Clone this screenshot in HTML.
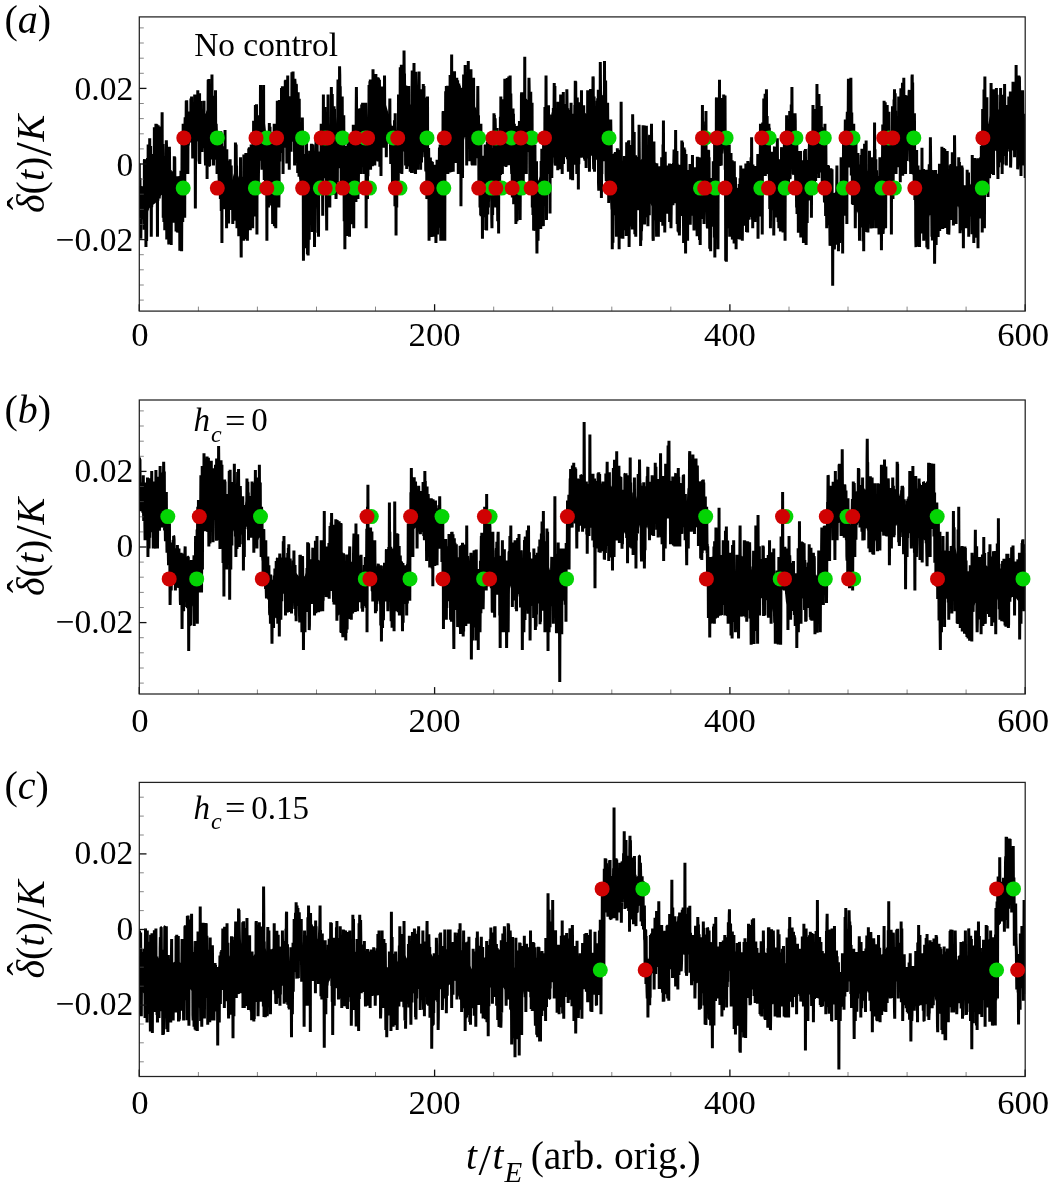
<!DOCTYPE html>
<html lang="en">
<head>
<meta charset="utf-8">
<title>Figure</title>
<style>
html,body{margin:0;padding:0;background:#fff;}
svg{display:block;}
text{font-family:"Liberation Serif","Times New Roman",serif;fill:#000;}
.tkx{font-size:34.7px;}
.tky{font-size:33.5px;}
.yl{font-size:40px;}
.pl{font-size:40px;}
.an{font-size:33px;}
.ti{font-size:39.5px;}
.it{font-style:italic;}
.sub{font-size:24px;}
.sub2{font-size:29px;}
</style>
</head>
<body>
<svg width="1048" height="1195" viewBox="0 0 1048 1195">
<rect x="0" y="0" width="1048" height="1195" fill="#fff"/>
<g id="panel-a">
<clipPath id="clipa"><rect x="139.3" y="16.9" width="885.9" height="294.2"/></clipPath>
<polygon clip-path="url(#clipa)" points="139.3,186.0 141.1,186.1 142.8,186.2 144.6,185.6 146.4,179.3 148.2,173.1 149.9,167.4 151.7,164.5 153.5,161.6 155.3,158.7 157.0,157.3 158.8,156.9 160.6,156.5 162.3,156.6 164.1,162.4 165.9,168.3 167.7,172.5 169.4,176.0 171.2,176.9 173.0,177.7 174.7,178.5 176.5,185.3 178.3,192.1 180.1,197.4 181.8,171.0 183.6,147.4 185.4,130.8 187.2,121.3 188.9,118.6 190.7,115.9 192.5,114.3 194.2,113.6 196.0,112.9 197.8,112.2 199.6,114.4 201.3,116.7 203.1,118.9 204.9,117.2 206.6,111.0 208.4,105.3 210.2,103.6 212.0,101.8 213.7,108.4 215.5,115.2 217.3,135.7 219.1,152.6 220.8,154.6 222.6,156.7 224.4,158.8 226.1,163.9 227.9,170.6 229.7,177.3 231.5,182.3 233.2,176.0 235.0,169.7 236.8,171.9 238.5,176.6 240.3,181.4 242.1,181.5 243.9,180.5 245.6,179.5 247.4,176.5 249.2,173.3 251.0,170.0 252.7,159.7 254.5,148.7 256.3,137.5 258.0,126.2 259.8,114.9 261.6,110.8 263.4,111.5 265.1,124.2 266.9,139.1 268.7,148.0 270.4,157.0 272.2,157.9 274.0,155.3 275.8,143.4 277.5,131.4 279.3,123.5 281.1,115.5 282.9,111.6 284.6,108.8 286.4,105.9 288.2,103.4 289.9,102.0 291.7,100.6 293.5,101.4 295.3,107.2 297.0,113.0 298.8,121.8 300.6,136.2 302.3,150.5 304.1,160.8 305.9,171.1 307.7,175.0 309.4,175.1 311.2,175.2 313.0,175.1 314.8,171.9 316.5,168.7 318.3,162.7 320.1,155.7 321.8,144.2 323.6,130.0 325.4,136.0 327.2,131.0 328.9,126.0 330.7,121.0 332.5,125.7 334.2,135.1 336.0,124.1 337.8,111.0 339.6,97.8 341.3,118.2 343.1,140.3 344.9,154.3 346.7,162.8 348.4,168.9 350.2,167.2 352.0,165.5 353.7,148.8 355.5,129.9 357.3,122.9 359.1,127.3 360.8,126.7 362.6,124.2 364.4,128.2 366.1,129.2 367.9,117.3 369.7,108.2 371.5,103.0 373.2,98.4 375.0,101.3 376.8,104.3 378.6,107.2 380.3,107.1 382.1,104.2 383.9,101.3 385.6,103.5 387.4,109.6 389.2,115.7 391.0,123.0 392.7,130.9 394.5,138.9 396.3,131.8 398.0,117.5 399.8,103.2 401.6,96.4 403.4,92.4 405.1,95.6 406.9,103.7 408.7,111.8 410.5,106.5 412.2,101.3 414.0,96.4 415.8,97.9 417.5,99.5 419.3,101.1 421.1,103.2 422.9,105.3 424.6,116.5 426.4,130.8 428.2,146.8 429.9,165.5 431.7,183.9 433.5,184.9 435.3,185.9 437.0,182.7 438.8,177.3 440.6,169.6 442.4,156.4 444.1,138.9 445.9,117.7 447.7,108.1 449.4,102.5 451.2,96.8 453.0,98.6 454.8,102.3 456.5,106.0 458.3,110.1 460.1,114.4 461.8,112.2 463.6,103.1 465.4,94.9 467.2,92.6 468.9,92.6 470.7,97.0 472.5,101.4 474.3,105.2 476.0,108.3 477.8,112.3 479.6,138.9 481.3,159.6 483.1,164.7 484.9,169.9 486.7,168.8 488.4,167.1 490.2,165.4 492.0,154.5 493.7,143.3 495.5,150.6 497.3,156.1 499.1,137.3 500.8,119.3 502.6,113.0 504.4,106.7 506.2,104.8 507.9,104.9 509.7,105.0 511.5,120.5 513.2,141.1 515.0,153.8 516.8,153.9 518.6,153.5 520.3,134.6 522.1,117.3 523.9,104.4 525.6,100.1 527.4,104.8 529.2,111.3 531.0,129.3 532.7,154.2 534.5,169.0 536.3,182.8 538.1,181.3 539.8,176.8 541.6,172.4 543.4,155.8 545.1,131.6 546.9,109.5 548.7,117.5 550.5,122.5 552.2,115.6 554.0,108.8 555.8,110.2 557.5,113.2 559.3,116.1 561.1,117.9 562.9,116.7 564.6,115.5 566.4,114.2 568.2,117.8 570.0,122.9 571.7,123.1 573.5,115.8 575.3,108.7 577.0,109.2 578.8,109.6 580.6,110.1 582.4,110.9 584.1,112.1 585.9,113.4 587.7,114.6 589.4,111.6 591.2,108.4 593.0,105.2 594.8,114.7 596.5,124.2 598.3,116.0 600.1,97.9 601.9,95.3 603.6,95.0 605.4,104.3 607.2,123.0 608.9,140.6 610.7,157.9 612.5,166.5 614.3,174.8 616.0,176.7 617.8,174.4 619.6,172.1 621.4,170.0 623.1,171.1 624.9,172.2 626.7,173.4 628.4,171.8 630.2,167.9 632.0,164.1 633.8,162.2 635.5,161.8 637.3,161.5 639.1,161.1 640.8,159.8 642.6,158.6 644.4,157.3 646.2,156.0 647.9,156.8 649.7,157.8 651.5,158.8 653.3,167.4 655.0,176.4 656.8,185.4 658.6,181.3 660.3,177.3 662.1,173.2 663.9,172.5 665.7,175.9 667.4,179.2 669.2,182.6 671.0,176.5 672.7,169.5 674.5,162.6 676.3,159.6 678.1,163.2 679.8,166.9 681.6,170.6 683.4,174.3 685.2,178.1 686.9,179.7 688.7,179.1 690.5,178.4 692.2,177.7 694.0,179.2 695.8,180.8 697.6,182.5 699.3,175.7 701.1,155.5 702.9,141.4 704.6,144.2 706.4,152.0 708.2,174.0 710.0,186.4 711.7,188.4 713.5,186.9 715.3,160.7 717.1,136.1 718.8,114.5 720.6,108.3 722.4,113.2 724.1,123.0 725.9,149.9 727.7,163.4 729.5,173.1 731.2,178.5 733.0,183.6 734.8,187.7 736.5,187.8 738.3,188.0 740.1,188.1 741.9,187.2 743.6,185.9 745.4,184.5 747.2,182.8 749.0,180.9 750.7,179.0 752.5,181.6 754.3,185.6 756.0,189.6 757.8,179.0 759.6,164.8 761.4,148.1 763.1,128.2 764.9,118.6 766.7,118.6 768.4,147.2 770.2,165.0 772.0,178.6 773.8,174.7 775.5,170.0 777.3,165.3 779.1,169.0 780.9,172.6 782.6,165.8 784.4,153.2 786.2,140.5 787.9,131.1 789.7,123.2 791.5,115.2 793.3,125.0 795.0,141.0 796.8,160.0 798.6,175.6 800.3,176.6 802.1,177.7 803.9,178.8 805.7,175.7 807.4,170.4 809.2,165.2 811.0,150.0 812.8,130.6 814.5,122.5 816.3,115.3 818.1,115.6 819.8,121.6 821.6,129.2 823.4,142.7 825.2,156.6 826.9,173.5 828.7,189.2 830.5,191.1 832.2,193.0 834.0,192.9 835.8,191.9 837.6,190.5 839.3,188.2 841.1,186.0 842.9,171.1 844.7,156.3 846.4,134.5 848.2,108.8 850.0,106.5 851.7,121.3 853.5,152.5 855.3,164.5 857.1,174.8 858.8,179.4 860.6,179.5 862.4,178.6 864.1,173.7 865.9,168.8 867.7,171.0 869.5,174.5 871.2,178.1 873.0,174.1 874.8,170.3 876.6,175.5 878.3,180.7 880.1,181.9 881.9,162.4 883.6,142.9 885.4,134.0 887.2,128.2 889.0,131.5 890.7,134.9 892.5,127.9 894.3,115.8 896.0,117.5 897.8,120.7 899.6,119.4 901.4,114.0 903.1,108.7 904.9,108.4 906.7,111.6 908.5,114.9 910.2,111.8 912.0,105.2 913.8,140.2 915.5,165.9 917.3,184.1 919.1,185.9 920.9,179.8 922.6,178.1 924.4,185.6 926.2,193.2 927.9,188.5 929.7,183.2 931.5,184.6 933.3,190.6 935.0,193.9 936.8,188.0 938.6,182.2 940.4,176.4 942.1,171.3 943.9,173.0 945.7,174.6 947.4,175.9 949.2,175.5 951.0,175.1 952.8,174.7 954.5,174.3 956.3,175.8 958.1,177.4 959.8,182.5 961.6,189.5 963.4,190.2 965.2,190.0 966.9,189.8 968.7,187.1 970.5,184.3 972.3,181.5 974.0,183.3 975.8,185.2 977.6,184.3 979.3,181.7 981.1,172.0 982.9,142.3 984.7,112.5 986.4,117.6 988.2,124.2 990.0,115.7 991.7,110.8 993.5,112.6 995.3,114.4 997.1,115.1 998.8,114.5 1000.6,113.7 1002.4,111.4 1004.2,109.1 1005.9,111.2 1007.7,115.1 1009.5,116.0 1011.2,110.3 1013.0,104.6 1014.8,99.4 1016.6,96.5 1018.3,103.3 1020.1,108.5 1021.9,111.7 1023.6,118.2 1023.6,148.3 1021.9,143.6 1020.1,145.6 1018.3,142.9 1016.6,136.6 1014.8,135.0 1013.0,134.7 1011.2,139.7 1009.5,144.7 1007.7,144.8 1005.9,142.6 1004.2,142.0 1002.4,145.0 1000.6,148.0 998.8,149.6 997.1,151.2 995.3,150.8 993.5,149.0 991.7,147.2 990.0,149.8 988.2,154.8 986.4,154.5 984.7,156.7 982.9,189.8 981.1,206.0 979.3,213.5 977.6,218.4 975.8,220.7 974.0,218.6 972.3,216.6 970.5,216.6 968.7,216.6 966.9,216.7 965.2,219.0 963.4,221.3 961.6,222.2 959.8,212.1 958.1,205.1 956.3,203.9 954.5,202.8 952.8,204.4 951.0,206.0 949.2,207.6 947.4,209.2 945.7,207.8 943.9,205.9 942.1,204.0 940.4,208.1 938.6,212.9 936.8,217.7 935.0,222.6 933.3,220.1 931.5,215.5 929.7,215.0 927.9,220.3 926.2,225.1 924.4,219.8 922.6,214.6 920.9,215.7 919.1,219.8 917.3,220.1 915.5,212.3 913.8,190.1 912.0,144.5 910.2,147.3 908.5,148.6 906.7,147.2 904.9,145.8 903.1,146.6 901.4,150.5 899.6,154.4 897.8,154.9 896.0,151.5 894.3,149.8 892.5,163.1 890.7,170.2 889.0,164.7 887.2,159.2 885.4,176.0 883.6,192.7 881.9,206.4 880.1,220.1 878.3,216.9 876.6,210.4 874.8,203.9 873.0,205.1 871.2,206.9 869.5,206.2 867.7,205.4 865.9,206.0 864.1,212.6 862.4,219.2 860.6,218.5 858.8,215.9 857.1,211.2 855.3,203.7 853.5,194.2 851.7,161.3 850.0,144.3 848.2,144.8 846.4,174.0 844.7,197.6 842.9,211.1 841.1,224.5 839.3,225.0 837.6,225.4 835.8,225.5 834.0,225.4 832.2,224.8 830.5,222.7 828.7,220.6 826.9,209.7 825.2,197.9 823.4,178.3 821.6,157.9 819.8,152.3 818.1,150.7 816.3,152.0 814.5,157.2 812.8,163.1 811.0,181.6 809.2,196.8 807.4,204.3 805.7,211.8 803.9,215.9 802.1,213.4 800.3,211.0 798.6,208.5 796.8,194.9 795.0,178.6 793.3,160.9 791.5,149.4 789.7,155.2 787.9,161.1 786.2,169.5 784.4,183.8 782.6,198.2 780.9,206.4 779.1,203.9 777.3,201.3 775.5,204.7 773.8,208.2 772.0,211.1 770.2,202.9 768.4,187.5 766.7,153.3 764.9,150.9 763.1,161.6 761.4,189.0 759.6,205.2 757.8,212.3 756.0,217.3 754.3,213.6 752.5,209.8 750.7,207.3 749.0,209.0 747.2,210.6 745.4,212.4 743.6,214.6 741.9,216.8 740.1,218.7 738.3,220.0 736.5,221.3 734.8,222.6 733.0,218.1 731.2,212.1 729.5,209.4 727.7,202.8 725.9,190.1 724.1,155.0 722.4,144.7 720.6,141.6 718.8,154.9 717.1,191.2 715.3,213.0 713.5,227.0 711.7,226.6 710.0,224.2 708.2,214.4 706.4,197.5 704.6,191.4 702.9,189.0 701.1,198.8 699.3,213.1 697.6,216.8 695.8,213.7 694.0,210.6 692.2,207.9 690.5,209.9 688.7,211.9 686.9,213.9 685.2,214.2 683.4,213.1 681.6,211.4 679.8,206.8 678.1,202.2 676.3,197.6 674.5,198.2 672.7,201.8 671.0,205.5 669.2,208.8 667.4,208.0 665.7,207.2 663.9,206.5 662.1,207.4 660.3,209.8 658.6,212.3 656.8,214.7 655.0,211.6 653.3,208.6 651.5,205.5 649.7,202.3 647.9,199.0 646.2,196.4 644.4,199.7 642.6,203.0 640.8,206.3 639.1,209.6 637.3,207.0 635.5,204.3 633.8,201.6 632.0,202.3 630.2,207.6 628.4,212.9 626.7,214.9 624.9,213.0 623.1,211.2 621.4,209.4 619.6,209.9 617.8,210.5 616.0,211.2 614.3,211.3 612.5,210.8 610.7,209.4 608.9,181.8 607.2,158.2 605.4,146.1 603.6,140.1 601.9,140.2 600.1,142.0 598.3,155.2 596.5,160.5 594.8,151.9 593.0,143.3 591.2,144.6 589.4,146.0 587.7,147.2 585.9,144.3 584.1,141.4 582.4,138.5 580.6,138.3 578.8,140.9 577.0,143.4 575.3,145.9 573.5,150.5 571.7,155.1 570.0,154.4 568.2,150.2 566.4,147.2 564.6,148.1 562.9,148.9 561.1,149.8 559.3,148.2 557.5,145.6 555.8,142.9 554.0,141.7 552.2,147.7 550.5,153.7 548.7,151.3 546.9,146.9 545.1,175.3 543.4,194.1 541.6,203.3 539.8,208.1 538.1,212.8 536.3,214.9 534.5,203.2 532.7,197.7 531.0,177.0 529.2,153.7 527.4,147.3 525.6,143.2 523.9,146.2 522.1,155.8 520.3,172.3 518.6,191.2 516.8,192.6 515.0,193.6 513.2,181.1 511.5,160.1 509.7,144.0 507.9,142.3 506.2,140.6 504.4,140.9 502.6,145.6 500.8,150.4 499.1,173.3 497.3,197.4 495.5,190.6 493.7,180.8 492.0,191.3 490.2,201.3 488.4,202.5 486.7,203.6 484.9,204.6 483.1,204.5 481.3,204.3 479.6,179.8 477.8,146.1 476.0,142.4 474.3,140.1 472.5,137.6 470.7,134.9 468.9,132.2 467.2,132.7 465.4,135.1 463.6,141.4 461.8,148.3 460.1,150.3 458.3,147.4 456.5,144.7 454.8,142.7 453.0,140.8 451.2,139.7 449.4,142.6 447.7,145.4 445.9,155.2 444.1,185.9 442.4,204.6 440.6,210.3 438.8,212.5 437.0,213.3 435.3,213.9 433.5,214.0 431.7,214.1 429.9,207.2 428.2,200.2 426.4,181.0 424.6,154.6 422.9,135.7 421.1,137.9 419.3,140.0 417.5,140.3 415.8,140.5 414.0,140.6 412.2,142.4 410.5,144.2 408.7,146.1 406.9,141.2 405.1,136.4 403.4,135.1 401.6,139.0 399.8,145.4 398.0,158.0 396.3,170.6 394.5,175.2 392.7,163.3 391.0,151.4 389.2,142.5 387.4,138.7 385.6,134.9 383.9,134.8 382.1,139.6 380.3,144.5 378.6,145.7 376.8,142.8 375.0,139.8 373.2,136.9 371.5,139.7 369.7,142.9 367.9,152.6 366.1,167.2 364.4,162.2 362.6,152.6 360.8,153.6 359.1,156.0 357.3,162.3 355.5,172.9 353.7,188.1 352.0,201.6 350.2,204.4 348.4,207.1 346.7,203.4 344.9,197.8 343.1,184.8 341.3,161.2 339.6,139.2 337.8,150.5 336.0,161.8 334.2,171.5 332.5,166.1 330.7,164.5 328.9,170.7 327.2,174.6 325.4,176.8 323.6,174.2 321.8,183.6 320.1,193.2 318.3,201.3 316.5,208.2 314.8,212.1 313.0,216.0 311.2,217.5 309.4,218.8 307.7,220.1 305.9,216.9 304.1,205.9 302.3,194.8 300.6,175.5 298.8,156.2 297.0,146.7 295.3,142.6 293.5,138.5 291.7,138.3 289.9,139.7 288.2,141.1 286.4,142.9 284.6,144.8 282.9,146.7 281.1,150.5 279.3,162.0 277.5,173.6 275.8,185.6 274.0,196.9 272.2,196.7 270.4,194.1 268.7,186.2 266.9,178.3 265.1,161.6 263.4,146.9 261.6,145.3 259.8,151.3 258.0,168.7 256.3,186.1 254.5,197.1 252.7,200.3 251.0,203.5 249.2,207.3 247.4,211.2 245.6,214.5 243.9,215.0 242.1,215.4 240.3,214.9 238.5,210.4 236.8,206.0 235.0,202.9 233.2,204.6 231.5,206.3 229.7,204.6 227.9,202.4 226.1,200.2 224.4,196.9 222.6,191.3 220.8,185.7 219.1,180.1 217.3,165.4 215.5,148.7 213.7,143.4 212.0,138.2 210.2,139.0 208.4,139.7 206.6,142.2 204.9,144.8 203.1,145.4 201.3,144.1 199.6,142.8 197.8,141.5 196.0,140.8 194.2,140.1 192.5,139.3 190.7,140.9 188.9,145.3 187.2,149.7 185.4,162.4 183.6,183.7 181.8,205.6 180.1,227.7 178.3,221.7 176.5,214.3 174.7,207.0 173.0,209.9 171.2,212.8 169.4,215.3 167.7,211.8 165.9,207.4 164.1,200.9 162.3,194.3 160.6,196.1 158.8,198.6 157.0,201.2 155.3,203.2 153.5,204.5 151.7,205.7 149.9,207.0 148.2,211.1 146.4,215.8 144.6,220.5 142.8,219.6 141.1,217.9 139.3,216.3" fill="#000"/>
<polyline clip-path="url(#clipa)" points="139.30,163.4 139.52,215.9 139.74,207.3 139.96,177.9 140.19,218.1 140.41,209.9 140.63,191.9 140.85,238.7 141.07,208.8 141.29,207.7 141.52,202.8 141.74,212.8 141.96,211.0 142.18,199.5 142.40,193.4 142.62,214.5 142.84,203.7 143.07,197.3 143.29,187.6 143.51,198.1 143.73,203.5 143.95,197.9 144.17,229.8 144.40,160.3 144.62,159.4 144.84,165.6 145.06,198.1 145.28,192.2 145.50,204.8 145.72,204.2 145.95,247.1 146.17,174.6 146.39,217.7 146.61,240.9 146.83,210.2 147.05,210.0 147.28,183.6 147.50,157.9 147.72,197.2 147.94,195.2 148.16,144.6 148.38,164.0 148.60,189.1 148.83,168.6 149.05,187.1 149.27,190.8 149.49,188.8 149.71,138.3 149.93,201.0 150.15,207.7 150.38,194.2 150.60,145.9 150.82,203.5 151.04,173.9 151.26,236.7 151.48,180.1 151.71,207.2 151.93,184.3 152.15,154.0 152.37,176.6 152.59,185.4 152.81,190.6 153.03,159.0 153.26,155.5 153.48,188.0 153.70,170.9 153.92,188.5 154.14,201.7 154.36,127.3 154.59,188.3 154.81,173.8 155.03,173.5 155.25,159.7 155.47,200.5 155.69,199.6 155.91,123.7 156.14,170.9 156.36,140.9 156.58,176.7 156.80,124.3 157.02,199.2 157.24,184.0 157.47,236.7 157.69,148.5 157.91,200.7 158.13,125.2 158.35,162.2 158.57,177.9 158.79,127.4 159.02,189.0 159.24,198.6 159.46,183.4 159.68,174.8 159.90,170.7 160.12,146.6 160.35,126.6 160.57,173.1 160.79,176.9 161.01,143.2 161.23,183.3 161.45,160.8 161.67,194.8 161.90,151.7 162.12,112.2 162.34,182.8 162.56,184.7 162.78,157.5 163.00,144.0 163.23,217.8 163.45,196.3 163.67,164.6 163.89,222.0 164.11,177.3 164.33,201.7 164.55,184.0 164.78,230.3 165.00,168.5 165.22,196.2 165.44,156.1 165.66,202.3 165.88,222.9 166.11,153.5 166.33,140.4 166.55,148.0 166.77,239.5 166.99,167.7 167.21,162.3 167.43,205.3 167.66,172.7 167.88,238.7 168.10,190.7 168.32,223.5 168.54,184.5 168.76,243.5 168.99,243.9 169.21,177.7 169.43,146.7 169.65,174.0 169.87,195.8 170.09,170.3 170.31,171.2 170.54,241.8 170.76,194.0 170.98,227.6 171.20,245.0 171.42,186.0 171.64,189.9 171.86,203.1 172.09,200.0 172.31,171.3 172.53,210.2 172.75,182.6 172.97,173.8 173.19,216.2 173.42,186.4 173.64,222.8 173.86,172.3 174.08,195.9 174.30,156.3 174.52,192.8 174.74,157.2 174.97,189.6 175.19,183.9 175.41,199.3 175.63,208.1 175.85,208.4 176.07,231.5 176.30,228.3 176.52,189.7 176.74,198.5 176.96,200.3 177.18,204.3 177.40,232.4 177.62,207.2 177.85,176.2 178.07,220.4 178.29,196.9 178.51,200.3 178.73,219.8 178.95,232.6 179.18,219.1 179.40,214.1 179.62,195.8 179.84,250.7 180.06,176.0 180.28,191.1 180.50,192.1 180.73,205.1 180.95,170.8 181.17,200.6 181.39,185.3 181.61,251.3 181.83,207.8 182.06,141.4 182.28,183.1 182.50,144.8 182.72,222.1 182.94,176.8 183.16,123.7 183.38,144.8 183.61,204.6 183.83,205.6 184.05,138.8 184.27,166.0 184.49,142.6 184.71,217.8 184.94,127.0 185.16,117.2 185.38,128.6 185.60,138.9 185.82,150.9 186.04,128.2 186.26,100.7 186.49,127.2 186.71,100.3 186.93,116.2 187.15,128.2 187.37,131.6 187.59,129.1 187.82,173.9 188.04,129.0 188.26,145.4 188.48,127.7 188.70,130.2 188.92,121.5 189.14,123.3 189.37,111.5 189.59,138.6 189.81,112.8 190.03,118.5 190.25,134.7 190.47,134.8 190.70,142.4 190.92,98.5 191.14,133.6 191.36,130.8 191.58,96.5 191.80,137.9 192.02,114.8 192.25,110.4 192.47,128.2 192.69,158.4 192.91,129.8 193.13,157.2 193.35,154.2 193.57,117.6 193.80,103.2 194.02,136.4 194.24,120.3 194.46,131.9 194.68,94.6 194.90,98.5 195.13,130.7 195.35,208.4 195.57,137.8 195.79,161.5 196.01,112.6 196.23,128.1 196.45,134.2 196.68,123.0 196.90,112.3 197.12,137.3 197.34,96.9 197.56,109.2 197.78,90.2 198.01,103.7 198.23,127.8 198.45,126.6 198.67,112.9 198.89,112.5 199.11,117.7 199.33,163.4 199.56,93.2 199.78,164.1 200.00,118.3 200.22,117.3 200.44,143.6 200.66,129.1 200.89,101.1 201.11,140.3 201.33,144.1 201.55,123.4 201.77,126.3 201.99,152.0 202.21,116.9 202.44,138.4 202.66,134.8 202.88,121.4 203.10,110.5 203.32,128.9 203.54,119.1 203.77,148.2 203.99,100.7 204.21,144.7 204.43,134.2 204.65,135.8 204.87,118.3 205.09,141.5 205.32,159.8 205.54,165.5 205.76,118.6 205.98,125.5 206.20,119.1 206.42,113.4 206.65,129.1 206.87,120.6 207.09,179.1 207.31,124.9 207.53,111.4 207.75,142.5 207.97,117.3 208.20,79.7 208.42,109.7 208.64,105.9 208.86,78.9 209.08,119.7 209.30,93.1 209.53,165.5 209.75,165.5 209.97,116.8 210.19,119.6 210.41,107.7 210.63,108.7 210.85,124.8 211.08,159.6 211.30,98.4 211.52,129.9 211.74,116.2 211.96,74.5 212.18,140.7 212.41,145.5 212.63,122.5 212.85,132.9 213.07,95.8 213.29,137.7 213.51,165.5 213.73,135.9 213.96,159.4 214.18,132.6 214.40,133.5 214.62,118.1 214.84,141.5 215.06,104.3 215.28,121.4 215.51,90.2 215.73,145.9 215.95,137.8 216.17,123.8 216.39,130.8 216.61,159.7 216.84,145.7 217.06,173.9 217.28,165.3 217.50,160.1 217.72,137.3 217.94,152.0 218.16,173.6 218.39,145.3 218.61,132.1 218.83,158.0 219.05,177.2 219.27,183.3 219.49,155.0 219.72,166.9 219.94,147.8 220.16,189.5 220.38,199.0 220.60,147.8 220.82,131.3 221.04,184.4 221.27,211.0 221.49,139.6 221.71,161.7 221.93,242.9 222.15,146.2 222.37,149.4 222.60,184.5 222.82,195.5 223.04,170.1 223.26,186.8 223.48,178.4 223.70,209.3 223.92,181.6 224.15,199.3 224.37,173.9 224.59,174.1 224.81,176.6 225.03,130.0 225.25,193.0 225.48,163.6 225.70,196.0 225.92,198.2 226.14,156.9 226.36,177.2 226.58,228.3 226.80,149.2 227.03,188.1 227.25,208.4 227.47,168.6 227.69,200.1 227.91,160.8 228.13,176.9 228.36,179.0 228.58,223.4 228.80,160.9 229.02,198.9 229.24,205.6 229.46,196.6 229.68,209.9 229.91,175.7 230.13,159.3 230.35,204.2 230.57,175.5 230.79,189.0 231.01,177.6 231.24,165.5 231.46,206.5 231.68,183.4 231.90,196.0 232.12,188.5 232.34,190.2 232.56,192.7 232.79,224.1 233.01,201.0 233.23,195.5 233.45,183.8 233.67,206.9 233.89,220.8 234.12,193.5 234.34,195.6 234.56,215.2 234.78,177.1 235.00,220.4 235.22,207.5 235.44,142.5 235.67,172.5 235.89,198.4 236.11,144.4 236.33,165.6 236.55,165.7 236.77,177.8 236.99,228.3 237.22,211.9 237.44,218.1 237.66,208.5 237.88,198.9 238.10,183.9 238.32,194.0 238.55,211.1 238.77,236.3 238.99,212.8 239.21,189.7 239.43,196.6 239.65,186.9 239.87,181.5 240.10,193.9 240.32,202.0 240.54,157.2 240.76,200.0 240.98,225.6 241.20,257.6 241.43,176.7 241.65,230.5 241.87,212.7 242.09,190.1 242.31,240.8 242.53,198.7 242.75,234.9 242.98,213.8 243.20,200.9 243.42,206.7 243.64,240.8 243.86,154.6 244.08,166.7 244.31,202.8 244.53,154.6 244.75,200.7 244.97,203.1 245.19,209.3 245.41,183.4 245.63,192.1 245.86,153.0 246.08,217.2 246.30,204.2 246.52,239.3 246.74,193.3 246.96,215.2 247.19,220.1 247.41,240.8 247.63,209.2 247.85,169.0 248.07,195.8 248.29,214.5 248.51,197.1 248.74,148.4 248.96,183.1 249.18,201.5 249.40,147.3 249.62,194.1 249.84,189.5 250.07,161.3 250.29,230.3 250.51,160.2 250.73,165.9 250.95,163.1 251.17,144.6 251.39,167.2 251.62,198.4 251.84,196.2 252.06,221.0 252.28,152.1 252.50,166.6 252.72,228.3 252.95,147.6 253.17,142.6 253.39,173.2 253.61,120.8 253.83,182.3 254.05,194.9 254.27,144.1 254.50,199.7 254.72,188.5 254.94,160.9 255.16,216.6 255.38,104.9 255.60,144.2 255.82,167.0 256.05,204.1 256.27,119.6 256.49,104.2 256.71,165.7 256.93,234.6 257.15,139.2 257.38,168.8 257.60,158.0 257.82,121.0 258.04,161.6 258.26,191.5 258.48,172.6 258.70,165.4 258.93,140.7 259.15,160.8 259.37,115.2 259.59,151.3 259.81,131.2 260.03,154.9 260.26,139.0 260.48,85.0 260.70,136.9 260.92,152.0 261.14,105.1 261.36,116.6 261.58,112.5 261.81,97.8 262.03,169.7 262.25,90.7 262.47,145.1 262.69,133.8 262.91,127.9 263.14,134.0 263.36,114.0 263.58,85.0 263.80,152.7 264.02,152.5 264.24,180.1 264.46,138.5 264.69,135.2 264.91,148.6 265.13,146.8 265.35,173.9 265.57,194.3 265.79,191.1 266.02,166.5 266.24,173.0 266.46,155.9 266.68,166.4 266.90,240.8 267.12,131.1 267.34,157.9 267.57,168.9 267.79,178.6 268.01,156.2 268.23,186.6 268.45,207.4 268.67,165.9 268.90,187.2 269.12,148.8 269.34,123.0 269.56,147.9 269.78,174.4 270.00,126.7 270.22,166.6 270.45,168.3 270.67,145.6 270.89,132.1 271.11,167.9 271.33,176.3 271.55,205.6 271.78,185.9 272.00,141.7 272.22,157.8 272.44,193.3 272.66,224.1 272.88,185.9 273.10,184.0 273.33,220.9 273.55,175.8 273.77,168.7 273.99,141.5 274.21,123.7 274.43,226.2 274.66,180.9 274.88,171.0 275.10,134.3 275.32,170.8 275.54,188.1 275.76,228.3 275.98,181.1 276.21,179.3 276.43,171.0 276.65,201.2 276.87,176.2 277.09,153.8 277.31,100.7 277.53,131.6 277.76,193.0 277.98,142.2 278.20,199.8 278.42,191.3 278.64,141.4 278.86,207.4 279.09,182.7 279.31,100.1 279.53,131.4 279.75,161.4 279.97,119.1 280.19,127.6 280.41,129.2 280.64,149.4 280.86,137.1 281.08,141.3 281.30,143.9 281.52,88.1 281.74,153.1 281.97,115.5 282.19,100.7 282.41,86.2 282.63,96.1 282.85,117.8 283.07,173.9 283.29,132.1 283.52,115.8 283.74,105.6 283.96,116.6 284.18,118.9 284.40,115.1 284.62,96.5 284.85,116.4 285.07,147.8 285.29,80.4 285.51,120.4 285.73,79.7 285.95,128.9 286.17,108.5 286.40,144.7 286.62,126.3 286.84,163.5 287.06,125.9 287.28,148.8 287.50,121.3 287.73,75.6 287.95,133.3 288.17,113.0 288.39,157.7 288.61,139.3 288.83,128.1 289.05,109.9 289.28,169.7 289.50,101.9 289.72,135.3 289.94,100.1 290.16,134.2 290.38,96.2 290.61,126.2 290.83,125.8 291.05,151.7 291.27,101.6 291.49,109.1 291.71,138.0 291.93,72.2 292.16,95.5 292.38,141.8 292.60,129.0 292.82,140.2 293.04,71.4 293.26,131.7 293.49,101.7 293.71,90.8 293.93,84.6 294.15,110.0 294.37,110.7 294.59,165.5 294.81,78.8 295.04,82.4 295.26,113.8 295.48,131.5 295.70,114.2 295.92,108.8 296.14,84.2 296.37,85.0 296.59,125.1 296.81,162.8 297.03,146.4 297.25,135.9 297.47,119.9 297.69,173.1 297.92,110.1 298.14,92.3 298.36,134.9 298.58,147.5 298.80,158.2 299.02,176.7 299.24,98.7 299.47,167.5 299.69,173.9 299.91,129.8 300.13,137.8 300.35,131.4 300.57,178.5 300.80,179.6 301.02,190.4 301.24,161.5 301.46,171.0 301.68,151.9 301.90,139.4 302.12,182.0 302.35,117.4 302.57,145.2 302.79,190.7 303.01,131.1 303.23,173.4 303.45,260.7 303.68,166.8 303.90,228.3 304.12,208.6 304.34,199.7 304.56,194.1 304.78,190.8 305.00,154.1 305.23,179.9 305.45,248.3 305.67,195.6 305.89,226.2 306.11,203.8 306.33,180.1 306.56,140.4 306.78,203.0 307.00,158.6 307.22,201.3 307.44,254.3 307.66,167.1 307.88,186.0 308.11,255.5 308.33,235.3 308.55,222.2 308.77,217.0 308.99,202.4 309.21,239.8 309.44,171.1 309.66,150.8 309.88,175.7 310.10,220.5 310.32,177.4 310.54,159.1 310.76,194.7 310.99,152.1 311.21,187.2 311.43,143.7 311.65,189.6 311.87,144.0 312.09,189.5 312.32,232.1 312.54,188.7 312.76,144.6 312.98,179.3 313.20,172.8 313.42,157.9 313.64,218.2 313.87,191.5 314.09,231.0 314.31,163.9 314.53,247.1 314.75,192.9 314.97,223.8 315.20,232.9 315.42,174.4 315.64,162.6 315.86,148.1 316.08,139.7 316.30,185.7 316.52,172.3 316.75,185.7 316.97,138.3 317.19,145.8 317.41,206.1 317.63,192.7 317.85,186.1 318.08,159.0 318.30,194.1 318.52,236.7 318.74,151.4 318.96,184.2 319.18,167.3 319.40,184.2 319.63,175.5 319.85,171.0 320.07,153.9 320.29,172.0 320.51,158.0 320.73,167.3 320.95,166.5 321.18,123.7 321.40,153.8 321.62,157.3 321.84,187.4 322.06,155.4 322.28,161.6 322.51,177.9 322.73,215.7 322.95,154.9 323.17,156.3 323.39,94.4 323.61,178.2 323.83,123.9 324.06,141.3 324.28,114.6 324.50,161.1 324.72,109.7 324.94,106.9 325.16,158.8 325.39,126.7 325.61,120.0 325.83,152.8 326.05,173.5 326.27,169.3 326.49,207.4 326.71,230.4 326.94,114.8 327.16,153.0 327.38,207.4 327.60,139.4 327.82,169.3 328.04,94.4 328.27,183.7 328.49,138.9 328.71,133.8 328.93,150.0 329.15,179.9 329.37,187.5 329.59,136.1 329.82,207.4 330.04,143.9 330.26,133.9 330.48,158.0 330.70,161.3 330.92,155.2 331.15,124.1 331.37,87.1 331.59,142.9 331.81,180.3 332.03,177.3 332.25,93.9 332.47,122.1 332.70,122.9 332.92,194.8 333.14,149.4 333.36,155.2 333.58,132.0 333.80,160.4 334.03,106.3 334.25,124.4 334.47,109.0 334.69,157.0 334.91,165.3 335.13,144.4 335.35,185.6 335.58,173.7 335.80,162.8 336.02,199.0 336.24,188.8 336.46,147.6 336.68,125.0 336.91,128.8 337.13,155.5 337.35,182.1 337.57,136.7 337.79,102.3 338.01,79.5 338.23,144.6 338.46,168.3 338.68,97.5 338.90,137.4 339.12,100.5 339.34,165.7 339.56,66.2 339.78,75.7 340.01,125.3 340.23,86.3 340.45,126.4 340.67,153.5 340.89,99.6 341.11,181.8 341.34,169.7 341.56,125.6 341.78,141.9 342.00,146.0 342.22,96.4 342.44,153.6 342.66,120.8 342.89,190.6 343.11,166.1 343.33,153.7 343.55,195.1 343.77,115.3 343.99,161.6 344.22,221.2 344.44,170.5 344.66,156.9 344.88,249.2 345.10,158.6 345.32,228.3 345.54,180.1 345.77,168.9 345.99,159.7 346.21,161.8 346.43,145.9 346.65,185.2 346.87,192.8 347.10,201.9 347.32,235.3 347.54,204.7 347.76,236.1 347.98,140.4 348.20,190.0 348.42,205.8 348.65,198.9 348.87,203.2 349.09,207.7 349.31,206.3 349.53,236.7 349.75,140.1 349.98,169.0 350.20,193.1 350.42,174.8 350.64,199.7 350.86,201.8 351.08,185.3 351.30,224.3 351.53,138.7 351.75,203.3 351.97,200.8 352.19,138.3 352.41,193.4 352.63,165.3 352.86,195.4 353.08,167.4 353.30,124.8 353.52,150.9 353.74,228.3 353.96,157.2 354.18,137.1 354.41,177.2 354.63,129.4 354.85,133.4 355.07,177.2 355.29,177.3 355.51,167.8 355.74,157.5 355.96,202.0 356.18,113.0 356.40,87.1 356.62,117.2 356.84,114.6 357.06,135.1 357.29,167.9 357.51,163.8 357.73,137.2 357.95,199.0 358.17,122.0 358.39,182.9 358.62,159.5 358.84,152.0 359.06,135.7 359.28,140.2 359.50,109.0 359.72,136.1 359.94,108.2 360.17,139.6 360.39,139.4 360.61,144.7 360.83,143.2 361.05,173.9 361.27,139.3 361.49,152.1 361.72,104.6 361.94,120.8 362.16,167.0 362.38,118.1 362.60,102.8 362.82,150.8 363.05,124.2 363.27,153.4 363.49,115.3 363.71,106.5 363.93,117.7 364.15,173.9 364.37,144.6 364.60,139.3 364.82,153.5 365.04,125.6 365.26,102.8 365.48,147.2 365.70,102.8 365.93,116.9 366.15,228.3 366.37,132.3 366.59,146.5 366.81,162.9 367.03,155.6 367.25,159.8 367.48,199.0 367.70,120.1 367.92,176.3 368.14,128.1 368.36,141.1 368.58,144.6 368.81,156.5 369.03,85.0 369.25,116.7 369.47,117.0 369.69,119.2 369.91,81.3 370.13,122.3 370.36,79.6 370.58,169.7 370.80,134.0 371.02,134.9 371.24,95.9 371.46,141.7 371.69,101.9 371.91,93.3 372.13,98.0 372.35,166.3 372.57,122.3 372.79,120.0 373.01,69.3 373.24,105.2 373.46,138.2 373.68,122.8 373.90,130.1 374.12,85.1 374.34,140.9 374.57,84.3 374.79,165.5 375.01,151.3 375.23,156.8 375.45,132.9 375.67,113.4 375.89,73.9 376.12,111.5 376.34,149.2 376.56,123.2 376.78,120.6 377.00,92.0 377.22,160.7 377.45,139.2 377.67,81.5 377.89,77.2 378.11,161.5 378.33,146.1 378.55,78.3 378.77,101.1 379.00,105.1 379.22,121.9 379.44,79.7 379.66,113.6 379.88,166.8 380.10,105.7 380.33,117.9 380.55,143.8 380.77,119.6 380.99,176.0 381.21,121.0 381.43,132.9 381.65,86.6 381.88,117.2 382.10,119.6 382.32,113.1 382.54,136.0 382.76,108.9 382.98,112.6 383.20,120.2 383.43,133.5 383.65,114.1 383.87,147.8 384.09,99.8 384.31,142.0 384.53,75.6 384.76,113.6 384.98,124.2 385.20,108.0 385.42,135.2 385.64,111.7 385.86,143.5 386.08,116.6 386.31,157.2 386.53,129.7 386.75,124.0 386.97,139.5 387.19,114.1 387.41,130.7 387.64,135.5 387.86,130.1 388.08,125.6 388.30,115.2 388.52,123.2 388.74,130.1 388.96,136.4 389.19,123.6 389.41,130.0 389.63,114.4 389.85,98.6 390.07,144.1 390.29,134.9 390.52,148.6 390.74,164.1 390.96,138.5 391.18,135.2 391.40,163.4 391.62,148.5 391.84,139.2 392.07,125.7 392.29,156.6 392.51,185.7 392.73,155.6 392.95,141.9 393.17,153.5 393.40,155.9 393.62,187.9 393.84,139.3 394.06,154.3 394.28,163.5 394.50,120.2 394.72,123.6 394.95,206.2 395.17,113.2 395.39,170.8 395.61,137.3 395.83,137.4 396.05,235.6 396.28,130.7 396.50,167.5 396.72,207.4 396.94,160.0 397.16,151.8 397.38,190.1 397.60,130.0 397.83,132.1 398.05,158.9 398.27,187.0 398.49,94.4 398.71,169.2 398.93,97.9 399.16,117.8 399.38,149.3 399.60,153.5 399.82,103.3 400.04,121.8 400.26,67.2 400.48,149.8 400.71,173.0 400.93,73.3 401.15,141.7 401.37,64.8 401.59,118.1 401.81,173.9 402.04,166.7 402.26,120.4 402.48,97.3 402.70,102.7 402.92,100.3 403.14,119.0 403.36,109.8 403.59,129.7 403.81,151.4 404.03,50.5 404.25,82.3 404.47,73.6 404.69,96.0 404.91,109.5 405.14,108.0 405.36,101.0 405.58,165.5 405.80,85.5 406.02,125.7 406.24,131.7 406.47,114.0 406.69,169.1 406.91,129.5 407.13,110.5 407.35,109.3 407.57,115.1 407.79,138.4 408.02,127.7 408.24,102.7 408.46,121.9 408.68,86.0 408.90,166.6 409.12,104.4 409.35,134.7 409.57,121.7 409.79,144.4 410.01,136.0 410.23,171.8 410.45,136.9 410.67,112.7 410.90,112.3 411.12,133.3 411.34,132.7 411.56,173.0 411.78,162.4 412.00,94.2 412.23,70.4 412.45,88.9 412.67,80.1 412.89,139.0 413.11,133.9 413.33,93.2 413.55,161.3 413.78,93.4 414.00,63.0 414.22,135.5 414.44,124.4 414.66,173.3 414.88,117.1 415.11,172.9 415.33,115.5 415.55,173.9 415.77,71.8 415.99,85.9 416.21,134.5 416.43,102.1 416.66,132.9 416.88,149.8 417.10,111.1 417.32,126.6 417.54,169.8 417.76,136.6 417.99,163.8 418.21,156.4 418.43,138.0 418.65,95.8 418.87,100.9 419.09,71.4 419.31,131.7 419.54,131.1 419.76,116.7 419.98,139.1 420.20,107.5 420.42,144.2 420.64,169.7 420.87,122.7 421.09,148.2 421.31,102.6 421.53,162.5 421.75,89.2 421.97,123.9 422.19,143.9 422.42,133.8 422.64,115.1 422.86,151.6 423.08,101.8 423.30,83.9 423.52,133.0 423.75,97.9 423.97,85.9 424.19,148.7 424.41,149.4 424.63,152.0 424.85,157.2 425.07,145.1 425.30,119.0 425.52,148.4 425.74,169.5 425.96,171.4 426.18,97.6 426.40,162.7 426.62,117.2 426.85,199.1 427.07,188.9 427.29,154.9 427.51,96.5 427.73,190.2 427.95,184.2 428.18,180.9 428.40,165.7 428.62,147.9 428.84,163.1 429.06,240.8 429.28,165.8 429.50,210.1 429.73,221.0 429.95,216.8 430.17,205.8 430.39,157.6 430.61,236.7 430.83,203.6 431.06,192.2 431.28,237.1 431.50,191.3 431.72,161.3 431.94,204.5 432.16,192.8 432.38,162.0 432.61,198.6 432.83,207.5 433.05,192.2 433.27,236.7 433.49,207.2 433.71,217.0 433.94,191.6 434.16,208.4 434.38,166.9 434.60,178.7 434.82,205.1 435.04,164.7 435.26,183.5 435.49,165.1 435.71,220.2 435.93,242.9 436.15,228.2 436.37,203.2 436.59,196.1 436.82,202.7 437.04,159.7 437.26,211.1 437.48,234.6 437.70,215.8 437.92,187.6 438.14,166.8 438.37,227.7 438.59,166.0 438.81,196.5 439.03,213.5 439.25,168.1 439.47,147.5 439.70,204.0 439.92,169.6 440.14,144.6 440.36,193.5 440.58,217.7 440.80,240.8 441.02,206.8 441.25,172.9 441.47,174.1 441.69,240.8 441.91,188.6 442.13,158.5 442.35,141.9 442.58,198.6 442.80,240.8 443.02,113.1 443.24,111.1 443.46,165.9 443.68,191.5 443.90,190.2 444.13,163.9 444.35,131.8 444.57,119.3 444.79,240.8 445.01,121.7 445.23,141.1 445.45,137.7 445.68,91.3 445.90,106.9 446.12,165.5 446.34,86.0 446.56,153.2 446.78,95.9 447.01,157.4 447.23,111.4 447.45,85.8 447.67,99.8 447.89,173.9 448.11,125.5 448.33,120.8 448.56,171.8 448.78,118.0 449.00,168.1 449.22,106.6 449.44,133.5 449.66,123.9 449.89,172.5 450.11,75.0 450.33,147.1 450.55,102.2 450.77,104.6 450.99,116.4 451.21,171.9 451.44,98.3 451.66,54.6 451.88,150.8 452.10,97.1 452.32,130.7 452.54,118.4 452.77,121.7 452.99,115.5 453.21,171.8 453.43,129.9 453.65,141.6 453.87,110.7 454.09,103.4 454.32,96.3 454.54,71.3 454.76,151.4 454.98,135.9 455.20,135.9 455.42,163.0 455.65,128.8 455.87,141.7 456.09,97.0 456.31,100.3 456.53,118.2 456.75,77.7 456.97,141.7 457.20,96.7 457.42,128.5 457.64,80.2 457.86,103.5 458.08,120.9 458.30,173.9 458.53,90.2 458.75,83.5 458.97,151.2 459.19,144.5 459.41,85.5 459.63,118.9 459.85,106.8 460.08,97.4 460.30,163.0 460.52,122.2 460.74,98.4 460.96,206.3 461.18,148.0 461.41,87.7 461.63,134.2 461.85,175.5 462.07,146.8 462.29,140.1 462.51,178.1 462.73,123.8 462.96,104.5 463.18,105.5 463.40,132.4 463.62,74.4 463.84,127.1 464.06,76.6 464.29,136.7 464.51,128.8 464.73,118.3 464.95,120.1 465.17,65.1 465.39,105.9 465.61,102.0 465.84,88.6 466.06,121.2 466.28,98.2 466.50,114.4 466.72,165.5 466.94,78.7 467.16,76.1 467.39,141.1 467.61,110.4 467.83,106.4 468.05,112.1 468.27,60.9 468.49,129.3 468.72,125.1 468.94,98.7 469.16,93.8 469.38,88.3 469.60,85.1 469.82,161.3 470.04,93.9 470.27,69.6 470.49,96.6 470.71,98.4 470.93,69.3 471.15,97.3 471.37,83.3 471.60,126.2 471.82,145.5 472.04,164.3 472.26,164.5 472.48,148.2 472.70,95.4 472.92,111.9 473.15,165.2 473.37,164.2 473.59,77.7 473.81,146.8 474.03,118.8 474.25,134.8 474.48,156.2 474.70,114.0 474.92,136.3 475.14,165.5 475.36,121.1 475.58,145.2 475.80,158.1 476.03,126.7 476.25,125.7 476.47,119.8 476.69,114.0 476.91,129.8 477.13,118.8 477.36,121.2 477.58,112.4 477.80,86.0 478.02,113.9 478.24,143.6 478.46,115.2 478.68,130.1 478.91,184.9 479.13,177.7 479.35,169.7 479.57,173.8 479.79,147.1 480.01,207.6 480.24,155.7 480.46,176.5 480.68,215.0 480.90,123.7 481.12,216.3 481.34,160.5 481.56,188.4 481.79,175.1 482.01,180.7 482.23,187.2 482.45,238.7 482.67,159.5 482.89,202.4 483.12,201.4 483.34,214.5 483.56,205.2 483.78,155.7 484.00,214.0 484.22,214.2 484.44,175.3 484.67,208.5 484.89,217.2 485.11,144.6 485.33,159.4 485.55,179.8 485.77,230.1 486.00,191.5 486.22,161.8 486.44,181.2 486.66,230.4 486.88,177.8 487.10,187.8 487.32,141.9 487.55,192.9 487.77,214.5 487.99,141.1 488.21,177.0 488.43,207.5 488.65,158.2 488.87,158.4 489.10,155.2 489.32,180.8 489.54,192.2 489.76,181.8 489.98,195.1 490.20,138.3 490.43,192.9 490.65,141.8 490.87,173.9 491.09,196.2 491.31,154.5 491.53,170.2 491.75,218.7 491.98,228.3 492.20,148.3 492.42,182.2 492.64,215.1 492.86,188.1 493.08,150.5 493.31,163.5 493.53,178.3 493.75,154.5 493.97,113.2 494.19,203.7 494.41,115.1 494.63,144.2 494.86,155.5 495.08,118.4 495.30,125.5 495.52,176.8 495.74,207.4 495.96,149.9 496.19,183.5 496.41,182.0 496.63,135.0 496.85,177.9 497.07,127.9 497.29,153.6 497.51,198.0 497.74,221.3 497.96,155.3 498.18,150.4 498.40,163.1 498.62,233.5 498.84,133.6 499.07,181.6 499.29,173.2 499.51,187.6 499.73,172.7 499.95,162.6 500.17,158.4 500.39,116.7 500.62,175.0 500.84,96.5 501.06,140.9 501.28,123.8 501.50,139.9 501.72,153.8 501.95,140.8 502.17,99.3 502.39,173.9 502.61,104.3 502.83,114.0 503.05,125.5 503.27,126.0 503.50,151.9 503.72,105.8 503.94,137.7 504.16,114.3 504.38,151.2 504.60,166.1 504.83,78.7 505.05,150.0 505.27,111.4 505.49,107.4 505.71,83.7 505.93,167.1 506.15,102.6 506.38,117.8 506.60,165.5 506.82,138.0 507.04,133.1 507.26,77.9 507.48,107.7 507.71,124.2 507.93,126.6 508.15,129.4 508.37,132.1 508.59,121.3 508.81,76.4 509.03,99.0 509.26,105.6 509.48,165.3 509.70,114.7 509.92,140.1 510.14,75.6 510.36,135.0 510.58,120.8 510.81,93.6 511.03,111.4 511.25,144.8 511.47,166.5 511.69,173.9 511.91,163.5 512.14,164.9 512.36,197.5 512.58,138.5 512.80,159.6 513.02,108.6 513.24,190.4 513.46,113.7 513.69,204.2 513.91,164.0 514.13,147.3 514.35,123.7 514.57,179.0 514.79,164.5 515.02,135.6 515.24,142.8 515.46,150.7 515.68,184.1 515.90,224.1 516.12,125.9 516.34,140.1 516.57,159.8 516.79,211.3 517.01,221.4 517.23,162.3 517.45,194.3 517.67,204.5 517.90,201.7 518.12,170.3 518.34,183.2 518.56,125.8 518.78,128.8 519.00,172.9 519.22,182.5 519.45,121.0 519.67,159.4 519.89,164.7 520.11,219.9 520.33,184.0 520.55,168.8 520.78,133.5 521.00,138.2 521.22,154.1 521.44,95.6 521.66,92.3 521.88,172.8 522.10,139.4 522.33,103.7 522.55,126.9 522.77,182.0 522.99,126.4 523.21,186.4 523.43,159.0 523.66,110.9 523.88,124.7 524.10,121.3 524.32,92.4 524.54,130.6 524.76,56.7 524.98,140.0 525.21,105.3 525.43,98.7 525.65,168.3 525.87,99.9 526.09,108.0 526.31,173.9 526.54,116.2 526.76,101.4 526.98,123.8 527.20,107.9 527.42,115.7 527.64,135.7 527.86,144.6 528.09,139.3 528.31,110.1 528.53,138.6 528.75,126.4 528.97,77.7 529.19,89.5 529.42,152.1 529.64,134.1 529.86,184.8 530.08,159.8 530.30,115.4 530.52,182.3 530.74,91.8 530.97,128.7 531.19,175.2 531.41,149.7 531.63,129.5 531.85,165.9 532.07,102.8 532.29,207.6 532.52,160.1 532.74,167.6 532.96,215.0 533.18,182.7 533.40,140.4 533.62,230.4 533.85,229.8 534.07,185.4 534.29,214.8 534.51,183.3 534.73,213.8 534.95,144.6 535.17,214.5 535.40,201.2 535.62,213.5 535.84,199.7 536.06,187.1 536.28,178.5 536.50,161.3 536.73,228.3 536.95,253.4 537.17,208.6 537.39,209.7 537.61,208.0 537.83,189.5 538.05,240.8 538.28,197.2 538.50,221.6 538.72,181.6 538.94,188.9 539.16,191.1 539.38,192.2 539.61,180.5 539.83,182.2 540.05,211.8 540.27,180.9 540.49,208.8 540.71,229.1 540.93,214.2 541.16,161.1 541.38,203.8 541.60,197.9 541.82,148.8 542.04,155.6 542.26,199.7 542.49,161.2 542.71,208.4 542.93,202.7 543.15,223.4 543.37,226.2 543.59,139.5 543.81,198.0 544.04,192.7 544.26,160.2 544.48,202.8 544.70,184.4 544.92,106.9 545.14,146.1 545.37,135.7 545.59,114.8 545.81,134.8 546.03,75.6 546.25,122.8 546.47,219.9 546.69,127.2 546.92,123.6 547.14,123.7 547.36,128.9 547.58,173.9 547.80,135.9 548.02,112.1 548.25,136.3 548.47,105.2 548.69,153.9 548.91,141.0 549.13,173.0 549.35,142.4 549.57,124.4 549.80,172.8 550.02,213.6 550.24,125.5 550.46,143.3 550.68,137.8 550.90,168.1 551.12,143.4 551.35,145.6 551.57,114.4 551.79,178.1 552.01,148.8 552.23,144.9 552.45,131.4 552.68,134.4 552.90,112.4 553.12,157.5 553.34,107.9 553.56,129.0 553.78,119.9 554.00,110.5 554.23,82.9 554.45,138.0 554.67,125.4 554.89,86.1 555.11,162.2 555.33,165.3 555.56,143.9 555.78,164.4 556.00,165.5 556.22,139.0 556.44,120.8 556.66,112.1 556.88,149.9 557.11,119.7 557.33,122.0 557.55,144.5 557.77,170.2 557.99,101.7 558.21,127.6 558.44,117.6 558.66,126.8 558.88,112.0 559.10,155.7 559.32,169.2 559.54,112.8 559.76,146.3 559.99,114.4 560.21,114.7 560.43,137.0 560.65,94.4 560.87,151.0 561.09,165.4 561.32,112.9 561.54,120.7 561.76,140.1 561.98,141.1 562.20,173.9 562.42,126.8 562.64,126.2 562.87,122.3 563.09,142.3 563.31,92.1 563.53,163.9 563.75,123.2 563.97,105.8 564.20,143.4 564.42,106.0 564.64,140.1 564.86,131.1 565.08,143.8 565.30,147.5 565.52,157.1 565.75,154.4 565.97,104.1 566.19,131.4 566.41,104.1 566.63,142.9 566.85,89.2 567.08,105.9 567.30,143.8 567.52,159.2 567.74,108.3 567.96,145.1 568.18,158.5 568.40,171.8 568.63,117.3 568.85,110.1 569.07,134.8 569.29,128.3 569.51,138.0 569.73,136.8 569.96,149.0 570.18,129.5 570.40,137.4 570.62,179.4 570.84,139.2 571.06,102.8 571.28,161.1 571.51,144.4 571.73,122.5 571.95,148.9 572.17,137.1 572.39,153.2 572.61,180.2 572.83,139.5 573.06,150.3 573.28,113.7 573.50,136.0 573.72,164.8 573.94,130.9 574.16,118.0 574.39,135.0 574.61,125.9 574.83,104.9 575.05,120.3 575.27,80.8 575.49,108.8 575.71,81.6 575.94,115.3 576.16,97.6 576.38,121.3 576.60,153.7 576.82,173.9 577.04,126.2 577.27,97.6 577.49,150.2 577.71,136.8 577.93,133.9 578.15,123.8 578.37,189.6 578.59,102.2 578.82,164.3 579.04,130.4 579.26,118.9 579.48,114.1 579.70,144.8 579.92,123.4 580.15,152.8 580.37,137.7 580.59,114.7 580.81,135.2 581.03,120.5 581.25,157.8 581.47,90.2 581.70,130.7 581.92,134.7 582.14,131.5 582.36,122.0 582.58,118.3 582.80,111.0 583.03,157.2 583.25,139.7 583.47,131.3 583.69,105.2 583.91,135.5 584.13,132.9 584.35,155.9 584.58,159.1 584.80,115.0 585.02,160.8 585.24,147.8 585.46,125.2 585.68,120.2 585.91,142.8 586.13,168.0 586.35,129.3 586.57,137.9 586.79,124.6 587.01,130.5 587.23,138.1 587.46,157.7 587.68,90.2 587.90,104.0 588.12,131.7 588.34,135.0 588.56,158.4 588.79,144.6 589.01,117.7 589.23,141.2 589.45,171.8 589.67,135.1 589.89,122.0 590.11,142.6 590.34,121.0 590.56,89.1 590.78,155.8 591.00,100.3 591.22,120.1 591.44,120.2 591.67,119.4 591.89,120.2 592.11,94.6 592.33,137.3 592.55,126.1 592.77,126.0 592.99,76.6 593.22,77.9 593.44,156.9 593.66,169.3 593.88,139.4 594.10,96.6 594.32,138.7 594.54,171.8 594.77,135.4 594.99,122.0 595.21,116.9 595.43,154.6 595.65,159.4 595.87,115.5 596.10,140.2 596.32,138.2 596.54,134.7 596.76,131.3 596.98,144.2 597.20,100.7 597.42,145.2 597.65,98.3 597.87,126.9 598.09,128.2 598.31,89.7 598.53,183.4 598.75,190.6 598.98,115.7 599.20,124.1 599.42,178.7 599.64,177.5 599.86,102.9 600.08,129.1 600.30,62.0 600.53,91.2 600.75,97.9 600.97,97.9 601.19,109.6 601.41,197.9 601.63,171.1 601.86,173.9 602.08,127.8 602.30,122.6 602.52,148.5 602.74,107.5 602.96,159.3 603.18,161.0 603.41,115.5 603.63,120.6 603.85,122.8 604.07,150.9 604.29,137.8 604.51,60.9 604.74,140.9 604.96,125.3 605.18,129.7 605.40,107.0 605.62,80.5 605.84,123.5 606.06,173.9 606.29,181.0 606.51,169.4 606.73,162.1 606.95,127.0 607.17,183.2 607.39,108.1 607.62,102.8 607.84,131.3 608.06,129.8 608.28,155.7 608.50,155.2 608.72,203.1 608.94,185.3 609.17,186.4 609.39,177.6 609.61,165.7 609.83,153.8 610.05,133.0 610.27,153.0 610.50,169.6 610.72,119.5 610.94,134.1 611.16,145.1 611.38,192.3 611.60,156.7 611.82,196.3 612.05,176.4 612.27,249.2 612.49,154.0 612.71,186.8 612.93,242.7 613.15,175.4 613.38,175.7 613.60,195.8 613.82,195.3 614.04,154.8 614.26,189.6 614.48,202.0 614.70,215.3 614.93,153.0 615.15,198.8 615.37,152.1 615.59,178.9 615.81,200.4 616.03,210.2 616.25,214.6 616.48,236.7 616.70,171.5 616.92,202.3 617.14,190.7 617.36,148.2 617.58,210.3 617.81,181.6 618.03,200.9 618.25,172.4 618.47,188.6 618.69,196.2 618.91,194.8 619.13,249.2 619.36,171.1 619.58,149.8 619.80,182.7 620.02,170.6 620.24,174.6 620.46,238.5 620.69,216.6 620.91,185.9 621.13,101.7 621.35,159.6 621.57,172.0 621.79,214.9 622.01,183.5 622.24,193.6 622.46,196.6 622.68,215.8 622.90,238.7 623.12,171.5 623.34,200.9 623.57,214.0 623.79,201.1 624.01,165.7 624.23,178.3 624.45,155.9 624.67,197.1 624.89,197.2 625.12,205.1 625.34,169.7 625.56,165.7 625.78,230.3 626.00,198.0 626.22,236.1 626.45,204.6 626.67,142.2 626.89,157.8 627.11,142.4 627.33,183.6 627.55,142.5 627.77,210.4 628.00,190.1 628.22,169.9 628.44,141.0 628.66,209.0 628.88,140.3 629.10,247.1 629.33,211.1 629.55,159.8 629.77,145.1 629.99,177.8 630.21,226.2 630.43,224.7 630.65,172.6 630.88,209.1 631.10,198.7 631.32,190.9 631.54,192.4 631.76,167.4 631.98,201.2 632.21,206.3 632.43,229.4 632.65,114.3 632.87,133.9 633.09,154.3 633.31,189.1 633.53,183.2 633.76,138.7 633.98,178.7 634.20,132.0 634.42,228.3 634.64,198.7 634.86,234.3 635.08,218.5 635.31,174.2 635.53,155.2 635.75,236.8 635.97,166.4 636.19,182.0 636.41,172.5 636.64,174.6 636.86,174.4 637.08,209.2 637.30,206.9 637.52,210.1 637.74,182.3 637.96,197.1 638.19,159.5 638.41,156.7 638.63,169.7 638.85,201.8 639.07,124.7 639.29,152.6 639.52,187.3 639.74,196.2 639.96,179.1 640.18,165.3 640.40,185.3 640.62,246.1 640.84,174.1 641.07,240.5 641.29,202.8 641.51,231.1 641.73,223.5 641.95,198.3 642.17,170.7 642.40,172.9 642.62,173.8 642.84,210.4 643.06,125.3 643.28,186.5 643.50,169.0 643.72,179.2 643.95,176.8 644.17,188.4 644.39,125.5 644.61,224.6 644.83,136.8 645.05,189.8 645.28,207.9 645.50,203.3 645.72,204.9 645.94,217.1 646.16,191.4 646.38,125.8 646.60,206.8 646.83,203.7 647.05,206.0 647.27,210.1 647.49,195.6 647.71,181.5 647.93,226.2 648.16,201.3 648.38,197.2 648.60,165.8 648.82,200.2 649.04,150.8 649.26,215.2 649.48,135.8 649.71,135.5 649.93,191.9 650.15,203.5 650.37,183.1 650.59,196.9 650.81,190.8 651.04,192.4 651.26,183.9 651.48,123.7 651.70,160.5 651.92,180.1 652.14,174.6 652.36,168.1 652.59,177.2 652.81,192.4 653.03,238.1 653.25,240.8 653.47,201.1 653.69,155.4 653.92,141.5 654.14,183.5 654.36,162.5 654.58,220.1 654.80,214.1 655.02,163.1 655.24,206.0 655.47,191.0 655.69,206.2 655.91,199.9 656.13,211.4 656.35,203.8 656.57,236.8 656.79,163.4 657.02,172.9 657.24,191.7 657.46,182.0 657.68,195.9 657.90,190.4 658.12,195.0 658.35,236.7 658.57,188.3 658.79,166.3 659.01,195.3 659.23,201.3 659.45,184.0 659.67,182.4 659.90,175.6 660.12,211.7 660.34,197.2 660.56,200.6 660.78,186.9 661.00,182.6 661.23,174.7 661.45,222.0 661.67,157.3 661.89,196.7 662.11,189.8 662.33,184.7 662.55,157.6 662.78,225.7 663.00,144.6 663.22,174.5 663.44,120.5 663.66,202.7 663.88,201.0 664.11,204.8 664.33,166.3 664.55,181.1 664.77,232.5 664.99,166.8 665.21,151.7 665.43,180.9 665.66,190.4 665.88,173.1 666.10,198.7 666.32,179.2 666.54,188.3 666.76,172.9 666.99,213.7 667.21,165.5 667.43,201.2 667.65,197.8 667.87,201.4 668.09,177.7 668.31,211.3 668.54,210.3 668.76,197.7 668.98,200.3 669.20,193.3 669.42,163.4 669.64,222.1 669.87,203.1 670.09,200.2 670.31,170.0 670.53,166.6 670.75,189.7 670.97,228.3 671.19,211.4 671.42,190.7 671.64,180.2 671.86,163.9 672.08,186.1 672.30,176.2 672.52,165.7 672.75,183.4 672.97,205.3 673.19,186.2 673.41,163.0 673.63,189.5 673.85,160.2 674.07,149.5 674.30,191.2 674.52,168.9 674.74,203.2 674.96,185.7 675.18,160.9 675.40,182.5 675.63,130.0 675.85,173.4 676.07,154.4 676.29,163.8 676.51,160.9 676.73,153.1 676.95,151.0 677.18,224.1 677.40,206.3 677.62,173.4 677.84,200.1 678.06,231.4 678.28,221.9 678.50,179.5 678.73,232.5 678.95,194.5 679.17,187.6 679.39,235.4 679.61,216.6 679.83,176.8 680.06,192.5 680.28,164.7 680.50,184.6 680.72,172.9 680.94,171.4 681.16,184.7 681.38,179.8 681.61,199.9 681.83,140.4 682.05,209.1 682.27,216.0 682.49,142.3 682.71,198.6 682.94,209.6 683.16,178.4 683.38,188.5 683.60,242.9 683.82,214.4 684.04,147.4 684.26,173.5 684.49,153.0 684.71,149.5 684.93,223.7 685.15,221.4 685.37,210.5 685.59,253.4 685.82,181.2 686.04,154.0 686.26,210.0 686.48,180.0 686.70,171.2 686.92,184.2 687.14,218.2 687.37,221.3 687.59,240.8 687.81,180.9 688.03,188.9 688.25,192.2 688.47,199.9 688.70,210.2 688.92,170.0 689.14,188.1 689.36,194.7 689.58,188.1 689.80,186.9 690.02,163.9 690.25,224.7 690.47,196.9 690.69,167.2 690.91,213.6 691.13,195.0 691.35,206.6 691.58,186.3 691.80,179.3 692.02,179.6 692.24,199.1 692.46,155.1 692.68,202.1 692.90,205.3 693.13,215.8 693.35,199.6 693.57,198.9 693.79,215.4 694.01,230.4 694.23,194.3 694.46,187.9 694.68,173.8 694.90,167.3 695.12,222.0 695.34,176.4 695.56,187.1 695.78,228.4 696.01,223.3 696.23,199.8 696.45,218.7 696.67,180.5 696.89,206.8 697.11,236.3 697.34,156.7 697.56,195.1 697.78,215.0 698.00,225.3 698.22,199.2 698.44,193.4 698.66,157.2 698.89,193.7 699.11,169.5 699.33,199.1 699.55,240.0 699.77,206.3 699.99,212.3 700.21,245.0 700.44,172.7 700.66,213.7 700.88,172.0 701.10,213.6 701.32,190.4 701.54,157.4 701.77,219.0 701.99,186.0 702.21,157.0 702.43,104.9 702.65,174.7 702.87,121.4 703.09,203.6 703.32,175.9 703.54,165.3 703.76,149.2 703.98,224.1 704.20,204.4 704.42,173.0 704.65,191.5 704.87,147.3 705.09,164.5 705.31,182.8 705.53,146.7 705.75,154.9 705.97,111.1 706.20,206.0 706.42,198.6 706.64,170.8 706.86,190.8 707.08,208.4 707.30,226.5 707.53,228.3 707.75,203.1 707.97,208.9 708.19,149.8 708.41,197.2 708.63,150.3 708.85,221.3 709.08,157.2 709.30,228.8 709.52,193.2 709.74,248.7 709.96,245.3 710.18,178.1 710.41,206.6 710.63,251.3 710.85,206.9 711.07,197.2 711.29,223.9 711.51,185.6 711.73,180.2 711.96,220.8 712.18,183.5 712.40,218.9 712.62,195.1 712.84,195.5 713.06,203.4 713.29,161.3 713.51,219.5 713.73,191.0 713.95,198.6 714.17,163.9 714.39,237.6 714.61,142.7 714.84,257.6 715.06,177.8 715.28,159.8 715.50,227.0 715.72,178.9 715.94,213.0 716.17,188.5 716.39,98.6 716.61,97.5 716.83,205.9 717.05,177.7 717.27,100.3 717.49,176.9 717.72,180.6 717.94,249.2 718.16,167.9 718.38,133.2 718.60,133.8 718.82,136.4 719.05,149.6 719.27,136.8 719.49,79.7 719.71,134.8 719.93,165.9 720.15,153.9 720.37,118.4 720.60,141.1 720.82,130.8 721.04,121.8 721.26,165.5 721.48,97.9 721.70,153.4 721.92,148.6 722.15,118.4 722.37,138.7 722.59,131.8 722.81,115.9 723.03,111.0 723.25,136.0 723.48,122.4 723.70,94.4 723.92,133.8 724.14,143.6 724.36,145.3 724.58,123.1 724.80,139.2 725.03,95.4 725.25,169.7 725.47,155.4 725.69,260.7 725.91,178.7 726.13,162.2 726.36,261.8 726.58,185.5 726.80,185.8 727.02,179.6 727.24,160.9 727.46,143.3 727.68,221.7 727.91,228.3 728.13,178.6 728.35,203.3 728.57,171.5 728.79,190.8 729.01,182.2 729.24,144.6 729.46,200.6 729.68,236.7 729.90,205.1 730.12,170.9 730.34,202.7 730.56,166.6 730.79,236.7 731.01,153.0 731.23,204.5 731.45,177.6 731.67,200.4 731.89,191.9 732.12,160.3 732.34,239.6 732.56,236.7 732.78,199.1 733.00,170.8 733.22,163.0 733.44,227.9 733.67,201.1 733.89,173.3 734.11,243.6 734.33,161.3 734.55,215.7 734.77,213.9 735.00,207.3 735.22,217.3 735.44,177.2 735.66,204.1 735.88,199.7 736.10,249.2 736.32,199.2 736.55,191.9 736.77,190.2 736.99,221.6 737.21,187.9 737.43,211.2 737.65,210.9 737.88,202.3 738.10,212.1 738.32,214.2 738.54,193.9 738.76,210.1 738.98,239.0 739.20,184.0 739.43,198.1 739.65,189.6 739.87,239.4 740.09,178.2 740.31,203.4 740.53,219.7 740.75,165.5 740.98,200.5 741.20,190.2 741.42,179.0 741.64,201.0 741.86,210.6 742.08,176.9 742.31,240.8 742.53,213.1 742.75,186.5 742.97,179.8 743.19,211.1 743.41,189.9 743.63,168.5 743.86,182.9 744.08,210.5 744.30,204.7 744.52,181.1 744.74,225.7 744.96,205.5 745.19,197.5 745.41,189.6 745.63,205.0 745.85,163.4 746.07,216.2 746.29,202.7 746.51,232.0 746.74,192.1 746.96,194.7 747.18,205.3 747.40,171.3 747.62,232.5 747.84,161.1 748.07,183.0 748.29,166.0 748.51,171.9 748.73,219.7 748.95,185.2 749.17,210.6 749.39,214.9 749.62,180.0 749.84,181.9 750.06,209.4 750.28,196.7 750.50,194.7 750.72,162.8 750.95,165.6 751.17,157.2 751.39,217.1 751.61,137.3 751.83,179.9 752.05,219.4 752.27,202.9 752.50,175.8 752.72,228.3 752.94,164.6 753.16,221.1 753.38,189.5 753.60,218.7 753.83,166.0 754.05,205.2 754.27,191.4 754.49,182.4 754.71,216.4 754.93,222.0 755.15,192.0 755.38,195.8 755.60,180.4 755.82,193.0 756.04,199.5 756.26,198.4 756.48,169.7 756.71,166.1 756.93,217.8 757.15,216.9 757.37,194.3 757.59,174.5 757.81,154.0 758.03,238.7 758.26,178.3 758.48,193.8 758.70,167.6 758.92,189.0 759.14,202.4 759.36,216.5 759.59,191.7 759.81,190.7 760.03,206.2 760.25,161.4 760.47,123.7 760.69,173.4 760.91,164.1 761.14,147.2 761.36,203.3 761.58,171.2 761.80,188.4 762.02,185.0 762.24,234.6 762.46,142.8 762.69,122.6 762.91,151.0 763.13,141.8 763.35,136.7 763.57,157.1 763.79,98.6 764.02,119.3 764.24,138.2 764.46,151.1 764.68,121.1 764.90,148.4 765.12,93.7 765.34,176.0 765.57,141.4 765.79,146.1 766.01,119.1 766.23,142.0 766.45,89.2 766.67,168.4 766.90,145.2 767.12,116.1 767.34,149.1 767.56,165.9 767.78,167.1 768.00,173.9 768.22,159.0 768.45,143.7 768.67,156.3 768.89,123.7 769.11,158.1 769.33,127.7 769.55,160.6 769.78,208.9 770.00,188.1 770.22,176.7 770.44,228.3 770.66,184.2 770.88,167.9 771.10,206.6 771.33,195.8 771.55,151.8 771.77,170.9 771.99,155.1 772.21,190.0 772.43,189.3 772.66,175.3 772.88,198.4 773.10,158.2 773.32,203.4 773.54,189.3 773.76,235.6 773.98,178.5 774.21,207.0 774.43,147.5 774.65,146.8 774.87,208.8 775.09,174.7 775.31,217.6 775.54,196.3 775.76,171.7 775.98,209.3 776.20,184.5 776.42,197.8 776.64,165.1 776.86,172.5 777.09,189.6 777.31,138.3 777.53,168.7 777.75,166.6 777.97,198.6 778.19,221.9 778.42,168.9 778.64,200.4 778.86,228.3 779.08,159.2 779.30,201.3 779.52,220.0 779.74,189.7 779.97,199.8 780.19,194.4 780.41,231.4 780.63,168.7 780.85,203.0 781.07,182.4 781.30,184.6 781.52,148.8 781.74,147.2 781.96,173.3 782.18,181.4 782.40,166.7 782.62,202.0 782.85,194.3 783.07,232.5 783.29,207.2 783.51,199.7 783.73,160.6 783.95,163.2 784.17,175.7 784.40,137.0 784.62,192.3 784.84,162.9 785.06,240.8 785.28,165.9 785.50,184.8 785.73,164.6 785.95,142.0 786.17,164.1 786.39,172.9 786.61,115.3 786.83,173.3 787.05,151.2 787.28,168.8 787.50,138.4 787.72,140.3 787.94,138.3 788.16,134.8 788.38,186.4 788.61,174.1 788.83,147.8 789.05,124.8 789.27,119.0 789.49,142.8 789.71,110.9 789.93,178.7 790.16,178.2 790.38,117.9 790.60,145.4 790.82,119.2 791.04,144.3 791.26,104.6 791.49,160.0 791.71,129.6 791.93,87.1 792.15,133.9 792.37,127.7 792.59,125.7 792.81,114.4 793.04,157.4 793.26,173.8 793.48,173.9 793.70,162.7 793.92,142.1 794.14,160.4 794.37,163.8 794.59,124.9 794.81,141.2 795.03,113.2 795.25,120.7 795.47,164.7 795.69,181.6 795.92,149.2 796.14,172.2 796.36,179.7 796.58,207.4 796.80,133.8 797.02,213.9 797.25,172.6 797.47,205.0 797.69,184.2 797.91,177.5 798.13,150.9 798.35,232.7 798.57,222.4 798.80,185.7 799.02,203.6 799.24,214.9 799.46,186.2 799.68,194.9 799.90,232.5 800.13,172.1 800.35,209.0 800.57,150.9 800.79,237.6 801.01,200.0 801.23,208.2 801.45,194.3 801.68,221.3 801.90,193.4 802.12,182.1 802.34,160.2 802.56,211.3 802.78,199.7 803.01,220.6 803.23,184.9 803.45,242.9 803.67,181.8 803.89,161.6 804.11,206.8 804.33,222.2 804.56,150.9 804.78,176.9 805.00,149.9 805.22,213.0 805.44,149.0 805.66,201.1 805.88,170.3 806.11,245.0 806.33,210.7 806.55,203.3 806.77,159.9 806.99,173.4 807.21,222.9 807.44,179.5 807.66,184.9 807.88,178.0 808.10,161.0 808.32,163.5 808.54,190.5 808.76,169.9 808.99,148.4 809.21,153.2 809.43,144.4 809.65,140.4 809.87,155.5 810.09,200.5 810.32,154.8 810.54,180.0 810.76,141.9 810.98,178.0 811.20,159.2 811.42,217.8 811.64,162.7 811.87,165.9 812.09,157.0 812.31,169.0 812.53,141.2 812.75,157.1 812.97,104.9 813.20,158.0 813.42,138.1 813.64,129.9 813.86,128.5 814.08,170.7 814.30,109.0 814.52,186.4 814.75,151.9 814.97,117.5 815.19,127.6 815.41,126.2 815.63,180.9 815.85,116.0 816.08,118.7 816.30,125.0 816.52,137.7 816.74,142.9 816.96,83.9 817.18,140.9 817.40,173.8 817.63,94.1 817.85,131.8 818.07,148.9 818.29,136.7 818.51,130.1 818.73,178.1 818.96,93.9 819.18,129.3 819.40,132.0 819.62,158.9 819.84,139.8 820.06,136.1 820.28,148.1 820.51,146.7 820.73,148.9 820.95,172.6 821.17,105.9 821.39,158.0 821.61,156.5 821.84,127.4 822.06,134.0 822.28,188.1 822.50,146.9 822.72,152.8 822.94,173.9 823.16,151.4 823.39,133.1 823.61,149.6 823.83,176.9 824.05,148.2 824.27,194.2 824.49,202.5 824.72,184.5 824.94,123.7 825.16,201.4 825.38,165.8 825.60,216.0 825.82,134.9 826.04,173.9 826.27,190.5 826.49,187.9 826.71,228.3 826.93,204.7 827.15,203.5 827.37,198.9 827.59,165.0 827.82,182.1 828.04,199.9 828.26,186.5 828.48,165.5 828.70,223.5 828.92,191.2 829.15,202.1 829.37,193.0 829.59,225.0 829.81,222.8 830.03,245.8 830.25,244.0 830.47,189.6 830.70,214.8 830.92,168.3 831.14,211.2 831.36,231.0 831.58,202.9 831.80,221.9 832.03,169.2 832.25,228.7 832.47,211.7 832.69,285.8 832.91,200.1 833.13,236.1 833.35,199.8 833.58,233.4 833.80,199.6 834.02,210.1 834.24,249.2 834.46,248.2 834.68,213.9 834.91,213.7 835.13,207.7 835.35,203.1 835.57,197.0 835.79,244.6 836.01,238.0 836.23,195.1 836.46,212.0 836.68,192.8 836.90,165.5 837.12,222.5 837.34,210.7 837.56,191.7 837.79,223.9 838.01,220.7 838.23,204.0 838.45,251.3 838.67,205.5 838.89,194.5 839.11,186.7 839.34,209.4 839.56,243.0 839.78,207.6 840.00,231.4 840.22,205.5 840.44,197.0 840.67,228.5 840.89,217.9 841.11,157.2 841.33,225.9 841.55,183.4 841.77,230.0 841.99,201.6 842.22,169.4 842.44,194.6 842.66,253.4 842.88,176.3 843.10,184.8 843.32,187.9 843.55,135.2 843.77,182.1 843.99,182.2 844.21,200.3 844.43,154.8 844.65,178.7 844.87,185.5 845.10,142.0 845.32,119.5 845.54,145.5 845.76,215.7 845.98,160.0 846.20,179.1 846.42,167.5 846.65,144.3 846.87,224.1 847.09,120.6 847.31,111.7 847.53,129.4 847.75,163.5 847.98,114.3 848.20,114.2 848.42,78.7 848.64,124.4 848.86,123.9 849.08,101.6 849.30,125.8 849.53,137.8 849.75,123.9 849.97,167.6 850.19,133.2 850.41,149.9 850.63,145.3 850.86,77.7 851.08,123.7 851.30,175.4 851.52,144.5 851.74,112.6 851.96,149.9 852.18,144.6 852.41,204.2 852.63,176.0 852.85,134.6 853.07,160.7 853.29,204.9 853.51,144.8 853.74,123.7 853.96,177.4 854.18,174.9 854.40,165.4 854.62,183.7 854.84,148.6 855.06,169.3 855.29,228.3 855.51,198.4 855.73,179.3 855.95,139.7 856.17,180.5 856.39,180.1 856.62,198.3 856.84,210.9 857.06,200.1 857.28,169.3 857.50,181.0 857.72,211.4 857.94,153.0 858.17,206.5 858.39,192.2 858.61,205.1 858.83,164.5 859.05,207.3 859.27,187.0 859.50,240.8 859.72,191.2 859.94,220.0 860.16,219.4 860.38,203.9 860.60,218.2 860.82,189.2 861.05,169.8 861.27,155.1 861.49,198.3 861.71,188.7 861.93,148.8 862.15,200.6 862.38,227.4 862.60,175.7 862.82,178.6 863.04,241.2 863.26,213.4 863.48,187.7 863.70,251.3 863.93,173.7 864.15,184.3 864.37,189.9 864.59,143.7 864.81,185.2 865.03,215.2 865.26,162.5 865.48,181.9 865.70,172.5 865.92,203.5 866.14,140.4 866.36,202.8 866.58,190.3 866.81,232.0 867.03,201.7 867.25,171.4 867.47,187.1 867.69,179.4 867.91,232.5 868.13,207.3 868.36,195.9 868.58,185.2 868.80,176.2 869.02,219.7 869.24,210.6 869.46,150.8 869.69,191.4 869.91,175.2 870.13,184.0 870.35,221.1 870.57,215.3 870.79,173.6 871.01,228.6 871.24,184.2 871.46,157.2 871.68,227.8 871.90,204.5 872.12,191.8 872.34,195.1 872.57,215.4 872.79,160.9 873.01,228.3 873.23,186.7 873.45,205.6 873.67,176.1 873.89,196.6 874.12,177.5 874.34,179.3 874.56,122.6 874.78,191.9 875.00,149.2 875.22,195.7 875.45,211.8 875.67,205.0 875.89,159.3 876.11,228.3 876.33,202.2 876.55,170.3 876.77,182.4 877.00,187.5 877.22,176.1 877.44,220.6 877.66,212.9 877.88,201.0 878.10,209.9 878.33,179.5 878.55,218.2 878.77,182.0 878.99,234.6 879.21,202.2 879.43,190.4 879.65,228.6 879.88,157.2 880.10,179.6 880.32,212.7 880.54,196.9 880.76,195.2 880.98,207.7 881.21,205.8 881.43,250.3 881.65,198.8 881.87,181.5 882.09,179.7 882.31,220.3 882.53,157.1 882.76,124.4 882.98,233.6 883.20,232.5 883.42,166.0 883.64,229.6 883.86,200.0 884.09,100.7 884.31,223.7 884.53,166.7 884.75,129.1 884.97,125.1 885.19,102.3 885.41,162.4 885.64,228.3 885.86,168.5 886.08,157.6 886.30,106.9 886.52,191.2 886.74,168.4 886.97,174.5 887.19,104.9 887.41,128.0 887.63,132.1 887.85,133.5 888.07,115.5 888.29,133.6 888.52,177.5 888.74,182.3 888.96,111.7 889.18,143.3 889.40,139.2 889.62,163.4 889.84,135.4 890.07,147.2 890.29,134.3 890.51,131.9 890.73,160.2 890.95,155.6 891.17,152.5 891.40,234.6 891.62,134.4 891.84,150.6 892.06,152.9 892.28,164.4 892.50,106.3 892.72,136.6 892.95,199.0 893.17,184.2 893.39,140.9 893.61,151.4 893.83,145.6 894.05,99.6 894.28,108.6 894.50,89.2 894.72,144.9 894.94,136.5 895.16,93.3 895.38,134.2 895.60,110.7 895.83,155.5 896.05,173.9 896.27,134.7 896.49,131.1 896.71,151.2 896.93,154.4 897.16,127.9 897.38,122.1 897.60,136.3 897.82,126.0 898.04,157.3 898.26,157.9 898.48,167.2 898.71,96.5 898.93,120.9 899.15,125.6 899.37,147.2 899.59,145.1 899.81,132.9 900.04,99.8 900.26,182.3 900.48,148.8 900.70,109.1 900.92,88.3 901.14,162.8 901.36,139.3 901.59,131.7 901.81,108.4 902.03,128.2 902.25,141.6 902.47,82.7 902.69,175.8 902.92,137.9 903.14,119.9 903.36,105.2 903.58,112.7 903.80,77.7 904.02,134.8 904.24,96.0 904.47,146.3 904.69,99.5 904.91,138.6 905.13,95.1 905.35,123.8 905.57,173.9 905.80,123.5 906.02,98.1 906.24,107.3 906.46,129.1 906.68,95.5 906.90,160.9 907.12,123.2 907.35,145.2 907.57,133.7 907.79,124.6 908.01,124.9 908.23,139.9 908.45,150.3 908.68,110.5 908.90,101.9 909.12,91.3 909.34,90.0 909.56,115.3 909.78,132.6 910.00,150.3 910.23,161.6 910.45,130.2 910.67,173.9 910.89,114.6 911.11,115.4 911.33,128.0 911.55,146.5 911.78,135.0 912.00,77.4 912.22,74.5 912.44,129.4 912.66,82.4 912.88,144.8 913.11,171.2 913.33,174.4 913.55,138.0 913.77,173.9 913.99,151.4 914.21,191.0 914.43,113.2 914.66,155.7 914.88,200.1 915.10,160.6 915.32,179.4 915.54,167.7 915.76,237.3 915.99,247.1 916.21,206.5 916.43,196.0 916.65,149.9 916.87,238.1 917.09,174.8 917.31,196.1 917.54,222.8 917.76,187.0 917.98,165.5 918.20,246.6 918.42,187.1 918.64,205.7 918.87,228.4 919.09,245.3 919.31,169.7 919.53,247.1 919.75,208.8 919.97,213.8 920.19,176.4 920.42,226.6 920.64,216.5 920.86,233.5 921.08,229.0 921.30,175.2 921.52,207.6 921.75,216.7 921.97,147.7 922.19,217.4 922.41,226.2 922.63,208.4 922.85,208.2 923.07,213.2 923.30,192.8 923.52,169.0 923.74,240.8 923.96,197.0 924.18,184.2 924.40,223.0 924.63,194.9 924.85,201.7 925.07,169.8 925.29,213.2 925.51,187.6 925.73,236.1 925.95,175.2 926.18,169.7 926.40,239.3 926.62,201.1 926.84,247.4 927.06,224.6 927.28,190.0 927.51,231.4 927.73,192.4 927.95,249.2 928.17,170.7 928.39,196.6 928.61,196.5 928.83,195.1 929.06,170.8 929.28,164.4 929.50,199.0 929.72,204.4 929.94,198.6 930.16,190.9 930.38,137.3 930.61,157.8 930.83,187.3 931.05,185.1 931.27,202.3 931.49,202.8 931.71,207.6 931.94,236.7 932.16,186.8 932.38,240.5 932.60,197.5 932.82,174.8 933.04,198.2 933.26,176.1 933.49,171.6 933.71,170.2 933.93,196.0 934.15,219.4 934.37,203.1 934.59,263.8 934.82,232.7 935.04,209.8 935.26,213.6 935.48,188.5 935.70,169.9 935.92,206.1 936.14,245.0 936.37,207.0 936.59,186.9 936.81,190.7 937.03,203.6 937.25,220.3 937.47,173.7 937.70,193.3 937.92,193.6 938.14,237.0 938.36,194.2 938.58,187.4 938.80,209.9 939.02,197.5 939.25,205.0 939.47,163.7 939.69,231.0 939.91,192.2 940.13,184.4 940.35,167.2 940.58,188.2 940.80,191.9 941.02,175.9 941.24,211.6 941.46,182.1 941.68,189.5 941.90,146.7 942.13,213.2 942.35,180.0 942.57,229.0 942.79,193.5 943.01,192.9 943.23,152.9 943.46,228.3 943.68,148.1 943.90,175.0 944.12,188.6 944.34,152.2 944.56,174.8 944.78,149.0 945.01,198.3 945.23,188.8 945.45,198.4 945.67,185.1 945.89,207.9 946.11,227.9 946.34,200.6 946.56,185.2 946.78,173.0 947.00,172.7 947.22,150.9 947.44,215.0 947.66,233.9 947.89,188.1 948.11,177.7 948.33,202.0 948.55,201.0 948.77,234.6 948.99,227.9 949.22,207.9 949.44,209.0 949.66,195.9 949.88,193.5 950.10,209.0 950.32,165.2 950.54,206.0 950.77,192.2 950.99,163.9 951.21,220.1 951.43,199.0 951.65,182.5 951.87,195.8 952.09,216.6 952.32,152.3 952.54,176.2 952.76,173.3 952.98,178.8 953.20,179.3 953.42,225.6 953.65,210.5 953.87,152.8 954.09,173.1 954.31,194.6 954.53,135.2 954.75,155.0 954.97,181.5 955.20,209.1 955.42,177.7 955.64,190.6 955.86,181.3 956.08,224.1 956.30,171.7 956.53,190.4 956.75,166.3 956.97,206.4 957.19,200.5 957.41,190.1 957.63,191.5 957.85,191.5 958.08,185.2 958.30,202.5 958.52,197.5 958.74,157.2 958.96,183.2 959.18,187.3 959.41,161.9 959.63,204.0 959.85,200.0 960.07,233.2 960.29,226.2 960.51,201.9 960.73,190.1 960.96,204.5 961.18,167.6 961.40,188.5 961.62,209.0 961.84,165.5 962.06,190.0 962.29,167.4 962.51,205.6 962.73,211.0 962.95,230.3 963.17,193.9 963.39,248.2 963.61,191.1 963.84,189.6 964.06,196.7 964.28,185.2 964.50,212.6 964.72,222.9 964.94,195.5 965.17,192.2 965.39,226.4 965.61,200.3 965.83,228.3 966.05,194.0 966.27,200.7 966.49,186.8 966.72,194.5 966.94,215.6 967.16,169.7 967.38,199.7 967.60,217.5 967.82,183.7 968.05,206.5 968.27,199.2 968.49,172.5 968.71,236.7 968.93,189.4 969.15,197.9 969.37,214.8 969.60,187.5 969.82,211.8 970.04,200.3 970.26,191.2 970.48,211.5 970.70,203.9 970.93,191.5 971.15,200.3 971.37,197.7 971.59,192.3 971.81,206.4 972.03,234.3 972.25,155.1 972.48,196.4 972.70,179.7 972.92,171.8 973.14,223.1 973.36,186.0 973.58,207.2 973.80,242.9 974.03,187.4 974.25,210.7 974.47,187.2 974.69,206.2 974.91,210.1 975.13,157.9 975.36,223.0 975.58,237.8 975.80,214.4 976.02,200.5 976.24,181.7 976.46,159.2 976.68,196.2 976.91,232.0 977.13,170.4 977.35,185.4 977.57,180.3 977.79,217.7 978.01,248.2 978.24,163.7 978.46,158.3 978.68,204.5 978.90,163.1 979.12,218.3 979.34,217.0 979.56,175.6 979.79,189.9 980.01,196.0 980.23,168.2 980.45,172.6 980.67,157.2 980.89,206.8 981.12,193.7 981.34,145.7 981.56,187.8 981.78,177.0 982.00,170.4 982.22,232.5 982.44,198.5 982.67,109.0 982.89,152.0 983.11,156.1 983.33,183.3 983.55,142.0 983.77,167.6 984.00,89.6 984.22,150.7 984.44,228.3 984.66,136.1 984.88,76.6 985.10,150.6 985.32,145.3 985.55,127.6 985.77,173.9 985.99,134.6 986.21,122.8 986.43,186.4 986.65,169.2 986.88,97.3 987.10,160.2 987.32,150.5 987.54,170.7 987.76,135.2 987.98,196.9 988.20,137.8 988.43,177.5 988.65,129.7 988.87,137.4 989.09,162.2 989.31,164.1 989.53,178.1 989.76,168.1 989.98,142.3 990.20,157.3 990.42,143.5 990.64,146.4 990.86,113.7 991.08,82.9 991.31,113.6 991.53,130.5 991.75,152.3 991.97,122.0 992.19,132.0 992.41,129.9 992.64,173.9 992.86,142.8 993.08,98.3 993.30,119.4 993.52,175.0 993.74,89.2 993.96,117.6 994.19,148.5 994.41,92.3 994.63,113.5 994.85,114.9 995.07,93.5 995.29,114.0 995.51,127.0 995.74,119.5 995.96,133.5 996.18,109.2 996.40,88.1 996.62,123.5 996.84,104.1 997.07,94.8 997.29,135.5 997.51,141.5 997.73,164.8 997.95,179.1 998.17,109.5 998.39,116.7 998.62,167.2 998.84,130.9 999.06,124.0 999.28,153.7 999.50,118.8 999.72,150.5 999.95,125.2 1000.17,157.4 1000.39,128.1 1000.61,88.1 1000.83,135.9 1001.05,162.6 1001.27,113.9 1001.50,121.9 1001.72,101.0 1001.94,94.7 1002.16,173.9 1002.38,131.3 1002.60,152.5 1002.83,119.4 1003.05,164.6 1003.27,130.4 1003.49,143.7 1003.71,121.2 1003.93,101.5 1004.15,156.1 1004.38,119.6 1004.60,83.9 1004.82,117.8 1005.04,136.4 1005.26,122.6 1005.48,119.5 1005.71,127.9 1005.93,139.4 1006.15,105.0 1006.37,165.5 1006.59,145.7 1006.81,115.1 1007.03,132.0 1007.26,132.8 1007.48,125.6 1007.70,149.0 1007.92,131.6 1008.14,134.1 1008.36,124.2 1008.59,133.0 1008.81,96.5 1009.03,104.0 1009.25,137.6 1009.47,100.3 1009.69,151.5 1009.91,137.0 1010.14,130.8 1010.36,91.4 1010.58,167.6 1010.80,160.4 1011.02,123.7 1011.24,147.9 1011.47,132.1 1011.69,150.4 1011.91,137.9 1012.13,105.4 1012.35,118.0 1012.57,105.7 1012.79,114.3 1013.02,81.8 1013.24,114.6 1013.46,143.5 1013.68,107.8 1013.90,94.8 1014.12,123.4 1014.35,107.6 1014.57,157.2 1014.79,113.1 1015.01,107.2 1015.23,140.3 1015.45,136.0 1015.67,98.3 1015.90,119.9 1016.12,65.1 1016.34,115.4 1016.56,96.3 1016.78,127.2 1017.00,116.0 1017.22,126.6 1017.45,94.6 1017.67,169.3 1017.89,165.5 1018.11,134.4 1018.33,109.0 1018.55,127.3 1018.78,75.4 1019.00,109.3 1019.22,77.1 1019.44,77.7 1019.66,95.5 1019.88,92.4 1020.10,118.4 1020.33,116.7 1020.55,123.8 1020.77,149.6 1020.99,176.0 1021.21,128.5 1021.43,126.5 1021.66,90.5 1021.88,152.1 1022.10,152.4 1022.32,161.3 1022.54,90.2 1022.76,114.3 1022.98,120.5 1023.21,149.4 1023.43,142.5 1023.65,165.0 1023.87,142.6 1024.09,165.5 1024.31,113.7 1024.54,127.6 1024.76,163.5 1024.98,124.7 1025.20,178.1" fill="none" stroke="#000" stroke-width="3.0" stroke-linejoin="bevel"/>
<line x1="139.3" y1="311.1" x2="139.3" y2="304.20000000000005" stroke="#111" stroke-width="1.3"/>
<line x1="198.4" y1="311.1" x2="198.4" y2="306.6" stroke="#555" stroke-width="0.7"/>
<line x1="257.4" y1="311.1" x2="257.4" y2="306.6" stroke="#555" stroke-width="0.7"/>
<line x1="316.5" y1="311.1" x2="316.5" y2="306.6" stroke="#555" stroke-width="0.7"/>
<line x1="375.5" y1="311.1" x2="375.5" y2="306.6" stroke="#555" stroke-width="0.7"/>
<line x1="434.6" y1="311.1" x2="434.6" y2="304.20000000000005" stroke="#111" stroke-width="1.3"/>
<line x1="493.7" y1="311.1" x2="493.7" y2="306.6" stroke="#555" stroke-width="0.7"/>
<line x1="552.7" y1="311.1" x2="552.7" y2="306.6" stroke="#555" stroke-width="0.7"/>
<line x1="611.8" y1="311.1" x2="611.8" y2="306.6" stroke="#555" stroke-width="0.7"/>
<line x1="670.8" y1="311.1" x2="670.8" y2="306.6" stroke="#555" stroke-width="0.7"/>
<line x1="729.9" y1="311.1" x2="729.9" y2="304.20000000000005" stroke="#111" stroke-width="1.3"/>
<line x1="789.0" y1="311.1" x2="789.0" y2="306.6" stroke="#555" stroke-width="0.7"/>
<line x1="848.0" y1="311.1" x2="848.0" y2="306.6" stroke="#555" stroke-width="0.7"/>
<line x1="907.1" y1="311.1" x2="907.1" y2="306.6" stroke="#555" stroke-width="0.7"/>
<line x1="966.1" y1="311.1" x2="966.1" y2="306.6" stroke="#555" stroke-width="0.7"/>
<line x1="1025.2" y1="311.1" x2="1025.2" y2="304.20000000000005" stroke="#111" stroke-width="1.3"/>
<line x1="139.3" y1="300.1" x2="143.8" y2="300.1" stroke="#555" stroke-width="0.7"/>
<line x1="139.3" y1="285.0" x2="143.8" y2="285.0" stroke="#555" stroke-width="0.7"/>
<line x1="139.3" y1="269.8" x2="143.8" y2="269.8" stroke="#555" stroke-width="0.7"/>
<line x1="139.3" y1="254.7" x2="143.8" y2="254.7" stroke="#555" stroke-width="0.7"/>
<line x1="139.3" y1="239.6" x2="146.5" y2="239.6" stroke="#111" stroke-width="1.3"/>
<line x1="139.3" y1="224.5" x2="143.8" y2="224.5" stroke="#555" stroke-width="0.7"/>
<line x1="139.3" y1="209.4" x2="143.8" y2="209.4" stroke="#555" stroke-width="0.7"/>
<line x1="139.3" y1="194.2" x2="143.8" y2="194.2" stroke="#555" stroke-width="0.7"/>
<line x1="139.3" y1="179.1" x2="143.8" y2="179.1" stroke="#555" stroke-width="0.7"/>
<line x1="139.3" y1="164.0" x2="146.5" y2="164.0" stroke="#111" stroke-width="1.3"/>
<line x1="139.3" y1="148.9" x2="143.8" y2="148.9" stroke="#555" stroke-width="0.7"/>
<line x1="139.3" y1="133.8" x2="143.8" y2="133.8" stroke="#555" stroke-width="0.7"/>
<line x1="139.3" y1="118.6" x2="143.8" y2="118.6" stroke="#555" stroke-width="0.7"/>
<line x1="139.3" y1="103.5" x2="143.8" y2="103.5" stroke="#555" stroke-width="0.7"/>
<line x1="139.3" y1="88.4" x2="146.5" y2="88.4" stroke="#111" stroke-width="1.3"/>
<line x1="139.3" y1="73.3" x2="143.8" y2="73.3" stroke="#555" stroke-width="0.7"/>
<line x1="139.3" y1="58.2" x2="143.8" y2="58.2" stroke="#555" stroke-width="0.7"/>
<line x1="139.3" y1="43.0" x2="143.8" y2="43.0" stroke="#555" stroke-width="0.7"/>
<line x1="139.3" y1="27.9" x2="143.8" y2="27.9" stroke="#555" stroke-width="0.7"/>
<rect x="139.3" y="16.9" width="885.9" height="294.2" fill="none" stroke="#222" stroke-width="1.25"/>
<circle cx="217.3" cy="137.9" r="7.5" fill="#04d404"/>
<circle cx="266.8" cy="137.9" r="7.5" fill="#04d404"/>
<circle cx="302.6" cy="137.9" r="7.5" fill="#04d404"/>
<circle cx="325.0" cy="137.9" r="7.5" fill="#04d404"/>
<circle cx="342.7" cy="137.9" r="7.5" fill="#04d404"/>
<circle cx="365.3" cy="137.9" r="7.5" fill="#04d404"/>
<circle cx="393.4" cy="137.9" r="7.5" fill="#04d404"/>
<circle cx="427.0" cy="137.9" r="7.5" fill="#04d404"/>
<circle cx="478.7" cy="137.9" r="7.5" fill="#04d404"/>
<circle cx="496.0" cy="137.9" r="7.5" fill="#04d404"/>
<circle cx="511.6" cy="137.9" r="7.5" fill="#04d404"/>
<circle cx="531.7" cy="137.9" r="7.5" fill="#04d404"/>
<circle cx="609.0" cy="137.9" r="7.5" fill="#04d404"/>
<circle cx="705.0" cy="137.9" r="7.5" fill="#04d404"/>
<circle cx="726.1" cy="137.9" r="7.5" fill="#04d404"/>
<circle cx="769.2" cy="137.9" r="7.5" fill="#04d404"/>
<circle cx="795.9" cy="137.9" r="7.5" fill="#04d404"/>
<circle cx="824.3" cy="137.9" r="7.5" fill="#04d404"/>
<circle cx="853.0" cy="137.9" r="7.5" fill="#04d404"/>
<circle cx="889.0" cy="137.9" r="7.5" fill="#04d404"/>
<circle cx="913.8" cy="137.9" r="7.5" fill="#04d404"/>
<circle cx="183.2" cy="188.1" r="7.5" fill="#04d404"/>
<circle cx="255.4" cy="188.1" r="7.5" fill="#04d404"/>
<circle cx="276.9" cy="188.1" r="7.5" fill="#04d404"/>
<circle cx="320.4" cy="188.1" r="7.5" fill="#04d404"/>
<circle cx="330.0" cy="188.1" r="7.5" fill="#04d404"/>
<circle cx="354.7" cy="188.1" r="7.5" fill="#04d404"/>
<circle cx="369.5" cy="188.1" r="7.5" fill="#04d404"/>
<circle cx="400.0" cy="188.1" r="7.5" fill="#04d404"/>
<circle cx="443.8" cy="188.1" r="7.5" fill="#04d404"/>
<circle cx="491.6" cy="188.1" r="7.5" fill="#04d404"/>
<circle cx="501.6" cy="188.1" r="7.5" fill="#04d404"/>
<circle cx="521.6" cy="188.1" r="7.5" fill="#04d404"/>
<circle cx="544.5" cy="188.1" r="7.5" fill="#04d404"/>
<circle cx="700.5" cy="188.1" r="7.5" fill="#04d404"/>
<circle cx="715.5" cy="188.1" r="7.5" fill="#04d404"/>
<circle cx="760.8" cy="188.1" r="7.5" fill="#04d404"/>
<circle cx="785.2" cy="188.1" r="7.5" fill="#04d404"/>
<circle cx="811.9" cy="188.1" r="7.5" fill="#04d404"/>
<circle cx="843.6" cy="188.1" r="7.5" fill="#04d404"/>
<circle cx="882.0" cy="188.1" r="7.5" fill="#04d404"/>
<circle cx="894.4" cy="188.1" r="7.5" fill="#04d404"/>
<circle cx="982.3" cy="188.1" r="7.5" fill="#04d404"/>
<circle cx="183.8" cy="137.9" r="7.5" fill="#d00202"/>
<circle cx="256.0" cy="137.9" r="7.5" fill="#d00202"/>
<circle cx="276.6" cy="137.9" r="7.5" fill="#d00202"/>
<circle cx="321.2" cy="137.9" r="7.5" fill="#d00202"/>
<circle cx="327.5" cy="137.9" r="7.5" fill="#d00202"/>
<circle cx="355.6" cy="137.9" r="7.5" fill="#d00202"/>
<circle cx="367.6" cy="137.9" r="7.5" fill="#d00202"/>
<circle cx="397.7" cy="137.9" r="7.5" fill="#d00202"/>
<circle cx="444.3" cy="137.9" r="7.5" fill="#d00202"/>
<circle cx="493.0" cy="137.9" r="7.5" fill="#d00202"/>
<circle cx="500.2" cy="137.9" r="7.5" fill="#d00202"/>
<circle cx="520.8" cy="137.9" r="7.5" fill="#d00202"/>
<circle cx="544.5" cy="137.9" r="7.5" fill="#d00202"/>
<circle cx="702.5" cy="137.9" r="7.5" fill="#d00202"/>
<circle cx="717.0" cy="137.9" r="7.5" fill="#d00202"/>
<circle cx="761.8" cy="137.9" r="7.5" fill="#d00202"/>
<circle cx="786.9" cy="137.9" r="7.5" fill="#d00202"/>
<circle cx="812.9" cy="137.9" r="7.5" fill="#d00202"/>
<circle cx="846.0" cy="137.9" r="7.5" fill="#d00202"/>
<circle cx="883.7" cy="137.9" r="7.5" fill="#d00202"/>
<circle cx="892.7" cy="137.9" r="7.5" fill="#d00202"/>
<circle cx="982.9" cy="137.9" r="7.5" fill="#d00202"/>
<circle cx="217.3" cy="188.1" r="7.5" fill="#d00202"/>
<circle cx="266.8" cy="188.1" r="7.5" fill="#d00202"/>
<circle cx="302.6" cy="188.1" r="7.5" fill="#d00202"/>
<circle cx="325.2" cy="188.1" r="7.5" fill="#d00202"/>
<circle cx="342.7" cy="188.1" r="7.5" fill="#d00202"/>
<circle cx="365.3" cy="188.1" r="7.5" fill="#d00202"/>
<circle cx="395.4" cy="188.1" r="7.5" fill="#d00202"/>
<circle cx="427.0" cy="188.1" r="7.5" fill="#d00202"/>
<circle cx="478.7" cy="188.1" r="7.5" fill="#d00202"/>
<circle cx="495.9" cy="188.1" r="7.5" fill="#d00202"/>
<circle cx="512.2" cy="188.1" r="7.5" fill="#d00202"/>
<circle cx="531.1" cy="188.1" r="7.5" fill="#d00202"/>
<circle cx="609.8" cy="188.1" r="7.5" fill="#d00202"/>
<circle cx="704.7" cy="188.1" r="7.5" fill="#d00202"/>
<circle cx="725.1" cy="188.1" r="7.5" fill="#d00202"/>
<circle cx="768.5" cy="188.1" r="7.5" fill="#d00202"/>
<circle cx="795.2" cy="188.1" r="7.5" fill="#d00202"/>
<circle cx="824.6" cy="188.1" r="7.5" fill="#d00202"/>
<circle cx="853.0" cy="188.1" r="7.5" fill="#d00202"/>
<circle cx="889.4" cy="188.1" r="7.5" fill="#d00202"/>
<circle cx="914.8" cy="188.1" r="7.5" fill="#d00202"/>
<text x="140.0" y="345.9" text-anchor="middle" class="tkx">0</text>
<text x="434.6" y="345.9" text-anchor="middle" class="tkx">200</text>
<text x="729.9" y="345.9" text-anchor="middle" class="tkx">400</text>
<text x="1023.2" y="345.9" text-anchor="middle" class="tkx">600</text>
<text x="133.2" y="100.1" text-anchor="end" class="tky">0.02</text>
<text x="133.2" y="175.7" text-anchor="end" class="tky">0</text>
<text x="133.2" y="251.3" text-anchor="end" class="tky">−0.02</text>
<g transform="translate(43.5,213.0) rotate(-90)"><text x="0" y="0" class="yl"><tspan class="it">δ</tspan>(<tspan class="it">t</tspan>)<tspan font-size="50" dy="6" dx="0.5">/</tspan><tspan class="it" dy="-6" dx="0.8">K</tspan></text><text x="3" y="-9" class="yl">ˆ</text></g>
<text x="4.5" y="32.8" class="pl">(<tspan class="it">a</tspan>)</text>
</g>
<g id="panel-b">
<clipPath id="clipb"><rect x="139.3" y="400.0" width="885.9" height="294.0"/></clipPath>
<polygon clip-path="url(#clipb)" points="139.3,473.5 141.1,481.8 142.8,491.8 144.6,495.9 146.4,497.6 148.2,498.1 149.9,496.2 151.7,494.4 153.5,494.0 155.3,493.7 157.0,491.2 158.8,487.3 160.6,484.0 162.3,482.6 164.1,486.0 165.9,504.0 167.7,523.0 169.4,542.5 171.2,547.0 173.0,550.8 174.7,554.9 176.5,559.4 178.3,563.8 180.1,567.2 181.8,569.9 183.6,567.5 185.4,565.3 187.2,572.3 188.9,577.5 190.7,579.0 192.5,580.5 194.2,570.6 196.0,557.4 197.8,532.2 199.6,515.9 201.3,499.7 203.1,484.0 204.9,477.7 206.6,482.1 208.4,484.0 210.2,484.7 212.0,485.5 213.7,486.4 215.5,487.4 217.3,480.5 219.1,477.0 220.8,487.3 222.6,496.8 224.4,505.1 226.1,505.9 227.9,502.8 229.7,499.7 231.5,496.7 233.2,493.7 235.0,491.7 236.8,491.7 238.5,491.6 240.3,501.2 242.1,510.9 243.9,509.7 245.6,502.3 247.4,497.5 249.2,499.5 251.0,501.5 252.7,501.2 254.5,496.0 256.3,493.3 258.0,492.9 259.8,498.4 261.6,529.4 263.4,541.2 265.1,553.0 266.9,566.5 268.7,581.0 270.4,584.2 272.2,585.3 274.0,582.9 275.8,580.5 277.5,573.2 279.3,564.2 281.1,562.4 282.9,560.8 284.6,560.5 286.4,562.2 288.2,563.9 289.9,565.7 291.7,567.6 293.5,569.5 295.3,571.7 297.0,573.9 298.8,576.2 300.6,578.2 302.3,579.0 304.1,577.6 305.9,573.0 307.7,568.6 309.4,568.6 311.2,568.6 313.0,568.2 314.8,564.1 316.5,560.0 318.3,559.7 320.1,560.8 321.8,559.9 323.6,555.4 325.4,556.4 327.2,561.3 328.9,553.1 330.7,542.1 332.5,538.5 334.2,543.6 336.0,548.5 337.8,551.9 339.6,554.9 341.3,558.5 343.1,574.8 344.9,582.9 346.7,577.5 348.4,572.1 350.2,566.8 352.0,561.5 353.7,556.2 355.5,551.0 357.3,554.9 359.1,561.5 360.8,568.0 362.6,572.8 364.4,577.1 366.1,558.5 367.9,528.8 369.7,540.6 371.5,549.7 373.2,556.0 375.0,562.4 376.8,568.8 378.6,575.2 380.3,581.6 382.1,581.0 383.9,575.8 385.6,570.6 387.4,564.5 389.2,558.0 391.0,563.1 392.7,571.6 394.5,556.7 396.3,557.1 398.0,560.5 399.8,573.9 401.6,581.8 403.4,581.1 405.1,579.8 406.9,560.7 408.7,539.0 410.5,509.7 412.2,496.1 414.0,499.1 415.8,501.5 417.5,500.3 419.3,499.4 421.1,499.0 422.9,498.6 424.6,498.2 426.4,506.4 428.2,516.2 429.9,518.2 431.7,519.7 433.5,519.8 435.3,519.9 437.0,516.8 438.8,513.4 440.6,520.5 442.4,536.1 444.1,555.7 445.9,562.9 447.7,561.0 449.4,559.8 451.2,560.3 453.0,562.2 454.8,565.3 456.5,568.4 458.3,570.2 460.1,571.9 461.8,572.4 463.6,566.2 465.4,560.0 467.2,557.1 468.9,567.3 470.7,577.5 472.5,578.4 474.3,577.5 476.0,575.8 477.8,574.1 479.6,567.3 481.3,558.4 483.1,544.0 484.9,532.0 486.7,533.4 488.4,538.7 490.2,544.7 492.0,553.0 493.7,557.4 495.5,557.2 497.3,557.0 499.1,559.2 500.8,563.8 502.6,568.5 504.4,574.1 506.2,579.7 507.9,570.7 509.7,557.6 511.5,552.0 513.2,556.9 515.0,561.3 516.8,558.4 518.6,555.5 520.3,562.1 522.1,572.8 523.9,570.1 525.6,566.2 527.4,562.4 529.2,561.7 531.0,566.1 532.7,570.5 534.5,572.4 536.3,571.1 538.1,569.7 539.8,564.8 541.6,556.0 543.4,547.3 545.1,553.5 546.9,559.7 548.7,566.0 550.5,572.4 552.2,574.6 554.0,566.1 555.8,564.0 557.5,568.2 559.3,572.4 561.1,573.4 562.9,571.8 564.6,565.0 566.4,537.1 568.2,512.8 570.0,493.3 571.7,484.5 573.5,481.3 575.3,485.5 577.0,490.2 578.8,491.1 580.6,492.0 582.4,488.6 584.1,483.8 585.9,488.3 587.7,490.8 589.4,484.9 591.2,488.3 593.0,494.1 594.8,499.4 596.5,498.0 598.3,496.7 600.1,498.9 601.9,502.5 603.6,502.8 605.4,497.2 607.2,491.5 608.9,492.6 610.7,493.6 612.5,494.3 614.3,487.2 616.0,480.1 617.8,483.6 619.6,491.9 621.4,497.8 623.1,498.7 624.9,499.6 626.7,497.8 628.4,491.2 630.2,484.9 632.0,493.3 633.8,501.8 635.5,500.8 637.3,494.7 639.1,488.7 640.8,496.3 642.6,509.6 644.4,503.7 646.2,496.4 647.9,489.1 649.7,490.8 651.5,492.8 653.3,489.8 655.0,483.8 656.8,482.2 658.6,481.5 660.3,480.7 662.1,487.6 663.9,493.4 665.7,485.8 667.4,478.1 669.2,473.9 671.0,485.6 672.7,497.4 674.5,497.3 676.3,494.6 678.1,491.9 679.8,492.5 681.6,493.6 683.4,494.7 685.2,499.1 686.9,500.9 688.7,485.3 690.5,476.0 692.2,477.6 694.0,478.6 695.8,479.2 697.6,488.3 699.3,499.3 701.1,503.8 702.9,501.0 704.6,510.2 706.4,524.5 708.2,565.9 710.0,577.0 711.7,577.0 713.5,572.1 715.3,559.5 717.1,555.4 718.8,556.7 720.6,559.0 722.4,561.5 724.1,560.8 725.9,556.9 727.7,562.6 729.5,572.2 731.2,576.3 733.0,570.3 734.8,571.7 736.5,578.6 738.3,567.4 740.1,552.7 741.9,557.3 743.6,561.9 745.4,565.5 747.2,568.6 749.0,571.8 750.7,570.9 752.5,567.5 754.3,564.1 756.0,560.7 757.8,557.3 759.6,560.0 761.4,563.4 763.1,566.9 764.9,566.6 766.7,566.1 768.4,565.6 770.2,567.2 772.0,572.2 773.8,577.2 775.5,579.2 777.3,581.3 779.1,581.5 780.9,560.8 782.6,540.0 784.4,555.3 786.2,572.2 787.9,565.6 789.7,564.2 791.5,571.7 793.3,579.2 795.0,580.0 796.8,579.0 798.6,569.8 800.3,565.6 802.1,566.2 803.9,566.8 805.7,566.9 807.4,566.9 809.2,566.9 811.0,571.1 812.8,575.5 814.5,576.8 816.3,576.0 818.1,575.3 819.8,566.1 821.6,552.4 823.4,549.8 825.2,545.7 826.9,518.8 828.7,501.2 830.5,501.8 832.2,499.6 834.0,495.3 835.8,491.3 837.6,488.6 839.3,485.9 841.1,485.9 842.9,490.7 844.7,501.0 846.4,513.9 848.2,526.8 850.0,538.8 851.7,533.6 853.5,503.1 855.3,496.9 857.1,490.7 858.8,486.9 860.6,491.2 862.4,495.6 864.1,493.2 865.9,489.6 867.7,488.4 869.5,493.4 871.2,498.4 873.0,501.1 874.8,502.0 876.6,502.9 878.3,503.6 880.1,493.0 881.9,484.6 883.6,483.2 885.4,486.3 887.2,494.2 889.0,502.2 890.7,503.5 892.5,498.6 894.3,493.7 896.0,488.9 897.8,488.5 899.6,495.3 901.4,502.0 903.1,507.6 904.9,511.6 906.7,507.7 908.5,499.8 910.2,493.9 912.0,492.6 913.8,495.5 915.5,500.2 917.3,501.4 919.1,502.6 920.9,504.2 922.6,505.9 924.4,507.6 926.2,504.0 927.9,494.1 929.7,490.6 931.5,490.0 933.3,489.4 935.0,505.5 936.8,527.9 938.6,547.8 940.4,562.1 942.1,562.9 943.9,562.2 945.7,560.0 947.4,557.4 949.2,552.6 951.0,547.7 952.8,542.9 954.5,545.1 956.3,551.7 958.1,558.4 959.8,562.9 961.6,566.3 963.4,569.8 965.2,573.4 966.9,578.6 968.7,583.8 970.5,586.6 972.3,577.2 974.0,567.8 975.8,562.2 977.6,570.6 979.3,578.9 981.1,573.9 982.9,566.7 984.7,563.9 986.4,565.5 988.2,567.1 990.0,568.7 991.7,572.2 993.5,575.7 995.3,573.9 997.1,568.3 998.8,565.5 1000.6,572.0 1002.4,578.4 1004.2,578.1 1005.9,576.7 1007.7,574.7 1009.5,571.9 1011.2,569.2 1013.0,566.5 1014.8,568.5 1016.6,570.7 1018.3,572.8 1020.1,571.0 1021.9,563.9 1023.6,553.2 1023.6,581.3 1021.9,592.4 1020.1,599.5 1018.3,601.2 1016.6,598.9 1014.8,596.6 1013.0,594.6 1011.2,597.7 1009.5,600.9 1007.7,604.1 1005.9,605.3 1004.2,604.4 1002.4,603.1 1000.6,599.8 998.8,596.6 997.1,600.4 995.3,606.3 993.5,608.4 991.7,604.8 990.0,601.4 988.2,600.4 986.4,599.3 984.7,598.3 982.9,600.6 981.1,606.3 979.3,610.5 977.6,606.4 975.8,602.3 974.0,606.0 972.3,611.9 970.5,617.7 968.7,615.7 966.9,612.0 965.2,608.4 963.4,605.7 961.6,603.3 959.8,600.8 958.1,597.1 956.3,591.0 954.5,584.9 952.8,582.5 951.0,585.9 949.2,589.4 947.4,592.8 945.7,595.6 943.9,598.3 942.1,600.3 940.4,601.7 938.6,585.8 936.8,563.0 935.0,539.9 933.3,523.6 931.5,525.5 929.7,527.4 927.9,531.0 926.2,538.2 924.4,540.5 922.6,538.6 920.9,536.7 919.1,534.8 917.3,533.8 915.5,532.8 913.8,529.3 912.0,526.3 910.2,525.5 908.5,529.1 906.7,534.5 904.9,537.0 903.1,534.0 901.4,529.8 899.6,524.9 897.8,520.0 896.0,519.9 894.3,522.9 892.5,525.8 890.7,528.8 889.0,527.5 887.2,521.7 885.4,515.8 883.6,512.7 881.9,511.9 880.1,519.8 878.3,530.4 876.6,530.8 874.8,531.1 873.0,531.4 871.2,530.0 869.5,526.6 867.7,523.1 865.9,521.9 864.1,521.6 862.4,520.7 860.6,515.7 858.8,510.8 857.1,516.2 855.3,524.5 853.5,532.8 851.7,560.3 850.0,567.8 848.2,562.0 846.4,542.8 844.7,523.2 842.9,517.2 841.1,514.5 839.3,514.6 837.6,516.8 835.8,519.0 834.0,520.9 832.2,522.8 830.5,526.6 828.7,533.1 826.9,551.8 825.2,576.9 823.4,580.7 821.6,583.5 819.8,598.1 818.1,608.0 816.3,608.7 814.5,609.4 812.8,607.7 811.0,602.3 809.2,597.1 807.4,597.5 805.7,597.9 803.9,598.2 802.1,598.4 800.3,598.6 798.6,602.2 796.8,609.3 795.0,607.9 793.3,605.6 791.5,601.1 789.7,596.5 787.9,598.8 786.2,604.7 784.4,586.2 782.6,569.4 780.9,592.9 779.1,616.4 777.3,617.4 775.5,616.3 773.8,615.2 772.0,608.4 770.2,601.5 768.4,598.1 766.7,596.9 764.9,595.8 763.1,594.7 761.4,593.2 759.6,591.7 757.8,592.1 756.0,607.2 754.3,609.8 752.5,611.4 750.7,613.0 749.0,611.5 747.2,605.1 745.4,598.7 743.6,593.5 741.9,591.1 740.1,588.6 738.3,602.0 736.5,612.4 734.8,607.5 733.0,606.5 731.2,611.1 729.5,607.8 727.7,600.1 725.9,594.4 724.1,593.4 722.4,592.3 720.6,591.3 718.8,590.4 717.1,590.5 715.3,593.4 713.5,600.9 711.7,603.8 710.0,603.8 708.2,592.3 706.4,549.7 704.6,536.8 702.9,529.3 701.1,534.2 699.3,529.8 697.6,517.3 695.8,507.2 694.0,509.0 692.2,509.5 690.5,508.1 688.7,515.3 686.9,527.4 685.2,525.0 683.4,520.8 681.6,521.5 679.8,522.3 678.1,523.1 676.3,524.2 674.5,525.4 672.7,525.3 671.0,519.8 669.2,514.2 667.4,516.6 665.7,520.7 663.9,524.8 662.1,521.2 660.3,516.8 658.6,514.3 656.8,511.7 655.0,510.3 653.3,514.9 651.5,517.8 649.7,518.0 647.9,518.4 646.2,527.0 644.4,535.6 642.6,542.8 640.8,531.3 639.1,525.1 637.3,531.1 635.5,537.2 633.8,538.2 632.0,529.7 630.2,521.3 628.4,527.5 626.7,533.8 624.9,533.7 623.1,529.6 621.4,525.6 619.6,521.2 617.8,516.6 616.0,515.7 614.3,522.8 612.5,529.9 610.7,530.6 608.9,530.9 607.2,531.3 605.4,533.2 603.6,535.1 601.9,533.8 600.1,530.7 598.3,528.4 596.5,528.0 594.8,527.5 593.0,521.2 591.2,514.3 589.4,510.0 587.7,515.9 585.9,513.4 584.1,508.8 582.4,512.3 580.6,514.7 578.8,514.3 577.0,513.9 575.3,509.6 573.5,505.5 571.7,508.2 570.0,517.6 568.2,539.4 566.4,565.3 564.6,594.1 562.9,602.8 561.1,606.5 559.3,607.6 557.5,605.4 555.8,603.2 554.0,602.5 552.2,603.5 550.5,603.2 548.7,602.5 546.9,601.1 545.1,598.5 543.4,595.8 541.6,597.2 539.8,598.5 538.1,600.3 536.3,602.5 534.5,604.7 532.7,605.7 531.0,605.9 529.2,606.0 527.4,606.2 525.6,606.5 523.9,606.8 522.1,606.0 520.3,592.0 518.6,583.2 516.8,586.5 515.0,589.8 513.2,587.0 511.5,583.9 509.7,589.4 507.9,601.1 506.2,609.7 504.4,607.3 502.6,604.9 500.8,599.4 499.1,593.4 497.3,590.6 495.5,591.1 493.7,591.6 492.0,584.7 490.2,571.7 488.4,566.5 486.7,563.6 484.9,565.0 483.1,575.5 481.3,587.9 479.6,599.1 477.8,607.9 476.0,610.6 474.3,613.4 472.5,613.9 470.7,612.9 468.9,604.5 467.2,596.1 465.4,598.4 463.6,603.5 461.8,608.6 460.1,606.7 458.3,603.5 456.5,600.3 454.8,599.7 453.0,599.3 451.2,597.6 449.4,594.6 447.7,594.5 445.9,595.3 444.1,585.0 442.4,560.0 440.6,542.5 438.8,535.3 437.0,540.8 435.3,545.9 433.5,546.9 431.7,547.8 429.9,547.0 428.2,545.5 426.4,539.3 424.6,533.2 422.9,528.7 421.1,524.2 419.3,519.6 417.5,521.8 415.8,527.7 414.0,529.1 412.2,529.8 410.5,543.9 408.7,570.7 406.9,587.1 405.1,600.0 403.4,604.4 401.6,608.5 399.8,603.5 398.0,592.7 396.3,589.3 394.5,588.5 392.7,604.6 391.0,595.4 389.2,588.4 387.4,591.2 385.6,595.0 383.9,600.4 382.1,605.9 380.3,607.0 378.6,601.6 376.8,596.2 375.0,590.7 373.2,583.3 371.5,575.5 369.7,565.7 367.9,553.9 366.1,586.7 364.4,604.8 362.6,595.8 360.8,588.3 359.1,587.1 357.3,585.9 355.5,585.8 353.7,589.4 352.0,593.0 350.2,596.6 348.4,602.0 346.7,608.2 344.9,614.4 343.1,610.7 341.3,601.0 339.6,599.1 337.8,593.8 336.0,587.3 334.2,579.2 332.5,571.0 330.7,570.8 328.9,577.5 327.2,582.4 325.4,579.0 323.6,579.9 321.8,587.3 320.1,589.8 318.3,589.6 316.5,590.1 314.8,592.6 313.0,595.2 311.2,598.0 309.4,600.8 307.7,603.6 305.9,606.1 304.1,608.6 302.3,609.4 300.6,609.0 298.8,605.9 297.0,602.3 295.3,598.6 293.5,595.5 291.7,593.9 289.9,592.3 288.2,591.3 286.4,591.4 284.6,591.6 282.9,592.6 281.1,594.2 279.3,595.9 277.5,601.1 275.8,605.5 274.0,607.6 272.2,609.6 270.4,608.0 268.7,604.4 266.9,589.4 265.1,576.7 263.4,568.1 261.6,559.5 259.8,534.1 258.0,527.8 256.3,526.0 254.5,526.6 252.7,530.2 251.0,529.1 249.2,525.8 247.4,522.5 245.6,526.9 243.9,534.1 242.1,536.1 240.3,528.9 238.5,521.8 236.8,524.8 235.0,527.9 233.2,531.4 231.5,535.1 229.7,538.8 227.9,540.9 226.1,542.2 224.4,540.8 222.6,533.8 220.8,525.2 219.1,515.4 217.3,515.2 215.5,517.6 213.7,517.7 212.0,517.7 210.2,518.2 208.4,518.9 206.6,517.1 204.9,509.1 203.1,516.0 201.3,536.3 199.6,552.1 197.8,566.5 196.0,592.4 194.2,601.6 192.5,606.4 190.7,605.3 188.9,604.1 187.2,598.1 185.4,589.7 183.6,591.4 181.8,593.3 180.1,590.1 178.3,586.3 176.5,581.6 174.7,576.8 173.0,573.4 171.2,571.8 169.4,569.2 167.7,547.3 165.9,527.2 164.1,511.8 162.3,508.3 160.6,508.9 158.8,514.1 157.0,520.8 155.3,525.0 153.5,525.2 151.7,525.3 149.9,526.1 148.2,526.9 146.4,525.4 144.6,522.6 142.8,517.1 141.1,504.9 139.3,494.9" fill="#000"/>
<polyline clip-path="url(#clipb)" points="139.30,486.6 139.52,457.5 139.74,479.9 139.96,459.2 140.19,511.2 140.41,504.2 140.63,482.6 140.85,502.4 141.07,497.2 141.29,510.9 141.52,509.7 141.74,493.2 141.96,503.7 142.18,488.9 142.40,508.3 142.62,501.6 142.84,512.6 143.07,496.7 143.29,475.3 143.51,494.3 143.73,521.1 143.95,511.4 144.17,513.9 144.40,515.4 144.62,493.4 144.84,521.9 145.06,540.2 145.28,484.0 145.50,482.7 145.72,486.5 145.95,524.5 146.17,513.3 146.39,511.5 146.61,523.6 146.83,518.2 147.05,517.0 147.28,501.5 147.50,477.4 147.72,493.9 147.94,556.9 148.16,516.6 148.38,524.8 148.60,499.1 148.83,493.5 149.05,548.5 149.27,528.5 149.49,507.4 149.71,537.8 149.93,478.3 150.15,530.9 150.38,529.2 150.60,485.4 150.82,513.3 151.04,532.2 151.26,511.8 151.48,503.1 151.71,471.1 151.93,514.8 152.15,504.7 152.37,491.4 152.59,521.5 152.81,506.1 153.03,506.4 153.26,548.5 153.48,536.6 153.70,490.1 153.92,481.5 154.14,532.0 154.36,531.5 154.59,510.8 154.81,537.2 155.03,509.2 155.25,495.7 155.47,547.2 155.69,548.5 155.91,470.1 156.14,492.5 156.36,539.8 156.58,513.6 156.80,496.2 157.02,501.2 157.24,493.5 157.47,548.5 157.69,525.8 157.91,490.8 158.13,510.8 158.35,487.4 158.57,504.4 158.79,476.8 159.02,487.0 159.24,521.2 159.46,530.8 159.68,500.3 159.90,485.1 160.12,465.9 160.35,497.3 160.57,490.1 160.79,486.0 161.01,486.2 161.23,483.9 161.45,472.6 161.67,527.6 161.90,501.7 162.12,509.2 162.34,505.2 162.56,527.6 162.78,500.0 163.00,527.6 163.23,523.7 163.45,478.6 163.67,461.7 163.89,482.2 164.11,504.3 164.33,471.6 164.55,530.5 164.78,502.9 165.00,493.3 165.22,527.6 165.44,541.3 165.66,514.1 165.88,505.4 166.11,517.1 166.33,492.0 166.55,532.0 166.77,535.7 166.99,552.7 167.21,522.3 167.43,512.4 167.66,515.9 167.88,548.5 168.10,539.0 168.32,553.1 168.54,565.3 168.76,562.0 168.99,559.1 169.21,544.2 169.43,523.4 169.65,556.3 169.87,565.2 170.09,605.0 170.31,590.4 170.54,561.4 170.76,553.0 170.98,564.3 171.20,590.4 171.42,569.3 171.64,551.6 171.86,584.7 172.09,556.7 172.31,576.2 172.53,542.4 172.75,567.5 172.97,550.3 173.19,540.0 173.42,563.1 173.64,536.0 173.86,536.3 174.08,539.6 174.30,573.1 174.52,564.2 174.74,548.3 174.97,556.1 175.19,564.5 175.41,590.4 175.63,577.9 175.85,565.6 176.07,566.1 176.30,582.3 176.52,579.2 176.74,573.9 176.96,558.5 177.18,572.6 177.40,544.9 177.62,561.7 177.85,587.7 178.07,581.2 178.29,549.1 178.51,577.3 178.73,559.5 178.95,548.5 179.18,587.9 179.40,562.8 179.62,566.1 179.84,579.6 180.06,575.4 180.28,599.6 180.50,605.0 180.73,575.9 180.95,588.0 181.17,552.8 181.39,585.1 181.61,593.1 181.83,579.1 182.06,629.1 182.28,589.5 182.50,608.4 182.72,583.8 182.94,565.0 183.16,595.5 183.38,553.6 183.61,611.3 183.83,570.9 184.05,591.8 184.27,566.3 184.49,596.7 184.71,581.8 184.94,552.7 185.16,546.4 185.38,577.2 185.60,597.1 185.82,567.7 186.04,581.4 186.26,565.4 186.49,558.2 186.71,607.1 186.93,588.4 187.15,570.2 187.37,604.3 187.59,608.1 187.82,567.9 188.04,556.9 188.26,556.9 188.48,582.8 188.70,651.0 188.92,600.4 189.14,599.7 189.37,581.8 189.59,560.3 189.81,609.0 190.03,623.8 190.25,584.5 190.47,624.9 190.70,625.0 190.92,607.0 191.14,585.4 191.36,590.8 191.58,560.1 191.80,586.7 192.02,581.5 192.25,573.7 192.47,561.1 192.69,601.0 192.91,593.3 193.13,593.5 193.35,604.0 193.57,574.6 193.80,566.5 194.02,555.4 194.24,625.9 194.46,605.2 194.68,581.3 194.90,595.6 195.13,559.0 195.35,571.9 195.57,536.0 195.79,552.4 196.01,613.2 196.23,589.2 196.45,547.9 196.68,549.7 196.90,560.9 197.12,529.6 197.34,623.8 197.56,526.3 197.78,506.7 198.01,568.3 198.23,535.7 198.45,500.0 198.67,509.1 198.89,519.6 199.11,523.6 199.33,592.5 199.56,535.5 199.78,564.8 200.00,519.6 200.22,522.8 200.44,542.2 200.66,509.3 200.89,475.3 201.11,532.3 201.33,488.9 201.55,592.5 201.77,530.5 201.99,554.9 202.21,466.1 202.44,569.4 202.66,466.9 202.88,481.8 203.10,482.1 203.32,507.1 203.54,501.0 203.77,531.2 203.99,453.3 204.21,511.4 204.43,493.3 204.65,497.5 204.87,476.6 205.09,458.4 205.32,480.4 205.54,527.6 205.76,527.3 205.98,515.3 206.20,508.0 206.42,483.0 206.65,531.1 206.87,528.3 207.09,456.5 207.31,500.5 207.53,478.1 207.75,532.1 207.97,509.9 208.20,499.5 208.42,457.7 208.64,510.5 208.86,546.4 209.08,476.3 209.30,475.6 209.53,466.6 209.75,510.6 209.97,543.6 210.19,467.9 210.41,504.2 210.63,509.5 210.85,482.3 211.08,505.4 211.30,460.7 211.52,524.4 211.74,490.2 211.96,503.5 212.18,514.6 212.41,493.6 212.63,468.2 212.85,491.9 213.07,542.2 213.29,500.4 213.51,506.2 213.73,482.2 213.96,504.7 214.18,515.4 214.40,502.9 214.62,495.7 214.84,498.6 215.06,483.8 215.28,473.7 215.51,464.8 215.73,500.9 215.95,520.0 216.17,509.4 216.39,540.7 216.61,458.4 216.84,491.6 217.06,540.2 217.28,520.0 217.50,471.6 217.72,527.3 217.94,522.1 218.16,516.9 218.39,490.5 218.61,446.0 218.83,469.7 219.05,500.3 219.27,484.2 219.49,500.7 219.72,488.9 219.94,548.9 220.16,528.9 220.38,542.2 220.60,525.7 220.82,522.3 221.04,460.2 221.27,480.8 221.49,510.2 221.71,521.1 221.93,464.8 222.15,512.0 222.37,517.1 222.60,542.6 222.82,514.0 223.04,563.0 223.26,497.2 223.48,559.0 223.70,510.6 223.92,596.6 224.15,501.2 224.37,505.5 224.59,479.6 224.81,561.9 225.03,481.6 225.25,531.5 225.48,517.6 225.70,547.5 225.92,535.8 226.14,561.0 226.36,530.9 226.58,569.4 226.80,510.8 227.03,501.3 227.25,495.1 227.47,550.3 227.69,540.1 227.91,494.1 228.13,561.6 228.36,526.8 228.58,499.2 228.80,529.6 229.02,518.8 229.24,471.1 229.46,474.9 229.68,599.8 229.91,525.5 230.13,469.7 230.35,530.7 230.57,531.6 230.79,569.4 231.01,519.3 231.24,498.1 231.46,497.0 231.68,507.4 231.90,545.4 232.12,482.1 232.34,519.5 232.56,517.9 232.79,497.6 233.01,503.2 233.23,513.3 233.45,493.3 233.67,512.0 233.89,518.4 234.12,491.1 234.34,463.8 234.56,497.8 234.78,512.7 235.00,504.9 235.22,501.2 235.44,536.5 235.67,499.4 235.89,556.9 236.11,531.8 236.33,487.8 236.55,528.8 236.77,495.6 236.99,549.0 237.22,500.5 237.44,490.0 237.66,471.9 237.88,483.5 238.10,496.5 238.32,489.0 238.55,469.0 238.77,495.5 238.99,505.2 239.21,534.7 239.43,547.0 239.65,502.6 239.87,497.1 240.10,544.3 240.32,486.0 240.54,501.5 240.76,528.5 240.98,515.2 241.20,510.9 241.43,529.7 241.65,525.6 241.87,519.1 242.09,529.2 242.31,512.4 242.53,534.6 242.75,496.2 242.98,519.7 243.20,507.3 243.42,570.5 243.64,524.2 243.86,552.4 244.08,511.6 244.31,556.9 244.53,513.0 244.75,521.9 244.97,529.4 245.19,504.9 245.41,514.1 245.63,516.9 245.86,515.3 246.08,521.4 246.30,526.7 246.52,523.0 246.74,513.9 246.96,478.4 247.19,493.2 247.41,499.2 247.63,502.5 247.85,481.8 248.07,505.6 248.29,492.6 248.51,540.2 248.74,499.7 248.96,500.6 249.18,509.2 249.40,520.4 249.62,502.4 249.84,496.0 250.07,505.4 250.29,508.5 250.51,500.8 250.73,506.3 250.95,537.8 251.17,508.2 251.39,527.7 251.62,529.4 251.84,509.2 252.06,481.6 252.28,509.3 252.50,506.0 252.72,496.5 252.95,530.2 253.17,507.7 253.39,504.5 253.61,506.1 253.83,552.7 254.05,525.6 254.27,509.5 254.50,498.8 254.72,483.0 254.94,515.5 255.16,514.9 255.38,470.1 255.60,531.1 255.82,524.1 256.05,491.3 256.27,499.0 256.49,501.5 256.71,513.0 256.93,548.5 257.15,477.4 257.38,539.6 257.60,516.5 257.82,535.9 258.04,537.6 258.26,506.1 258.48,517.6 258.70,483.1 258.93,527.0 259.15,537.5 259.37,464.8 259.59,513.4 259.81,499.4 260.03,508.3 260.26,482.4 260.48,528.5 260.70,510.6 260.92,523.4 261.14,556.9 261.36,546.7 261.58,506.7 261.81,549.3 262.03,522.6 262.25,550.5 262.47,539.5 262.69,557.4 262.91,540.9 263.14,582.0 263.36,546.5 263.58,529.7 263.80,529.2 264.02,548.3 264.24,559.5 264.46,578.6 264.69,558.0 264.91,558.3 265.13,572.9 265.35,565.4 265.57,588.9 265.79,540.2 266.02,571.2 266.24,590.3 266.46,598.4 266.68,569.7 266.90,580.1 267.12,557.1 267.34,596.6 267.57,571.5 267.79,556.4 268.01,580.6 268.23,586.8 268.45,589.5 268.67,599.5 268.90,565.3 269.12,587.0 269.34,577.2 269.56,612.3 269.78,615.1 270.00,589.3 270.22,603.7 270.45,623.8 270.67,574.4 270.89,590.6 271.11,619.6 271.33,589.4 271.55,585.4 271.78,620.3 272.00,643.7 272.22,606.7 272.44,604.2 272.66,593.9 272.88,599.3 273.10,626.9 273.33,579.8 273.55,628.0 273.77,592.1 273.99,585.2 274.21,575.5 274.43,617.8 274.66,597.6 274.88,568.5 275.10,583.6 275.32,599.5 275.54,599.2 275.76,571.9 275.98,591.4 276.21,561.1 276.43,597.5 276.65,596.7 276.87,561.4 277.09,618.2 277.31,558.7 277.53,558.0 277.76,623.8 277.98,582.7 278.20,563.2 278.42,598.8 278.64,579.5 278.86,573.7 279.09,562.0 279.31,636.4 279.53,590.7 279.75,553.4 279.97,571.0 280.19,557.5 280.41,581.9 280.64,560.1 280.86,619.7 281.08,589.6 281.30,566.1 281.52,591.5 281.74,601.3 281.97,570.8 282.19,565.2 282.41,580.8 282.63,593.6 282.85,576.7 283.07,579.1 283.29,541.3 283.52,581.9 283.74,587.7 283.96,536.0 284.18,566.9 284.40,576.7 284.62,563.8 284.85,578.6 285.07,585.9 285.29,575.9 285.51,615.5 285.73,562.8 285.95,607.2 286.17,591.9 286.40,557.5 286.62,562.5 286.84,608.7 287.06,602.4 287.28,612.6 287.50,596.4 287.73,553.0 287.95,577.5 288.17,610.4 288.39,548.0 288.61,565.4 288.83,544.3 289.05,595.9 289.28,569.0 289.50,583.1 289.72,612.0 289.94,573.0 290.16,558.4 290.38,611.3 290.61,573.5 290.83,600.1 291.05,582.6 291.27,567.9 291.49,613.5 291.71,573.0 291.93,588.3 292.16,591.6 292.38,593.5 292.60,584.3 292.82,590.9 293.04,581.0 293.26,560.6 293.49,602.4 293.71,579.7 293.93,550.6 294.15,585.4 294.37,574.0 294.59,604.6 294.81,608.9 295.04,565.0 295.26,585.3 295.48,574.2 295.70,615.5 295.92,592.9 296.14,621.2 296.37,580.8 296.59,576.6 296.81,605.7 297.03,577.4 297.25,593.1 297.47,600.5 297.69,587.3 297.92,592.0 298.14,577.2 298.36,590.9 298.58,578.3 298.80,597.6 299.02,606.0 299.24,597.3 299.47,613.3 299.69,622.5 299.91,554.9 300.13,593.5 300.35,554.8 300.57,585.3 300.80,588.6 301.02,598.5 301.24,589.2 301.46,582.5 301.68,589.4 301.90,632.2 302.12,556.0 302.35,613.4 302.57,556.3 302.79,577.4 303.01,604.4 303.23,582.7 303.45,650.0 303.68,609.9 303.90,587.8 304.12,589.2 304.34,594.9 304.56,617.2 304.78,614.0 305.00,632.2 305.23,576.4 305.45,582.5 305.67,611.0 305.89,602.4 306.11,599.8 306.33,576.0 306.56,608.8 306.78,580.3 307.00,568.0 307.22,581.2 307.44,598.6 307.66,542.2 307.88,606.2 308.11,611.9 308.33,595.8 308.55,543.4 308.77,552.1 308.99,588.1 309.21,630.1 309.44,625.0 309.66,584.0 309.88,581.5 310.10,592.4 310.32,603.2 310.54,579.6 310.76,592.0 310.99,563.7 311.21,567.0 311.43,604.1 311.65,559.2 311.87,598.1 312.09,593.7 312.32,585.1 312.54,596.8 312.76,548.5 312.98,548.1 313.20,565.3 313.42,571.2 313.64,595.2 313.87,561.7 314.09,568.1 314.31,573.2 314.53,615.5 314.75,554.2 314.97,555.1 315.20,588.2 315.42,540.8 315.64,582.4 315.86,613.2 316.08,548.4 316.30,568.1 316.52,557.3 316.75,577.6 316.97,536.0 317.19,600.9 317.41,574.1 317.63,576.2 317.85,564.3 318.08,574.1 318.30,593.1 318.52,612.3 318.74,586.3 318.96,565.6 319.18,576.2 319.40,580.7 319.63,589.7 319.85,579.3 320.07,611.6 320.29,580.7 320.51,575.7 320.73,572.1 320.95,579.1 321.18,540.2 321.40,577.3 321.62,576.8 321.84,552.8 322.06,570.8 322.28,542.9 322.51,582.5 322.73,611.3 322.95,589.4 323.17,600.7 323.39,562.6 323.61,586.9 323.83,572.7 324.06,558.4 324.28,510.9 324.50,573.3 324.72,585.1 324.94,571.5 325.16,560.4 325.39,553.9 325.61,565.2 325.83,594.5 326.05,572.9 326.27,597.1 326.49,585.7 326.71,584.5 326.94,570.2 327.16,569.6 327.38,546.4 327.60,575.0 327.82,576.1 328.04,582.5 328.27,552.6 328.49,556.3 328.71,579.5 328.93,543.1 329.15,598.7 329.37,550.1 329.59,565.0 329.82,550.3 330.04,525.9 330.26,550.8 330.48,566.4 330.70,574.6 330.92,561.6 331.15,522.6 331.37,590.9 331.59,513.0 331.81,533.1 332.03,536.6 332.25,554.1 332.47,565.7 332.70,546.9 332.92,524.7 333.14,562.8 333.36,590.4 333.58,601.9 333.80,533.4 334.03,604.6 334.25,597.9 334.47,568.6 334.69,598.6 334.91,566.0 335.13,586.1 335.35,586.7 335.58,568.2 335.80,519.2 336.02,531.9 336.24,562.2 336.46,553.8 336.68,583.2 336.91,620.8 337.13,520.0 337.35,615.5 337.57,576.8 337.79,531.5 338.01,580.2 338.23,574.4 338.46,573.5 338.68,559.0 338.90,524.9 339.12,521.3 339.34,585.1 339.56,611.8 339.78,553.4 340.01,614.8 340.23,586.9 340.45,607.2 340.67,523.0 340.89,632.2 341.11,523.4 341.34,632.9 341.56,587.3 341.78,552.5 342.00,617.1 342.22,568.1 342.44,586.5 342.66,632.2 342.89,637.1 343.11,620.9 343.33,606.7 343.55,553.2 343.77,599.0 343.99,591.0 344.22,561.1 344.44,593.0 344.66,585.1 344.88,586.7 345.10,589.8 345.32,589.7 345.54,579.6 345.77,640.6 345.99,603.1 346.21,632.9 346.43,609.0 346.65,554.5 346.87,582.9 347.10,629.5 347.32,596.4 347.54,617.8 347.76,602.4 347.98,593.8 348.20,593.2 348.42,588.9 348.65,593.5 348.87,609.2 349.09,565.9 349.31,580.8 349.53,554.9 349.75,546.4 349.98,588.8 350.20,618.9 350.42,568.7 350.64,618.3 350.86,592.3 351.08,567.5 351.30,619.7 351.53,565.4 351.75,561.7 351.97,600.2 352.19,578.3 352.41,594.9 352.63,613.4 352.86,606.3 353.08,563.2 353.30,595.5 353.52,553.9 353.74,541.3 353.96,533.5 354.18,575.1 354.41,602.4 354.63,577.6 354.85,584.4 355.07,585.0 355.29,612.1 355.51,551.7 355.74,593.6 355.96,523.4 356.18,573.2 356.40,557.6 356.62,591.4 356.84,545.5 357.06,545.3 357.29,566.6 357.51,611.3 357.73,534.3 357.95,587.5 358.17,559.8 358.39,585.5 358.62,562.8 358.84,569.7 359.06,574.4 359.28,602.2 359.50,575.2 359.72,563.1 359.94,563.9 360.17,592.4 360.39,556.0 360.61,571.9 360.83,573.6 361.05,554.8 361.27,573.9 361.49,592.0 361.72,584.8 361.94,608.4 362.16,591.5 362.38,590.3 362.60,611.7 362.82,602.9 363.05,580.4 363.27,587.4 363.49,585.6 363.71,589.8 363.93,587.6 364.15,579.1 364.37,564.9 364.60,605.9 364.82,569.1 365.04,575.3 365.26,556.9 365.48,599.4 365.70,599.1 365.93,561.0 366.15,607.8 366.37,579.5 366.59,566.1 366.81,528.8 367.03,632.2 367.25,554.4 367.48,506.7 367.70,543.7 367.92,484.7 368.14,563.9 368.36,561.9 368.58,544.8 368.81,543.6 369.03,569.4 369.25,574.5 369.47,527.5 369.69,562.8 369.91,565.0 370.13,557.1 370.36,580.5 370.58,527.6 370.80,568.3 371.02,572.3 371.24,565.1 371.46,555.8 371.69,571.3 371.91,531.6 372.13,590.4 372.35,590.7 372.57,568.7 372.79,601.5 373.01,570.1 373.24,565.4 373.46,553.0 373.68,551.3 373.90,541.0 374.12,576.6 374.34,574.1 374.57,588.5 374.79,540.2 375.01,570.7 375.23,568.2 375.45,613.2 375.67,583.3 375.89,581.4 376.12,579.0 376.34,611.3 376.56,570.7 376.78,603.9 377.00,566.5 377.22,596.3 377.45,594.3 377.67,580.9 377.89,591.2 378.11,566.3 378.33,563.7 378.55,584.8 378.77,577.4 379.00,598.5 379.22,590.6 379.44,600.3 379.66,596.5 379.88,595.4 380.10,594.5 380.33,588.3 380.55,587.6 380.77,625.5 380.99,565.3 381.21,592.9 381.43,641.6 381.65,600.4 381.88,614.3 382.10,604.3 382.32,573.8 382.54,628.0 382.76,570.4 382.98,604.6 383.20,610.6 383.43,620.3 383.65,596.1 383.87,581.6 384.09,566.1 384.31,579.8 384.53,562.7 384.76,576.7 384.98,587.2 385.20,567.2 385.42,601.4 385.64,577.4 385.86,584.9 386.08,600.3 386.31,550.6 386.53,549.2 386.75,567.4 386.97,590.4 387.19,560.5 387.41,581.0 387.64,589.8 387.86,611.3 388.08,572.1 388.30,578.7 388.52,574.3 388.74,546.9 388.96,579.0 389.19,562.2 389.41,502.5 389.63,571.5 389.85,531.8 390.07,575.5 390.29,560.7 390.52,561.9 390.74,546.7 390.96,606.5 391.18,621.3 391.40,611.3 391.62,581.9 391.84,571.6 392.07,627.8 392.29,601.0 392.51,548.5 392.73,561.5 392.95,583.3 393.17,624.2 393.40,603.0 393.62,570.6 393.84,590.6 394.06,631.2 394.28,581.4 394.50,582.8 394.72,501.5 394.95,558.3 395.17,562.2 395.39,544.6 395.61,565.5 395.83,575.0 396.05,575.6 396.28,611.3 396.50,563.7 396.72,586.4 396.94,533.3 397.16,564.2 397.38,596.3 397.60,572.1 397.83,533.9 398.05,589.3 398.27,612.3 398.49,594.8 398.71,560.2 398.93,581.4 399.16,546.0 399.38,615.5 399.60,612.7 399.82,575.8 400.04,584.6 400.26,555.6 400.48,565.0 400.71,594.3 400.93,561.1 401.15,569.4 401.37,585.1 401.59,561.8 401.81,599.8 402.04,603.1 402.26,588.7 402.48,631.2 402.70,591.4 402.92,563.1 403.14,622.7 403.36,589.8 403.59,600.6 403.81,565.9 404.03,599.8 404.25,581.5 404.47,592.7 404.69,604.0 404.91,571.2 405.14,565.3 405.36,600.1 405.58,569.5 405.80,569.3 406.02,588.2 406.24,575.0 406.47,587.2 406.69,615.5 406.91,571.4 407.13,585.4 407.35,603.6 407.57,563.9 407.79,589.2 408.02,581.7 408.24,523.4 408.46,564.2 408.68,534.9 408.90,537.2 409.12,550.5 409.35,540.8 409.57,563.4 409.79,600.8 410.01,525.3 410.23,514.9 410.45,521.0 410.67,544.2 410.90,492.3 411.12,531.1 411.34,468.0 411.56,503.1 411.78,530.3 412.00,504.5 412.23,542.4 412.45,512.8 412.67,507.4 412.89,556.9 413.11,478.6 413.33,497.5 413.55,514.5 413.78,515.3 414.00,485.5 414.22,477.3 414.44,522.0 414.66,490.5 414.88,495.3 415.11,521.0 415.33,515.7 415.55,481.6 415.77,511.9 415.99,510.4 416.21,511.1 416.43,517.2 416.66,500.0 416.88,504.2 417.10,548.5 417.32,491.8 417.54,504.0 417.76,510.6 417.99,501.1 418.21,522.6 418.43,508.9 418.65,485.8 418.87,495.9 419.09,521.7 419.31,521.9 419.54,499.2 419.76,525.2 419.98,512.6 420.20,531.8 420.42,534.2 420.64,511.1 420.87,526.0 421.09,510.0 421.31,491.0 421.53,498.2 421.75,498.7 421.97,499.5 422.19,530.7 422.42,525.8 422.64,496.3 422.86,532.1 423.08,482.0 423.30,515.7 423.52,507.1 423.75,535.9 423.97,527.5 424.19,522.6 424.41,540.3 424.63,528.9 424.85,471.1 425.07,498.6 425.30,481.1 425.52,508.7 425.74,535.1 425.96,524.6 426.18,537.9 426.40,535.3 426.62,561.1 426.85,539.0 427.07,486.6 427.29,545.7 427.51,508.8 427.73,525.9 427.95,504.3 428.18,494.1 428.40,503.3 428.62,554.2 428.84,507.4 429.06,535.0 429.28,528.4 429.50,516.1 429.73,567.4 429.95,524.3 430.17,556.5 430.39,514.7 430.61,518.7 430.83,498.8 431.06,541.9 431.28,498.3 431.50,536.5 431.72,530.0 431.94,517.5 432.16,568.5 432.38,509.9 432.61,502.6 432.83,586.2 433.05,499.2 433.27,557.7 433.49,563.9 433.71,555.5 433.94,531.4 434.16,522.9 434.38,510.2 434.60,540.4 434.82,565.9 435.04,526.2 435.26,522.2 435.49,500.4 435.71,544.8 435.93,555.9 436.15,532.4 436.37,529.9 436.59,513.0 436.82,511.0 437.04,565.3 437.26,539.8 437.48,530.4 437.70,539.6 437.92,531.6 438.14,519.9 438.37,508.4 438.59,519.4 438.81,505.3 439.03,548.7 439.25,526.0 439.47,517.5 439.70,496.2 439.92,519.9 440.14,533.8 440.36,524.3 440.58,535.5 440.80,528.1 441.02,541.8 441.25,548.5 441.47,522.1 441.69,512.9 441.91,562.0 442.13,547.7 442.35,559.7 442.58,545.3 442.80,521.3 443.02,582.0 443.24,539.6 443.46,629.1 443.68,553.6 443.90,585.6 444.13,564.3 444.35,582.0 444.57,550.3 444.79,540.2 445.01,539.9 445.23,579.1 445.45,586.0 445.68,538.9 445.90,565.3 446.12,580.0 446.34,619.7 446.56,580.0 446.78,608.1 447.01,580.0 447.23,546.3 447.45,558.9 447.67,574.8 447.89,601.3 448.11,561.8 448.33,567.4 448.56,574.5 448.78,560.5 449.00,533.9 449.22,569.9 449.44,595.4 449.66,585.1 449.89,569.1 450.11,583.9 450.33,548.0 450.55,619.7 450.77,592.0 450.99,612.9 451.21,540.2 451.44,621.7 451.66,532.1 451.88,554.2 452.10,531.8 452.32,593.0 452.54,543.8 452.77,583.0 452.99,534.3 453.21,571.8 453.43,597.0 453.65,628.0 453.87,648.9 454.09,573.4 454.32,538.3 454.54,610.0 454.76,606.7 454.98,542.8 455.20,583.7 455.42,609.4 455.65,578.3 455.87,558.7 456.09,593.1 456.31,544.3 456.53,588.7 456.75,601.9 456.97,562.9 457.20,581.8 457.42,580.3 457.64,627.0 457.86,623.8 458.08,573.5 458.30,557.2 458.53,568.7 458.75,581.3 458.97,591.0 459.19,582.0 459.41,627.2 459.63,596.7 459.85,600.1 460.08,545.8 460.30,600.8 460.52,633.9 460.74,546.1 460.96,596.1 461.18,571.2 461.41,583.2 461.63,546.4 461.85,545.3 462.07,588.6 462.29,610.3 462.51,542.7 462.73,589.6 462.96,588.3 463.18,636.4 463.40,624.7 463.62,631.5 463.84,568.2 464.06,544.5 464.29,612.2 464.51,605.7 464.73,557.5 464.95,592.2 465.17,585.1 465.39,616.1 465.61,569.0 465.84,626.1 466.06,546.8 466.28,601.7 466.50,571.5 466.72,525.5 466.94,568.2 467.16,579.3 467.39,587.7 467.61,556.1 467.83,566.0 468.05,567.0 468.27,614.2 468.49,623.8 468.72,577.3 468.94,599.2 469.16,578.6 469.38,578.8 469.60,575.5 469.82,595.2 470.04,618.6 470.27,589.1 470.49,589.9 470.71,562.3 470.93,552.7 471.15,563.1 471.37,659.4 471.60,612.7 471.82,601.8 472.04,569.6 472.26,601.3 472.48,640.6 472.70,572.3 472.92,615.2 473.15,594.4 473.37,627.5 473.59,590.4 473.81,597.8 474.03,550.6 474.25,614.1 474.48,589.5 474.70,571.1 474.92,550.2 475.14,604.3 475.36,599.7 475.58,591.8 475.80,640.6 476.03,577.8 476.25,549.6 476.47,601.8 476.69,634.2 476.91,613.3 477.13,634.5 477.36,600.7 477.58,571.3 477.80,570.6 478.02,569.0 478.24,650.0 478.46,585.8 478.68,602.4 478.91,598.5 479.13,595.5 479.35,578.9 479.57,586.0 479.79,604.0 480.01,632.2 480.24,604.6 480.46,560.7 480.68,563.2 480.90,613.2 481.12,552.5 481.34,536.0 481.56,584.6 481.79,532.8 482.01,586.8 482.23,587.2 482.45,563.0 482.67,568.3 482.89,565.6 483.12,609.2 483.34,597.8 483.56,549.5 483.78,554.0 484.00,560.3 484.22,568.2 484.44,571.6 484.67,506.7 484.89,508.8 485.11,528.8 485.33,547.7 485.55,528.1 485.77,519.7 486.00,560.4 486.22,590.4 486.44,578.7 486.66,494.1 486.88,549.6 487.10,583.6 487.32,562.0 487.55,531.4 487.77,554.7 487.99,571.7 488.21,586.2 488.43,563.7 488.65,572.4 488.87,535.8 489.10,550.3 489.32,573.7 489.54,540.2 489.76,523.4 489.98,527.5 490.20,582.0 490.43,557.4 490.65,570.4 490.87,536.4 491.09,540.6 491.31,588.3 491.53,560.0 491.75,557.4 491.98,578.5 492.20,610.5 492.42,612.6 492.64,553.3 492.86,531.8 493.08,574.8 493.31,581.8 493.53,565.8 493.75,568.8 493.97,580.0 494.19,577.7 494.41,557.4 494.63,617.6 494.86,574.4 495.08,562.8 495.30,564.5 495.52,571.5 495.74,573.1 495.96,580.5 496.19,551.2 496.41,548.0 496.63,563.3 496.85,541.7 497.07,570.3 497.29,559.6 497.51,585.2 497.74,594.7 497.96,536.0 498.18,531.8 498.40,589.5 498.62,565.4 498.84,583.2 499.07,566.0 499.29,579.1 499.51,555.8 499.73,615.5 499.95,590.9 500.17,647.9 500.39,566.3 500.62,619.3 500.84,623.0 501.06,580.1 501.28,588.9 501.50,628.8 501.72,598.7 501.95,606.8 502.17,569.0 502.39,540.2 502.61,596.2 502.83,632.2 503.05,591.0 503.27,598.7 503.50,565.5 503.72,590.2 503.94,632.2 504.16,597.3 504.38,549.2 504.60,624.6 504.83,597.7 505.05,615.4 505.27,605.5 505.49,614.1 505.71,583.8 505.93,560.5 506.15,596.7 506.38,604.2 506.60,647.9 506.82,625.5 507.04,580.3 507.26,582.4 507.48,597.8 507.71,581.9 507.93,587.7 508.15,632.2 508.37,602.6 508.59,564.3 508.81,574.3 509.03,552.8 509.26,551.5 509.48,579.8 509.70,562.8 509.92,536.0 510.14,579.5 510.36,551.9 510.58,560.3 510.81,525.5 511.03,573.5 511.25,565.4 511.47,577.1 511.69,578.0 511.91,556.9 512.14,542.4 512.36,607.1 512.58,543.6 512.80,572.5 513.02,572.5 513.24,581.8 513.46,570.1 513.69,546.2 513.91,584.3 514.13,590.3 514.35,582.4 514.57,600.2 514.79,599.3 515.02,540.2 515.24,566.9 515.46,588.7 515.68,576.5 515.90,576.7 516.12,608.9 516.34,584.7 516.57,611.3 516.79,573.7 517.01,596.5 517.23,567.7 517.45,552.2 517.67,537.9 517.90,561.6 518.12,559.7 518.34,583.6 518.56,594.3 518.78,568.7 519.00,533.9 519.22,558.2 519.45,554.8 519.67,566.9 519.89,568.4 520.11,580.0 520.33,578.4 520.55,607.5 520.78,602.9 521.00,550.8 521.22,551.1 521.44,571.8 521.66,589.6 521.88,565.6 522.10,576.3 522.33,650.0 522.55,607.9 522.77,570.0 522.99,593.3 523.21,600.0 523.43,605.5 523.66,611.5 523.88,632.2 524.10,596.2 524.32,556.6 524.54,540.1 524.76,565.1 524.98,620.0 525.21,537.6 525.43,536.8 525.65,572.2 525.87,594.3 526.09,609.7 526.31,599.1 526.54,556.6 526.76,610.6 526.98,585.2 527.20,530.3 527.42,549.7 527.64,532.2 527.86,544.7 528.09,613.7 528.31,586.3 528.53,525.5 528.75,585.8 528.97,552.5 529.19,566.7 529.42,552.2 529.64,603.3 529.86,588.1 530.08,640.6 530.30,605.9 530.52,597.6 530.74,572.2 530.97,597.7 531.19,566.5 531.41,591.0 531.63,605.3 531.85,582.8 532.07,558.5 532.29,578.2 532.52,600.6 532.74,599.2 532.96,559.4 533.18,580.3 533.40,567.9 533.62,618.0 533.85,548.5 534.07,560.9 534.29,593.7 534.51,602.0 534.73,593.5 534.95,581.2 535.17,590.6 535.40,630.1 535.62,606.0 535.84,593.9 536.06,626.4 536.28,582.7 536.50,614.5 536.73,586.6 536.95,555.0 537.17,603.5 537.39,552.7 537.61,554.4 537.83,580.4 538.05,573.2 538.28,593.3 538.50,568.7 538.72,584.1 538.94,546.4 539.16,599.1 539.38,578.1 539.61,573.6 539.83,539.5 540.05,624.3 540.27,589.6 540.49,621.7 540.71,551.9 540.93,563.8 541.16,584.6 541.38,533.5 541.60,608.6 541.82,582.5 542.04,521.6 542.26,569.5 542.49,567.8 542.71,559.8 542.93,610.7 543.15,591.2 543.37,510.9 543.59,563.4 543.81,548.0 544.04,610.6 544.26,584.4 544.48,557.7 544.70,593.8 544.92,632.2 545.14,541.3 545.37,569.3 545.59,577.7 545.81,574.2 546.03,555.6 546.25,595.5 546.47,566.2 546.69,578.5 546.92,528.6 547.14,578.2 547.36,535.4 547.58,531.8 547.80,593.7 548.02,651.0 548.25,581.5 548.47,586.1 548.69,581.0 548.91,592.2 549.13,632.2 549.35,575.9 549.57,570.3 549.80,618.7 550.02,627.3 550.24,586.9 550.46,600.7 550.68,581.3 550.90,582.0 551.12,600.2 551.35,606.3 551.57,567.9 551.79,556.9 552.01,590.5 552.23,588.5 552.45,596.3 552.68,571.8 552.90,567.7 553.12,584.3 553.34,623.8 553.56,563.9 553.78,576.2 554.00,603.8 554.23,586.5 554.45,607.9 554.67,559.6 554.89,496.2 555.11,582.0 555.33,562.3 555.56,573.4 555.78,563.8 556.00,578.9 556.22,567.4 556.44,632.2 556.66,632.9 556.88,554.1 557.11,633.1 557.33,594.6 557.55,579.7 557.77,605.5 557.99,570.3 558.21,542.5 558.44,622.3 558.66,588.7 558.88,600.2 559.10,599.6 559.32,601.6 559.54,634.1 559.76,682.0 559.99,612.7 560.21,548.5 560.43,593.0 560.65,603.8 560.87,582.4 561.09,560.3 561.32,598.2 561.54,609.5 561.76,634.3 561.98,548.5 562.20,599.9 562.42,571.0 562.64,559.5 562.87,548.5 563.09,570.6 563.31,587.9 563.53,599.8 563.75,600.0 563.97,587.1 564.20,548.5 564.42,588.7 564.64,581.6 564.86,575.0 565.08,569.9 565.30,604.8 565.52,595.0 565.75,554.8 565.97,621.7 566.19,542.9 566.41,547.4 566.63,549.8 566.85,550.4 567.08,554.2 567.30,544.7 567.52,500.4 567.74,512.6 567.96,511.9 568.18,510.9 568.40,520.0 568.63,520.0 568.85,494.8 569.07,569.4 569.29,514.2 569.51,497.4 569.73,498.5 569.96,502.9 570.18,478.4 570.40,503.4 570.62,469.0 570.84,496.4 571.06,481.5 571.28,514.4 571.51,512.1 571.73,470.9 571.95,522.0 572.17,527.6 572.39,465.4 572.61,477.8 572.83,503.5 573.06,504.1 573.28,496.0 573.50,484.4 573.72,462.7 573.94,500.9 574.16,510.6 574.39,488.3 574.61,491.8 574.83,505.9 575.05,467.3 575.27,523.4 575.49,495.0 575.71,468.8 575.94,510.0 576.16,487.6 576.38,511.6 576.60,523.3 576.82,548.5 577.04,485.8 577.27,502.0 577.49,478.6 577.71,512.2 577.93,505.0 578.15,515.7 578.37,531.8 578.59,505.4 578.82,509.0 579.04,479.1 579.26,514.8 579.48,484.9 579.70,505.6 579.92,486.1 580.15,513.7 580.37,525.7 580.59,513.0 580.81,475.1 581.03,475.3 581.25,497.5 581.47,485.0 581.70,513.2 581.92,507.5 582.14,522.6 582.36,517.2 582.58,531.8 582.80,499.8 583.03,515.2 583.25,528.8 583.47,511.5 583.69,523.2 583.91,527.9 584.13,422.0 584.35,468.3 584.58,508.8 584.80,486.5 585.02,507.7 585.24,508.2 585.46,494.0 585.68,527.6 585.91,488.9 586.13,507.2 586.35,481.4 586.57,508.2 586.79,534.6 587.01,483.9 587.23,553.8 587.46,515.2 587.68,488.2 587.90,509.0 588.12,515.0 588.34,505.1 588.56,498.5 588.79,514.6 589.01,536.0 589.23,510.0 589.45,506.7 589.67,488.4 589.89,434.5 590.11,493.2 590.34,502.1 590.56,497.5 590.78,515.1 591.00,505.7 591.22,517.2 591.44,527.6 591.67,493.4 591.89,517.8 592.11,513.4 592.33,493.7 592.55,501.1 592.77,540.5 592.99,473.8 593.22,527.4 593.44,511.4 593.66,510.1 593.88,507.3 594.10,504.6 594.32,547.2 594.54,478.4 594.77,509.5 594.99,588.3 595.21,530.0 595.43,511.3 595.65,547.1 595.87,491.5 596.10,532.5 596.32,548.5 596.54,480.9 596.76,532.1 596.98,526.9 597.20,519.7 597.42,504.2 597.65,534.9 597.87,493.7 598.09,473.2 598.31,516.2 598.53,528.1 598.75,472.2 598.98,552.2 599.20,529.3 599.42,509.9 599.64,474.0 599.86,531.5 600.08,503.1 600.30,552.7 600.53,483.6 600.75,510.8 600.97,493.1 601.19,521.6 601.41,520.2 601.63,531.2 601.86,551.2 602.08,516.6 602.30,545.6 602.52,499.3 602.74,523.1 602.96,481.6 603.18,507.7 603.41,499.3 603.63,514.5 603.85,521.6 604.07,516.4 604.29,559.6 604.51,559.0 604.74,492.1 604.96,514.8 605.18,488.1 605.40,553.0 605.62,541.4 605.84,473.4 606.06,496.8 606.29,543.1 606.51,545.8 606.73,538.2 606.95,479.4 607.17,461.7 607.39,513.7 607.62,514.3 607.84,501.4 608.06,523.5 608.28,534.4 608.50,515.2 608.72,561.1 608.94,519.2 609.17,499.6 609.39,472.2 609.61,529.2 609.83,485.8 610.05,523.2 610.27,496.4 610.50,530.7 610.72,486.7 610.94,557.5 611.16,518.6 611.38,506.0 611.60,494.3 611.82,509.3 612.05,500.4 612.27,487.6 612.49,570.5 612.71,523.9 612.93,536.3 613.15,481.4 613.38,468.1 613.60,474.8 613.82,520.6 614.04,556.9 614.26,534.3 614.48,459.7 614.70,494.3 614.93,477.5 615.15,499.9 615.37,512.6 615.59,495.3 615.81,495.2 616.03,480.4 616.25,467.4 616.48,540.6 616.70,451.2 616.92,509.2 617.14,480.4 617.36,524.6 617.58,468.0 617.81,527.4 618.03,484.0 618.25,540.2 618.47,486.7 618.69,519.8 618.91,465.8 619.13,498.5 619.36,542.9 619.58,515.2 619.80,486.9 620.02,503.7 620.24,536.7 620.46,515.0 620.69,477.4 620.91,477.3 621.13,501.7 621.35,517.8 621.57,500.9 621.79,512.2 622.01,548.8 622.24,489.8 622.46,544.3 622.68,516.0 622.90,532.7 623.12,503.3 623.34,491.0 623.57,522.1 623.79,493.8 624.01,518.8 624.23,521.4 624.45,498.8 624.67,513.8 624.89,474.1 625.12,473.9 625.34,487.3 625.56,474.1 625.78,518.0 626.00,473.2 626.22,514.1 626.45,515.3 626.67,538.1 626.89,507.3 627.11,505.3 627.33,523.8 627.55,563.2 627.77,509.8 628.00,517.9 628.22,505.8 628.44,494.1 628.66,475.3 628.88,505.7 629.10,500.9 629.33,500.5 629.55,547.5 629.77,497.1 629.99,510.6 630.21,457.5 630.43,529.2 630.65,482.4 630.88,545.9 631.10,492.6 631.32,524.8 631.54,531.1 631.76,548.5 631.98,529.7 632.21,513.8 632.43,497.2 632.65,500.1 632.87,522.7 633.09,554.9 633.31,548.4 633.53,530.4 633.76,516.8 633.98,526.3 634.20,493.9 634.42,477.4 634.64,521.7 634.86,505.0 635.08,514.5 635.31,541.2 635.53,516.1 635.75,502.7 635.97,568.4 636.19,505.1 636.41,540.5 636.64,513.3 636.86,511.2 637.08,524.4 637.30,530.8 637.52,533.6 637.74,503.6 637.96,490.9 638.19,474.0 638.41,490.7 638.63,500.3 638.85,523.1 639.07,513.6 639.29,493.9 639.52,459.6 639.74,479.1 639.96,485.2 640.18,483.0 640.40,487.7 640.62,506.8 640.84,496.2 641.07,499.6 641.29,550.6 641.51,561.4 641.73,495.3 641.95,516.6 642.17,531.7 642.40,534.0 642.62,520.8 642.84,485.8 643.06,520.3 643.28,538.7 643.50,505.8 643.72,482.2 643.95,524.9 644.17,498.4 644.39,568.4 644.61,544.4 644.83,519.3 645.05,550.3 645.28,486.3 645.50,518.8 645.72,520.6 645.94,527.5 646.16,498.4 646.38,513.4 646.60,511.7 646.83,510.1 647.05,483.4 647.27,476.4 647.49,515.0 647.71,467.9 647.93,466.9 648.16,514.5 648.38,522.0 648.60,484.3 648.82,516.9 649.04,528.6 649.26,520.9 649.48,540.2 649.71,515.8 649.93,481.8 650.15,497.0 650.37,520.9 650.59,527.9 650.81,512.2 651.04,498.5 651.26,503.5 651.48,518.2 651.70,535.2 651.92,517.3 652.14,475.3 652.36,494.4 652.59,511.1 652.81,534.7 653.03,512.3 653.25,503.5 653.47,501.2 653.69,536.0 653.92,485.1 654.14,493.1 654.36,487.3 654.58,505.7 654.80,499.9 655.02,512.4 655.24,462.7 655.47,499.5 655.69,494.0 655.91,466.8 656.13,503.7 656.35,508.7 656.57,484.5 656.79,529.7 657.02,485.6 657.24,516.9 657.46,509.4 657.68,520.5 657.90,523.2 658.12,537.6 658.35,482.3 658.57,479.0 658.79,502.5 659.01,487.9 659.23,535.3 659.45,490.8 659.67,485.2 659.90,519.5 660.12,525.0 660.34,481.7 660.56,453.3 660.78,492.8 661.00,497.8 661.23,537.3 661.45,528.4 661.67,525.0 661.89,529.7 662.11,544.3 662.33,541.4 662.55,505.0 662.78,492.8 663.00,539.4 663.22,475.9 663.44,509.5 663.66,561.1 663.88,478.7 664.11,501.5 664.33,509.2 664.55,516.0 664.77,490.3 664.99,520.5 665.21,548.5 665.43,520.6 665.66,463.8 665.88,493.2 666.10,488.9 666.32,513.4 666.54,470.5 666.76,488.4 666.99,473.6 667.21,471.4 667.43,476.2 667.65,518.6 667.87,471.2 668.09,445.4 668.31,501.1 668.54,482.6 668.76,455.0 668.98,440.8 669.20,486.3 669.42,485.0 669.64,483.3 669.87,496.8 670.09,481.0 670.31,503.3 670.53,544.3 670.75,487.6 670.97,506.4 671.19,491.0 671.42,516.3 671.64,517.9 671.86,532.9 672.08,520.5 672.30,511.2 672.52,517.8 672.75,476.4 672.97,479.5 673.19,515.4 673.41,545.5 673.63,534.3 673.85,498.7 674.07,539.3 674.30,525.9 674.52,477.3 674.74,546.4 674.96,517.0 675.18,521.4 675.40,513.5 675.63,473.9 675.85,473.4 676.07,511.3 676.29,506.0 676.51,490.0 676.73,509.7 676.95,506.6 677.18,514.8 677.40,546.4 677.62,509.9 677.84,497.8 678.06,496.2 678.28,468.0 678.50,498.6 678.73,476.8 678.95,529.7 679.17,523.1 679.39,524.4 679.61,487.8 679.83,546.4 680.06,483.0 680.28,501.1 680.50,528.1 680.72,520.4 680.94,499.3 681.16,509.3 681.38,525.0 681.61,522.6 681.83,533.9 682.05,495.4 682.27,520.3 682.49,518.7 682.71,483.8 682.94,512.4 683.16,478.1 683.38,475.1 683.60,475.3 683.82,526.0 684.04,515.2 684.26,527.1 684.49,516.0 684.71,509.9 684.93,516.6 685.15,540.2 685.37,494.1 685.59,520.7 685.82,506.1 686.04,526.9 686.26,527.5 686.48,548.0 686.70,565.3 686.92,520.1 687.14,518.1 687.37,506.8 687.59,529.8 687.81,518.0 688.03,531.7 688.25,548.5 688.47,507.9 688.70,495.0 688.92,488.2 689.14,498.6 689.36,484.2 689.58,453.6 689.80,451.2 690.02,486.5 690.25,510.9 690.47,496.1 690.69,493.2 690.91,486.5 691.13,484.7 691.35,531.8 691.58,524.1 691.80,479.6 692.02,486.1 692.24,517.6 692.46,476.0 692.68,484.2 692.90,454.4 693.13,468.5 693.35,522.8 693.57,491.8 693.79,482.1 694.01,526.9 694.23,484.1 694.46,533.9 694.68,501.8 694.90,499.8 695.12,519.9 695.34,467.2 695.56,505.5 695.78,465.3 696.01,458.6 696.23,491.0 696.45,503.1 696.67,484.8 696.89,512.4 697.11,527.1 697.34,465.4 697.56,498.4 697.78,527.6 698.00,494.0 698.22,489.3 698.44,545.9 698.66,506.0 698.89,542.5 699.11,515.7 699.33,489.9 699.55,487.7 699.77,509.8 699.99,505.7 700.21,481.6 700.44,499.2 700.66,558.6 700.88,481.2 701.10,486.5 701.32,526.9 701.54,538.9 701.77,560.0 701.99,513.0 702.21,552.9 702.43,525.0 702.65,480.0 702.87,535.3 703.09,506.4 703.32,479.5 703.54,499.1 703.76,482.5 703.98,519.6 704.20,550.5 704.42,529.6 704.65,525.6 704.87,510.4 705.09,548.5 705.31,496.5 705.53,541.9 705.75,513.1 705.97,524.1 706.20,515.0 706.42,522.9 706.64,506.7 706.86,527.6 707.08,553.6 707.30,544.1 707.53,577.5 707.75,546.3 707.97,572.8 708.19,569.4 708.41,617.9 708.63,556.9 708.85,609.5 709.08,588.6 709.30,612.9 709.52,573.2 709.74,637.4 709.96,575.6 710.18,623.8 710.41,564.0 710.63,591.4 710.85,604.9 711.07,587.6 711.29,556.9 711.51,580.3 711.73,604.6 711.96,603.1 712.18,593.6 712.40,612.7 712.62,569.0 712.84,556.9 713.06,623.4 713.29,597.7 713.51,581.7 713.73,575.4 713.95,546.4 714.17,588.8 714.39,623.8 714.61,541.2 714.84,576.5 715.06,606.1 715.28,574.1 715.50,618.5 715.72,563.2 715.94,527.6 716.17,535.4 716.39,615.9 716.61,550.7 716.83,583.1 717.05,529.1 717.27,608.5 717.49,617.6 717.72,613.1 717.94,616.2 718.16,593.1 718.38,573.9 718.60,571.1 718.82,615.7 719.05,507.7 719.27,587.2 719.49,611.3 719.71,607.6 719.93,554.9 720.15,580.0 720.37,555.0 720.60,615.5 720.82,561.3 721.04,597.6 721.26,568.5 721.48,615.1 721.70,575.3 721.92,586.9 722.15,567.7 722.37,579.4 722.59,604.9 722.81,586.2 723.03,581.9 723.25,540.2 723.48,561.3 723.70,582.7 723.92,551.5 724.14,587.6 724.36,583.0 724.58,556.2 724.80,615.5 725.03,561.3 725.25,581.2 725.47,530.7 725.69,585.8 725.91,589.4 726.13,553.4 726.36,526.6 726.58,566.2 726.80,607.7 727.02,592.2 727.24,549.7 727.46,616.1 727.68,540.6 727.91,574.2 728.13,623.8 728.35,615.6 728.57,585.8 728.79,580.5 729.01,590.3 729.24,575.0 729.46,601.2 729.68,613.7 729.90,610.1 730.12,610.3 730.34,597.0 730.56,552.7 730.79,601.3 731.01,635.5 731.23,614.1 731.45,569.5 731.67,592.9 731.89,617.4 732.12,638.5 732.34,601.1 732.56,544.9 732.78,593.9 733.00,598.5 733.22,612.8 733.44,595.7 733.67,540.2 733.89,570.3 734.11,591.5 734.33,621.9 734.55,602.3 734.77,578.1 735.00,578.4 735.22,576.3 735.44,632.2 735.66,590.7 735.88,583.4 736.10,594.3 736.32,604.3 736.55,627.1 736.77,601.3 736.99,554.8 737.21,574.4 737.43,588.3 737.65,629.3 737.88,593.1 738.10,573.2 738.32,577.1 738.54,638.5 738.76,600.8 738.98,568.6 739.20,588.6 739.43,558.2 739.65,603.8 739.87,550.7 740.09,525.5 740.31,572.1 740.53,572.7 740.75,571.2 740.98,567.5 741.20,557.7 741.42,556.2 741.64,615.5 741.86,616.4 742.08,578.7 742.31,595.3 742.53,575.7 742.75,562.5 742.97,602.7 743.19,589.4 743.41,561.0 743.63,616.3 743.86,568.4 744.08,564.0 744.30,540.2 744.52,611.6 744.74,540.4 744.96,588.9 745.19,610.6 745.41,598.4 745.63,600.8 745.85,617.6 746.07,607.6 746.29,609.0 746.51,585.0 746.74,621.8 746.96,576.6 747.18,541.3 747.40,588.0 747.62,586.3 747.84,541.6 748.07,579.7 748.29,578.3 748.51,549.1 748.73,610.0 748.95,592.6 749.17,546.6 749.39,593.3 749.62,542.2 749.84,557.2 750.06,618.6 750.28,566.6 750.50,606.4 750.72,615.8 750.95,611.6 751.17,644.8 751.39,571.6 751.61,610.8 751.83,621.4 752.05,628.0 752.27,589.8 752.50,587.5 752.72,636.7 752.94,574.1 753.16,609.3 753.38,580.7 753.60,550.8 753.83,558.5 754.05,644.0 754.27,593.6 754.49,600.7 754.71,577.5 754.93,573.0 755.15,594.2 755.38,581.0 755.60,595.1 755.82,525.5 756.04,631.1 756.26,563.1 756.48,596.3 756.71,584.8 756.93,597.3 757.15,558.5 757.37,587.7 757.59,643.7 757.81,560.6 758.03,515.1 758.26,568.1 758.48,605.8 758.70,615.5 758.92,577.8 759.14,556.9 759.36,546.2 759.59,615.5 759.81,591.8 760.03,589.4 760.25,587.6 760.47,569.9 760.69,559.1 760.91,598.3 761.14,581.3 761.36,587.8 761.58,562.4 761.80,567.2 762.02,590.3 762.24,577.5 762.46,563.2 762.69,585.0 762.91,545.5 763.13,594.8 763.35,546.4 763.57,615.9 763.79,606.1 764.02,570.1 764.24,591.7 764.46,573.2 764.68,583.6 764.90,615.5 765.12,581.2 765.34,582.4 765.57,558.0 765.79,591.6 766.01,581.2 766.23,592.6 766.45,600.2 766.67,582.1 766.90,594.3 767.12,570.5 767.34,568.6 767.56,581.3 767.78,570.6 768.00,577.4 768.22,554.9 768.45,617.7 768.67,573.6 768.89,582.4 769.11,580.2 769.33,569.4 769.55,540.2 769.78,605.6 770.00,585.4 770.22,595.5 770.44,600.9 770.66,607.7 770.88,582.3 771.10,623.8 771.33,578.0 771.55,578.6 771.77,592.0 771.99,552.3 772.21,554.8 772.43,581.0 772.66,598.3 772.88,571.4 773.10,602.8 773.32,564.3 773.54,587.5 773.76,548.5 773.98,587.5 774.21,578.8 774.43,610.5 774.65,622.8 774.87,575.7 775.09,587.7 775.31,643.7 775.54,635.6 775.76,591.8 775.98,590.0 776.20,597.9 776.42,615.9 776.64,585.9 776.86,607.5 777.09,570.5 777.31,618.0 777.53,606.4 777.75,591.7 777.97,592.4 778.19,644.6 778.42,601.6 778.64,620.6 778.86,556.9 779.08,589.3 779.30,607.2 779.52,596.3 779.74,595.4 779.97,576.5 780.19,600.9 780.41,581.3 780.63,644.8 780.85,617.0 781.07,536.5 781.30,561.6 781.52,568.2 781.74,552.1 781.96,580.8 782.18,553.7 782.40,586.0 782.62,492.0 782.85,562.1 783.07,556.8 783.29,574.0 783.51,570.2 783.73,589.7 783.95,573.6 784.17,586.8 784.40,590.4 784.62,578.9 784.84,546.8 785.06,562.7 785.28,586.8 785.50,560.2 785.73,558.1 785.95,580.5 786.17,548.5 786.39,556.5 786.61,593.8 786.83,582.0 787.05,581.2 787.28,589.6 787.50,556.8 787.72,570.4 787.94,630.1 788.16,590.0 788.38,556.4 788.61,589.4 788.83,595.5 789.05,536.0 789.27,595.5 789.49,574.6 789.71,555.2 789.93,561.9 790.16,584.6 790.38,592.4 790.60,619.7 790.82,577.2 791.04,562.7 791.26,586.0 791.49,565.1 791.71,575.8 791.93,598.1 792.15,599.6 792.37,580.8 792.59,589.3 792.81,599.3 793.04,591.5 793.26,611.0 793.48,561.1 793.70,592.2 793.92,574.7 794.14,578.9 794.37,615.0 794.59,611.8 794.81,589.2 795.03,612.2 795.25,625.9 795.47,598.8 795.69,612.5 795.92,598.9 796.14,609.5 796.36,577.1 796.58,573.3 796.80,647.9 797.02,607.0 797.25,603.2 797.47,617.8 797.69,629.2 797.91,628.5 798.13,548.2 798.35,632.2 798.57,605.8 798.80,548.6 799.02,614.1 799.24,579.8 799.46,521.3 799.68,600.7 799.90,623.6 800.13,588.0 800.35,574.8 800.57,591.6 800.79,591.3 801.01,623.8 801.23,581.4 801.45,541.5 801.68,588.7 801.90,547.1 802.12,542.0 802.34,595.8 802.56,590.0 802.78,542.4 803.01,592.4 803.23,596.6 803.45,586.2 803.67,595.3 803.89,593.1 804.11,543.3 804.33,578.6 804.56,610.0 804.78,560.1 805.00,581.5 805.22,586.4 805.44,580.7 805.66,621.7 805.88,601.3 806.11,620.9 806.33,571.7 806.55,582.8 806.77,583.0 806.99,600.9 807.21,578.9 807.44,607.9 807.66,588.3 807.88,579.6 808.10,562.6 808.32,578.2 808.54,564.5 808.76,585.9 808.99,576.0 809.21,544.3 809.43,584.0 809.65,587.1 809.87,583.6 810.09,605.0 810.32,617.3 810.54,571.1 810.76,619.7 810.98,547.8 811.20,615.7 811.42,567.8 811.64,598.6 811.87,620.8 812.09,569.4 812.31,591.7 812.53,579.5 812.75,579.7 812.97,588.2 813.20,573.8 813.42,552.7 813.64,573.9 813.86,573.7 814.08,556.1 814.30,558.8 814.52,595.8 814.75,605.8 814.97,634.3 815.19,574.8 815.41,592.7 815.63,591.4 815.85,610.3 816.08,605.5 816.30,590.6 816.52,618.8 816.74,593.4 816.96,625.7 817.18,632.8 817.40,581.0 817.63,620.2 817.85,601.3 818.07,591.0 818.29,581.8 818.51,586.9 818.73,550.6 818.96,585.6 819.18,605.0 819.40,609.3 819.62,576.4 819.84,591.8 820.06,589.1 820.28,632.2 820.51,589.8 820.73,551.9 820.95,551.8 821.17,586.7 821.39,600.2 821.61,547.3 821.84,527.6 822.06,548.5 822.28,581.5 822.50,589.8 822.72,550.2 822.94,535.5 823.16,597.3 823.39,605.0 823.61,550.8 823.83,580.9 824.05,557.7 824.27,526.0 824.49,578.4 824.72,581.9 824.94,525.5 825.16,572.5 825.38,528.9 825.60,528.7 825.82,552.3 826.04,542.0 826.27,570.2 826.49,602.9 826.71,579.6 826.93,539.2 827.15,525.9 827.37,532.1 827.59,502.0 827.82,506.4 828.04,475.3 828.26,475.8 828.48,525.1 828.70,531.0 828.92,490.0 829.15,512.4 829.37,519.6 829.59,561.1 829.81,519.4 830.03,511.0 830.25,512.6 830.47,512.8 830.70,493.6 830.92,513.4 831.14,485.8 831.36,521.8 831.58,487.9 831.80,511.9 832.03,491.3 832.25,521.8 832.47,509.4 832.69,520.3 832.91,540.2 833.13,481.8 833.35,494.0 833.58,503.6 833.80,486.1 834.02,492.9 834.24,533.1 834.46,486.9 834.68,515.4 834.91,560.0 835.13,510.1 835.35,471.1 835.57,536.3 835.79,524.7 836.01,534.1 836.23,481.9 836.46,508.6 836.68,512.5 836.90,510.3 837.12,540.2 837.34,507.7 837.56,522.9 837.79,479.5 838.01,504.8 838.23,511.3 838.45,489.0 838.67,506.8 838.89,504.5 839.11,464.6 839.34,492.9 839.56,463.8 839.78,498.6 840.00,480.3 840.22,522.7 840.44,464.1 840.67,491.0 840.89,516.1 841.11,536.0 841.33,502.5 841.55,482.7 841.77,510.8 841.99,505.4 842.22,449.2 842.44,491.8 842.66,499.4 842.88,484.2 843.10,524.0 843.32,527.5 843.55,498.3 843.77,536.0 843.99,504.7 844.21,537.8 844.43,526.4 844.65,484.4 844.87,485.8 845.10,494.7 845.32,534.6 845.54,536.3 845.76,502.2 845.98,490.4 846.20,535.5 846.42,540.2 846.65,526.6 846.87,556.2 847.09,560.7 847.31,545.4 847.53,529.0 847.75,577.3 847.98,498.3 848.20,542.3 848.42,527.1 848.64,553.3 848.86,522.5 849.08,583.1 849.30,560.1 849.53,588.3 849.75,560.1 849.97,525.4 850.19,553.9 850.41,553.7 850.63,532.2 850.86,548.5 851.08,527.6 851.30,534.3 851.52,548.6 851.74,524.5 851.96,546.3 852.18,510.2 852.41,499.1 852.63,590.4 852.85,540.6 853.07,553.8 853.29,481.6 853.51,520.3 853.74,527.8 853.96,508.3 854.18,483.0 854.40,493.8 854.62,493.1 854.84,556.9 855.06,501.2 855.29,504.4 855.51,519.0 855.73,512.0 855.95,539.7 856.17,506.4 856.39,491.6 856.62,524.8 856.84,498.1 857.06,502.4 857.28,510.2 857.50,504.4 857.72,511.0 857.94,491.0 858.17,494.9 858.39,468.0 858.61,491.0 858.83,468.9 859.05,499.2 859.27,523.0 859.50,522.1 859.72,505.0 859.94,527.6 860.16,492.9 860.38,522.6 860.60,510.2 860.82,495.9 861.05,485.1 861.27,514.1 861.49,512.8 861.71,518.4 861.93,531.8 862.15,508.8 862.38,503.9 862.60,477.4 862.82,540.5 863.04,531.5 863.26,488.7 863.48,491.7 863.70,530.1 863.93,525.0 864.15,540.2 864.37,525.9 864.59,517.3 864.81,507.9 865.03,489.6 865.26,522.1 865.48,519.2 865.70,500.2 865.92,521.7 866.14,490.6 866.36,528.4 866.58,502.1 866.81,512.3 867.03,461.3 867.25,438.7 867.47,473.6 867.69,462.3 867.91,516.4 868.13,504.9 868.36,530.5 868.58,479.7 868.80,548.5 869.02,531.1 869.24,501.8 869.46,521.7 869.69,504.7 869.91,517.1 870.13,552.3 870.35,476.3 870.57,542.9 870.79,516.0 871.01,516.1 871.24,501.3 871.46,498.9 871.68,542.1 871.90,526.8 872.12,477.4 872.34,517.9 872.57,493.7 872.79,554.3 873.01,524.6 873.23,485.8 873.45,534.2 873.67,554.8 873.89,516.0 874.12,521.0 874.34,508.3 874.56,514.6 874.78,483.2 875.00,540.2 875.22,496.8 875.45,526.4 875.67,528.3 875.89,495.2 876.11,510.9 876.33,494.6 876.55,496.5 876.77,526.9 877.00,541.2 877.22,537.6 877.44,551.2 877.66,531.4 877.88,483.2 878.10,501.2 878.33,483.7 878.55,521.7 878.77,526.9 878.99,487.5 879.21,532.9 879.43,492.7 879.65,515.4 879.88,550.6 880.10,508.5 880.32,502.3 880.54,516.7 880.76,490.2 880.98,487.0 881.21,516.1 881.43,464.8 881.65,479.4 881.87,527.5 882.09,478.8 882.31,506.3 882.53,517.4 882.76,498.0 882.98,531.8 883.20,512.9 883.42,482.8 883.64,534.7 883.86,535.0 884.09,503.7 884.31,509.3 884.53,459.6 884.75,506.1 884.97,495.6 885.19,483.7 885.41,510.8 885.64,483.5 885.86,466.5 886.08,536.0 886.30,526.2 886.52,521.1 886.74,507.5 886.97,536.5 887.19,505.9 887.41,505.8 887.63,478.5 887.85,506.5 888.07,478.5 888.29,479.7 888.52,497.5 888.74,495.5 888.96,511.2 889.18,496.1 889.40,565.3 889.62,536.9 889.84,487.9 890.07,523.9 890.29,515.8 890.51,536.3 890.73,530.0 890.95,517.1 891.17,532.2 891.40,548.5 891.62,497.5 891.84,522.2 892.06,521.9 892.28,511.7 892.50,510.3 892.72,477.4 892.95,517.6 893.17,507.3 893.39,485.7 893.61,506.4 893.83,537.3 894.05,505.3 894.28,535.3 894.50,509.0 894.72,501.4 894.94,489.3 895.16,510.2 895.38,525.3 895.60,521.3 895.83,497.4 896.05,496.3 896.27,507.1 896.49,490.3 896.71,519.7 896.93,515.0 897.16,461.7 897.38,506.4 897.60,463.8 897.82,518.5 898.04,499.6 898.26,500.1 898.48,518.5 898.71,542.2 898.93,496.9 899.15,537.9 899.37,546.0 899.59,536.5 899.81,534.6 900.04,513.6 900.26,537.1 900.48,499.1 900.70,496.1 900.92,518.2 901.14,501.3 901.36,502.7 901.59,490.4 901.81,494.7 902.03,486.0 902.25,513.4 902.47,485.8 902.69,532.5 902.92,487.2 903.14,523.7 903.36,530.7 903.58,554.3 903.80,524.4 904.02,552.7 904.24,499.3 904.47,538.8 904.69,518.1 904.91,530.6 905.13,532.8 905.35,532.1 905.57,589.3 905.80,537.4 906.02,555.9 906.24,521.7 906.46,521.8 906.68,524.1 906.90,504.6 907.12,556.9 907.35,500.7 907.57,538.0 907.79,504.5 908.01,498.7 908.23,518.5 908.45,524.3 908.68,507.8 908.90,496.6 909.12,520.0 909.34,533.1 909.56,513.0 909.78,471.1 910.00,477.6 910.23,522.5 910.45,502.0 910.67,505.4 910.89,523.9 911.11,537.9 911.33,548.5 911.55,536.8 911.78,523.6 912.00,483.5 912.22,501.9 912.44,512.6 912.66,497.7 912.88,465.9 913.11,505.8 913.33,483.0 913.55,508.5 913.77,487.7 913.99,503.5 914.21,500.2 914.43,552.7 914.66,542.8 914.88,590.4 915.10,512.7 915.32,503.7 915.54,495.9 915.76,475.9 915.99,518.0 916.21,510.9 916.43,556.9 916.65,537.4 916.87,519.6 917.09,488.6 917.31,503.6 917.54,527.9 917.76,517.6 917.98,538.0 918.20,518.4 918.42,509.0 918.64,516.9 918.87,502.7 919.09,478.4 919.31,522.1 919.53,483.6 919.75,543.2 919.97,560.0 920.19,513.4 920.42,537.4 920.64,559.0 920.86,485.0 921.08,519.5 921.30,549.8 921.52,498.5 921.75,518.8 921.97,518.7 922.19,562.6 922.41,528.6 922.63,519.9 922.85,534.1 923.07,524.1 923.30,496.0 923.52,482.1 923.74,482.3 923.96,519.1 924.18,513.2 924.40,534.9 924.63,483.0 924.85,536.8 925.07,485.5 925.29,483.7 925.51,521.7 925.73,503.8 925.95,505.9 926.18,543.2 926.40,497.9 926.62,542.9 926.84,555.3 927.06,566.3 927.28,541.0 927.51,481.5 927.73,514.4 927.95,484.4 928.17,506.2 928.39,497.3 928.61,462.7 928.83,525.5 929.06,534.9 929.28,508.5 929.50,505.6 929.72,463.0 929.94,508.8 930.16,556.9 930.38,470.0 930.61,510.2 930.83,494.7 931.05,502.4 931.27,495.6 931.49,488.5 931.71,463.4 931.94,528.9 932.16,517.5 932.38,493.7 932.60,509.8 932.82,520.3 933.04,469.3 933.26,519.9 933.49,477.3 933.71,463.8 933.93,536.6 934.15,504.2 934.37,511.1 934.59,492.5 934.82,562.8 935.04,544.3 935.26,548.5 935.48,534.3 935.70,521.5 935.92,577.6 936.14,511.8 936.37,554.1 936.59,586.4 936.81,502.5 937.03,520.8 937.25,561.8 937.47,522.3 937.70,599.1 937.92,581.5 938.14,593.8 938.36,517.1 938.58,590.4 938.80,569.7 939.02,620.5 939.25,596.2 939.47,541.0 939.69,542.7 939.91,531.8 940.13,631.7 940.35,650.0 940.58,603.6 940.80,600.4 941.02,572.3 941.24,560.2 941.46,632.2 941.68,574.3 941.90,599.8 942.13,567.8 942.35,607.4 942.57,567.9 942.79,616.7 943.01,536.0 943.23,605.5 943.46,572.7 943.68,575.7 943.90,578.3 944.12,605.1 944.34,565.7 944.56,627.0 944.78,574.3 945.01,586.3 945.23,576.8 945.45,576.8 945.67,550.4 945.89,564.6 946.11,554.9 946.34,598.7 946.56,575.7 946.78,590.4 947.00,548.8 947.22,531.8 947.44,582.9 947.66,562.8 947.89,560.5 948.11,562.7 948.33,602.5 948.55,577.5 948.77,619.7 948.99,578.6 949.22,575.5 949.44,576.7 949.66,550.9 949.88,567.8 950.10,597.0 950.32,593.7 950.54,554.2 950.77,603.0 950.99,557.3 951.21,546.0 951.43,591.1 951.65,572.6 951.87,613.4 952.09,558.8 952.32,566.7 952.54,580.2 952.76,568.8 952.98,581.8 953.20,561.7 953.42,510.9 953.65,561.3 953.87,561.8 954.09,527.2 954.31,585.0 954.53,550.4 954.75,560.0 954.97,611.3 955.20,562.5 955.42,590.8 955.64,598.3 955.86,577.2 956.08,574.3 956.30,559.3 956.53,565.7 956.75,578.3 956.97,570.2 957.19,623.2 957.41,576.8 957.63,567.5 957.85,624.1 958.08,529.4 958.30,565.7 958.52,589.9 958.74,506.7 958.96,557.5 959.18,618.6 959.41,610.0 959.63,555.1 959.85,557.0 960.07,570.8 960.29,628.0 960.51,611.4 960.73,589.0 960.96,572.5 961.18,611.2 961.40,605.4 961.62,547.3 961.84,566.9 962.06,546.1 962.29,631.6 962.51,568.8 962.73,558.1 962.95,573.4 963.17,599.3 963.39,611.6 963.61,590.5 963.84,603.8 964.06,560.5 964.28,620.0 964.50,633.8 964.72,587.0 964.94,546.4 965.17,598.2 965.39,548.0 965.61,612.7 965.83,602.2 966.05,560.5 966.27,585.2 966.49,634.3 966.72,606.1 966.94,637.1 967.16,584.6 967.38,604.2 967.60,599.9 967.82,583.9 968.05,638.6 968.27,595.3 968.49,571.2 968.71,607.3 968.93,605.0 969.15,588.1 969.37,614.9 969.60,640.8 969.82,573.6 970.04,606.9 970.26,565.3 970.48,602.7 970.70,590.3 970.93,640.3 971.15,589.6 971.37,595.7 971.59,584.5 971.81,641.6 972.03,552.7 972.25,576.2 972.48,584.0 972.70,599.1 972.92,598.9 973.14,611.9 973.36,587.0 973.58,572.6 973.80,555.6 974.03,567.2 974.25,573.7 974.47,573.9 974.69,591.1 974.91,602.6 975.13,555.8 975.36,529.7 975.58,580.8 975.80,582.5 976.02,577.0 976.24,597.0 976.46,557.7 976.68,546.3 976.91,615.0 977.13,632.2 977.35,622.5 977.57,593.9 977.79,595.9 978.01,619.4 978.24,596.2 978.46,587.4 978.68,575.9 978.90,603.6 979.12,608.0 979.34,616.6 979.56,556.9 979.79,580.5 980.01,619.6 980.23,603.0 980.45,607.6 980.67,582.0 980.89,597.6 981.12,634.3 981.34,566.2 981.56,575.6 981.78,592.7 982.00,613.7 982.22,565.1 982.44,554.6 982.67,568.3 982.89,626.1 983.11,595.7 983.33,562.0 983.55,585.4 983.77,537.0 984.00,623.9 984.22,571.1 984.44,588.0 984.66,553.1 984.88,577.6 985.10,607.2 985.32,623.8 985.55,585.9 985.77,579.4 985.99,606.3 986.21,580.5 986.43,603.1 986.65,609.3 986.88,596.2 987.10,583.7 987.32,590.8 987.54,581.8 987.76,589.0 987.98,566.7 988.20,567.6 988.43,614.1 988.65,581.8 988.87,551.9 989.09,610.3 989.31,610.4 989.53,616.9 989.76,561.5 989.98,544.3 990.20,605.9 990.42,574.3 990.64,581.6 990.86,594.6 991.08,582.0 991.31,583.1 991.53,566.0 991.75,625.9 991.97,579.3 992.19,590.1 992.41,608.4 992.64,600.7 992.86,556.6 993.08,610.6 993.30,563.0 993.52,551.3 993.74,588.6 993.96,594.0 994.19,552.7 994.41,572.9 994.63,622.6 994.85,550.9 995.07,584.3 995.29,614.6 995.51,588.8 995.74,634.3 995.96,571.6 996.18,565.7 996.40,597.2 996.62,582.2 996.84,591.0 997.07,598.2 997.29,543.6 997.51,563.2 997.73,569.3 997.95,585.2 998.17,593.2 998.39,518.2 998.62,576.0 998.84,578.6 999.06,579.2 999.28,609.2 999.50,569.5 999.72,585.8 999.95,619.7 1000.17,582.3 1000.39,586.8 1000.61,596.9 1000.83,577.9 1001.05,577.9 1001.27,568.5 1001.50,580.2 1001.72,621.3 1001.94,563.7 1002.16,564.8 1002.38,591.8 1002.60,561.1 1002.83,608.8 1003.05,588.9 1003.27,615.1 1003.49,584.3 1003.71,576.5 1003.93,558.8 1004.15,621.7 1004.38,580.7 1004.60,596.4 1004.82,570.3 1005.04,625.4 1005.26,574.1 1005.48,587.6 1005.71,581.5 1005.93,626.7 1006.15,577.7 1006.37,603.5 1006.59,616.1 1006.81,553.8 1007.03,600.4 1007.26,581.3 1007.48,613.6 1007.70,614.3 1007.92,553.8 1008.14,591.3 1008.36,628.0 1008.59,624.4 1008.81,579.1 1009.03,570.9 1009.25,579.8 1009.47,586.8 1009.69,567.1 1009.91,601.7 1010.14,569.1 1010.36,576.1 1010.58,597.3 1010.80,557.9 1011.02,584.4 1011.24,578.6 1011.47,563.7 1011.69,547.2 1011.91,578.8 1012.13,577.1 1012.35,557.7 1012.57,578.8 1012.79,582.3 1013.02,545.4 1013.24,567.3 1013.46,596.9 1013.68,570.0 1013.90,573.3 1014.12,568.3 1014.35,581.9 1014.57,615.5 1014.79,576.8 1015.01,593.9 1015.23,561.5 1015.45,591.1 1015.67,581.9 1015.90,585.2 1016.12,568.9 1016.34,574.3 1016.56,589.9 1016.78,565.4 1017.00,598.1 1017.22,578.3 1017.45,593.4 1017.67,567.4 1017.89,559.4 1018.11,597.4 1018.33,598.4 1018.55,586.6 1018.78,598.5 1019.00,587.6 1019.22,599.1 1019.44,552.7 1019.66,639.5 1019.88,604.6 1020.10,569.2 1020.33,619.9 1020.55,588.8 1020.77,567.1 1020.99,623.8 1021.21,556.5 1021.43,582.3 1021.66,588.5 1021.88,568.3 1022.10,543.0 1022.32,562.3 1022.54,540.2 1022.76,592.6 1022.98,539.2 1023.21,572.4 1023.43,587.6 1023.65,544.3 1023.87,594.0 1024.09,611.3 1024.31,560.8 1024.54,553.0 1024.76,588.6 1024.98,572.5 1025.20,590.4" fill="none" stroke="#000" stroke-width="3.0" stroke-linejoin="bevel"/>
<line x1="139.3" y1="694.0" x2="139.3" y2="687.1" stroke="#111" stroke-width="1.3"/>
<line x1="198.4" y1="694.0" x2="198.4" y2="689.5" stroke="#555" stroke-width="0.7"/>
<line x1="257.4" y1="694.0" x2="257.4" y2="689.5" stroke="#555" stroke-width="0.7"/>
<line x1="316.5" y1="694.0" x2="316.5" y2="689.5" stroke="#555" stroke-width="0.7"/>
<line x1="375.5" y1="694.0" x2="375.5" y2="689.5" stroke="#555" stroke-width="0.7"/>
<line x1="434.6" y1="694.0" x2="434.6" y2="687.1" stroke="#111" stroke-width="1.3"/>
<line x1="493.7" y1="694.0" x2="493.7" y2="689.5" stroke="#555" stroke-width="0.7"/>
<line x1="552.7" y1="694.0" x2="552.7" y2="689.5" stroke="#555" stroke-width="0.7"/>
<line x1="611.8" y1="694.0" x2="611.8" y2="689.5" stroke="#555" stroke-width="0.7"/>
<line x1="670.8" y1="694.0" x2="670.8" y2="689.5" stroke="#555" stroke-width="0.7"/>
<line x1="729.9" y1="694.0" x2="729.9" y2="687.1" stroke="#111" stroke-width="1.3"/>
<line x1="789.0" y1="694.0" x2="789.0" y2="689.5" stroke="#555" stroke-width="0.7"/>
<line x1="848.0" y1="694.0" x2="848.0" y2="689.5" stroke="#555" stroke-width="0.7"/>
<line x1="907.1" y1="694.0" x2="907.1" y2="689.5" stroke="#555" stroke-width="0.7"/>
<line x1="966.1" y1="694.0" x2="966.1" y2="689.5" stroke="#555" stroke-width="0.7"/>
<line x1="1025.2" y1="694.0" x2="1025.2" y2="687.1" stroke="#111" stroke-width="1.3"/>
<line x1="139.3" y1="683.1" x2="143.8" y2="683.1" stroke="#555" stroke-width="0.7"/>
<line x1="139.3" y1="668.0" x2="143.8" y2="668.0" stroke="#555" stroke-width="0.7"/>
<line x1="139.3" y1="652.8" x2="143.8" y2="652.8" stroke="#555" stroke-width="0.7"/>
<line x1="139.3" y1="637.7" x2="143.8" y2="637.7" stroke="#555" stroke-width="0.7"/>
<line x1="139.3" y1="622.6" x2="146.5" y2="622.6" stroke="#111" stroke-width="1.3"/>
<line x1="139.3" y1="607.5" x2="143.8" y2="607.5" stroke="#555" stroke-width="0.7"/>
<line x1="139.3" y1="592.4" x2="143.8" y2="592.4" stroke="#555" stroke-width="0.7"/>
<line x1="139.3" y1="577.2" x2="143.8" y2="577.2" stroke="#555" stroke-width="0.7"/>
<line x1="139.3" y1="562.1" x2="143.8" y2="562.1" stroke="#555" stroke-width="0.7"/>
<line x1="139.3" y1="547.0" x2="146.5" y2="547.0" stroke="#111" stroke-width="1.3"/>
<line x1="139.3" y1="531.9" x2="143.8" y2="531.9" stroke="#555" stroke-width="0.7"/>
<line x1="139.3" y1="516.8" x2="143.8" y2="516.8" stroke="#555" stroke-width="0.7"/>
<line x1="139.3" y1="501.6" x2="143.8" y2="501.6" stroke="#555" stroke-width="0.7"/>
<line x1="139.3" y1="486.5" x2="143.8" y2="486.5" stroke="#555" stroke-width="0.7"/>
<line x1="139.3" y1="471.4" x2="146.5" y2="471.4" stroke="#111" stroke-width="1.3"/>
<line x1="139.3" y1="456.3" x2="143.8" y2="456.3" stroke="#555" stroke-width="0.7"/>
<line x1="139.3" y1="441.2" x2="143.8" y2="441.2" stroke="#555" stroke-width="0.7"/>
<line x1="139.3" y1="426.0" x2="143.8" y2="426.0" stroke="#555" stroke-width="0.7"/>
<line x1="139.3" y1="410.9" x2="143.8" y2="410.9" stroke="#555" stroke-width="0.7"/>
<rect x="139.3" y="400.0" width="885.9" height="294.0" fill="none" stroke="#222" stroke-width="1.25"/>
<circle cx="167.8" cy="516.6" r="7.5" fill="#04d404"/>
<circle cx="260.5" cy="516.6" r="7.5" fill="#04d404"/>
<circle cx="371.3" cy="516.6" r="7.5" fill="#04d404"/>
<circle cx="442.0" cy="516.6" r="7.5" fill="#04d404"/>
<circle cx="490.1" cy="516.6" r="7.5" fill="#04d404"/>
<circle cx="705.7" cy="516.6" r="7.5" fill="#04d404"/>
<circle cx="785.9" cy="516.6" r="7.5" fill="#04d404"/>
<circle cx="847.0" cy="516.6" r="7.5" fill="#04d404"/>
<circle cx="937.2" cy="516.6" r="7.5" fill="#04d404"/>
<circle cx="196.7" cy="578.9" r="7.5" fill="#04d404"/>
<circle cx="365.3" cy="578.9" r="7.5" fill="#04d404"/>
<circle cx="410.0" cy="578.9" r="7.5" fill="#04d404"/>
<circle cx="483.6" cy="578.9" r="7.5" fill="#04d404"/>
<circle cx="566.6" cy="578.9" r="7.5" fill="#04d404"/>
<circle cx="780.2" cy="578.9" r="7.5" fill="#04d404"/>
<circle cx="825.3" cy="578.9" r="7.5" fill="#04d404"/>
<circle cx="853.7" cy="578.9" r="7.5" fill="#04d404"/>
<circle cx="1023.0" cy="578.9" r="7.5" fill="#04d404"/>
<circle cx="199.3" cy="516.6" r="7.5" fill="#d00202"/>
<circle cx="367.0" cy="516.6" r="7.5" fill="#d00202"/>
<circle cx="410.6" cy="516.6" r="7.5" fill="#d00202"/>
<circle cx="484.4" cy="516.6" r="7.5" fill="#d00202"/>
<circle cx="567.4" cy="516.6" r="7.5" fill="#d00202"/>
<circle cx="782.5" cy="516.6" r="7.5" fill="#d00202"/>
<circle cx="826.3" cy="516.6" r="7.5" fill="#d00202"/>
<circle cx="852.7" cy="516.6" r="7.5" fill="#d00202"/>
<circle cx="169.2" cy="578.9" r="7.5" fill="#d00202"/>
<circle cx="262.3" cy="578.9" r="7.5" fill="#d00202"/>
<circle cx="369.9" cy="578.9" r="7.5" fill="#d00202"/>
<circle cx="442.9" cy="578.9" r="7.5" fill="#d00202"/>
<circle cx="489.6" cy="578.9" r="7.5" fill="#d00202"/>
<circle cx="706.4" cy="578.9" r="7.5" fill="#d00202"/>
<circle cx="784.5" cy="578.9" r="7.5" fill="#d00202"/>
<circle cx="848.6" cy="578.9" r="7.5" fill="#d00202"/>
<circle cx="937.5" cy="578.9" r="7.5" fill="#d00202"/>
<text x="140.0" y="732.4" text-anchor="middle" class="tkx">0</text>
<text x="434.6" y="732.4" text-anchor="middle" class="tkx">200</text>
<text x="729.9" y="732.4" text-anchor="middle" class="tkx">400</text>
<text x="1023.2" y="732.4" text-anchor="middle" class="tkx">600</text>
<text x="133.2" y="481.7" text-anchor="end" class="tky">0.02</text>
<text x="133.2" y="557.3" text-anchor="end" class="tky">0</text>
<text x="133.2" y="632.9" text-anchor="end" class="tky">−0.02</text>
<g transform="translate(43.5,596.0) rotate(-90)"><text x="0" y="0" class="yl"><tspan class="it">δ</tspan>(<tspan class="it">t</tspan>)<tspan font-size="50" dy="6" dx="0.5">/</tspan><tspan class="it" dy="-6" dx="0.8">K</tspan></text><text x="3" y="-9" class="yl">ˆ</text></g>
<text x="4.5" y="422.7" class="pl">(<tspan class="it">b</tspan>)</text>
</g>
<g id="panel-c">
<clipPath id="clipc"><rect x="139.3" y="782.4" width="885.9" height="294.1"/></clipPath>
<polygon clip-path="url(#clipc)" points="139.3,956.3 141.1,956.4 142.8,956.5 144.6,956.6 146.4,958.0 148.2,960.6 149.9,963.1 151.7,962.7 153.5,960.2 155.3,957.6 157.0,957.3 158.8,958.3 160.6,959.4 162.3,959.3 164.1,958.8 165.9,958.2 167.7,959.3 169.4,961.1 171.2,962.9 173.0,962.7 174.7,961.8 176.5,960.9 178.3,961.5 180.1,962.4 181.8,963.2 183.6,959.1 185.4,954.2 187.2,949.2 188.9,947.7 190.7,946.4 192.5,951.0 194.2,960.4 196.0,966.9 197.8,961.3 199.6,955.8 201.3,953.6 203.1,953.6 204.9,953.6 206.6,954.8 208.4,958.8 210.2,962.8 212.0,966.8 213.7,968.3 215.5,969.0 217.3,969.7 219.1,965.1 220.8,959.1 222.6,953.2 224.4,952.1 226.1,951.9 227.9,953.2 229.7,956.2 231.5,959.2 233.2,956.6 235.0,949.1 236.8,941.6 238.5,934.0 240.3,939.8 242.1,945.7 243.9,947.3 245.6,946.3 247.4,948.1 249.2,957.2 251.0,966.3 252.7,969.4 254.5,959.7 256.3,950.1 258.0,947.7 259.8,945.9 261.6,945.4 263.4,944.9 265.1,947.9 266.9,951.5 268.7,955.2 270.4,953.0 272.2,950.0 274.0,947.0 275.8,950.4 277.5,954.3 279.3,955.2 281.1,953.7 282.9,951.3 284.6,945.4 286.4,939.6 288.2,948.9 289.9,961.1 291.7,960.5 293.5,946.2 295.3,931.9 297.0,927.3 298.8,931.3 300.6,935.2 302.3,942.2 304.1,951.4 305.9,947.1 307.7,939.6 309.4,937.2 311.2,940.9 313.0,944.6 314.8,944.6 316.5,941.0 318.3,937.4 320.1,933.8 321.8,944.9 323.6,956.7 325.4,958.9 327.2,954.5 328.9,950.1 330.7,946.1 332.5,948.4 334.2,947.2 336.0,945.5 337.8,946.3 339.6,949.6 341.3,951.5 343.1,952.5 344.9,953.5 346.7,955.3 348.4,957.5 350.2,956.3 352.0,947.5 353.7,948.7 355.5,958.5 357.3,963.2 359.1,944.9 360.8,943.9 362.6,952.4 364.4,960.6 366.1,964.0 367.9,967.3 369.7,967.6 371.5,966.4 373.2,965.2 375.0,962.8 376.8,960.2 378.6,957.5 380.3,955.5 382.1,953.9 383.9,963.8 385.6,971.7 387.4,973.4 389.2,975.1 391.0,965.6 392.7,966.1 394.5,971.5 396.3,971.2 398.0,960.2 399.8,949.1 401.6,950.8 403.4,952.7 405.1,955.3 406.9,958.4 408.7,961.4 410.5,960.9 412.2,958.6 414.0,956.4 415.8,954.4 417.5,952.6 419.3,952.2 421.1,954.2 422.9,956.2 424.6,952.2 426.4,948.0 428.2,948.4 429.9,951.5 431.7,954.5 433.5,958.6 435.3,962.7 437.0,964.1 438.8,960.1 440.6,956.0 442.4,955.3 444.1,954.8 445.9,954.3 447.7,953.7 449.4,953.2 451.2,952.9 453.0,952.8 454.8,952.7 456.5,952.0 458.3,950.9 460.1,949.9 461.8,955.2 463.6,960.5 465.4,961.5 467.2,962.3 468.9,963.3 470.7,966.9 472.5,970.6 474.3,973.1 476.0,960.6 477.8,953.2 479.6,957.1 481.3,961.1 483.1,963.9 484.9,966.7 486.7,969.5 488.4,961.5 490.2,953.3 492.0,950.3 493.7,950.2 495.5,952.8 497.3,962.4 499.1,972.0 500.8,965.9 502.6,958.2 504.4,950.5 506.2,946.9 507.9,943.5 509.7,952.7 511.5,964.3 513.2,967.0 515.0,967.8 516.8,968.8 518.6,969.8 520.3,970.2 522.1,965.1 523.9,960.0 525.6,957.8 527.4,956.7 529.2,955.6 531.0,956.2 532.7,963.6 534.5,969.0 536.3,971.6 538.1,974.2 539.8,975.2 541.6,974.5 543.4,973.8 545.1,964.0 546.9,948.7 548.7,937.2 550.5,933.8 552.2,930.4 554.0,940.3 555.8,954.1 557.5,967.9 559.3,961.4 561.1,954.2 562.9,950.6 564.6,952.1 566.4,953.7 568.2,953.9 570.0,953.8 571.7,953.8 573.5,954.7 575.3,956.1 577.0,961.3 578.8,967.8 580.6,971.1 582.4,962.6 584.1,954.2 585.9,951.9 587.7,952.8 589.4,953.8 591.2,954.2 593.0,954.0 594.8,953.8 596.5,954.5 598.3,955.2 600.1,947.4 601.9,925.2 603.6,898.2 605.4,874.8 607.2,876.2 608.9,877.7 610.7,877.3 612.5,875.9 614.3,874.8 616.0,876.8 617.8,878.7 619.6,880.6 621.4,871.5 623.1,861.1 624.9,854.9 626.7,856.7 628.4,858.5 630.2,861.1 632.0,867.8 633.8,874.4 635.5,876.8 637.3,876.3 639.1,875.8 640.8,884.6 642.6,895.8 644.4,924.5 646.2,952.7 647.9,960.5 649.7,955.6 651.5,950.0 653.3,944.5 655.0,939.0 656.8,933.5 658.6,927.9 660.3,938.4 662.1,948.1 663.9,948.2 665.7,948.4 667.4,947.5 669.2,938.3 671.0,929.2 672.7,928.9 674.5,935.4 676.3,941.9 678.1,935.7 679.8,930.0 681.6,927.7 683.4,925.5 685.2,923.7 686.9,924.4 688.7,925.0 690.5,930.8 692.2,945.8 694.0,952.5 695.8,948.9 697.6,945.3 699.3,947.0 701.1,949.4 702.9,951.7 704.6,953.9 706.4,956.0 708.2,958.1 710.0,959.1 711.7,959.1 713.5,953.6 715.3,944.3 717.1,947.6 718.8,956.6 720.6,963.9 722.4,961.0 724.1,958.1 725.9,951.3 727.7,941.7 729.5,933.0 731.2,945.7 733.0,958.4 734.8,965.6 736.5,966.9 738.3,968.2 740.1,969.3 741.9,969.9 743.6,970.6 745.4,964.0 747.2,955.1 749.0,947.9 750.7,946.2 752.5,944.6 754.3,947.5 756.0,956.9 757.8,966.3 759.6,968.5 761.4,963.0 763.1,957.5 764.9,957.4 766.7,957.7 768.4,958.0 770.2,957.6 772.0,956.9 773.8,956.4 775.5,956.2 777.3,956.0 779.1,959.2 780.9,964.4 782.6,968.8 784.4,965.8 786.2,962.9 787.9,954.5 789.7,941.5 791.5,948.0 793.3,954.5 795.0,960.6 796.8,961.9 798.6,963.3 800.3,960.9 802.1,955.0 803.9,949.1 805.7,954.4 807.4,956.9 809.2,958.0 811.0,959.1 812.8,957.3 814.5,952.6 816.3,947.9 818.1,947.4 819.8,956.1 821.6,963.4 823.4,968.8 825.2,962.3 826.9,943.6 828.7,949.9 830.5,957.3 832.2,956.0 834.0,954.6 835.8,962.7 837.6,973.8 839.3,977.9 841.1,973.4 842.9,964.6 844.7,945.2 846.4,933.6 848.2,934.7 850.0,941.7 851.7,955.5 853.5,969.2 855.3,967.6 857.1,964.6 858.8,961.5 860.6,963.1 862.4,966.5 864.1,967.9 865.9,960.1 867.7,952.2 869.5,952.1 871.2,956.5 873.0,959.7 874.8,960.2 876.6,960.7 878.3,961.2 880.1,958.7 881.9,955.7 883.6,952.8 885.4,950.8 887.2,949.2 889.0,948.4 890.7,952.7 892.5,956.9 894.3,956.3 896.0,952.3 897.8,951.1 899.6,951.3 901.4,952.9 903.1,964.9 904.9,976.9 906.7,980.0 908.5,976.8 910.2,973.6 912.0,973.2 913.8,972.8 915.5,972.4 917.3,959.6 919.1,952.3 920.9,963.0 922.6,973.5 924.4,968.1 926.2,962.7 927.9,960.0 929.7,960.4 931.5,960.9 933.3,962.1 935.0,963.5 936.8,965.3 938.6,968.1 940.4,970.9 942.1,972.8 943.9,974.4 945.7,969.7 947.4,964.3 949.2,958.9 951.0,954.3 952.8,954.9 954.5,955.5 956.3,957.5 958.1,960.4 959.8,963.3 961.6,963.4 963.4,959.5 965.2,955.6 966.9,955.5 968.7,956.1 970.5,961.1 972.3,964.2 974.0,962.2 975.8,959.7 977.6,953.0 979.3,952.1 981.1,957.9 982.9,963.8 984.7,958.9 986.4,950.2 988.2,953.9 990.0,957.5 991.7,961.3 993.5,965.1 995.3,943.7 997.1,915.2 998.8,887.7 1000.6,883.9 1002.4,899.6 1004.2,886.2 1005.9,866.3 1007.7,863.0 1009.5,861.7 1011.2,863.6 1013.0,867.8 1014.8,904.9 1016.6,937.4 1018.3,959.7 1020.1,955.9 1021.9,948.7 1023.6,933.1 1023.6,968.8 1021.9,978.5 1020.1,984.3 1018.3,987.0 1016.6,965.7 1014.8,934.4 1013.0,898.0 1011.2,893.3 1009.5,892.3 1007.7,896.8 1005.9,901.9 1004.2,911.4 1002.4,917.3 1000.6,907.1 998.8,913.2 997.1,945.9 995.3,979.3 993.5,999.7 991.7,998.0 990.0,994.7 988.2,989.1 986.4,983.4 984.7,992.9 982.9,998.8 981.1,993.8 979.3,988.8 977.6,990.9 975.8,999.3 974.0,999.4 972.3,998.5 970.5,996.1 968.7,993.1 966.9,990.1 965.2,988.0 963.4,991.2 961.6,994.4 959.8,994.5 958.1,992.5 956.3,990.4 954.5,988.9 952.8,988.1 951.0,987.4 949.2,992.9 947.4,999.5 945.7,1006.2 943.9,1011.5 942.1,1006.1 940.4,1001.8 938.6,1002.4 936.8,1003.0 935.0,998.9 933.3,992.3 931.5,986.5 929.7,989.6 927.9,992.7 926.2,995.5 924.4,998.1 922.6,1000.7 920.9,992.3 919.1,983.8 917.3,990.1 915.5,1000.8 913.8,1000.8 912.0,1000.7 910.2,1000.7 908.5,1000.1 906.7,999.5 904.9,997.8 903.1,994.7 901.4,991.6 899.6,986.7 897.8,981.6 896.0,980.6 894.3,988.4 892.5,990.4 890.7,984.0 889.0,977.6 887.2,979.9 885.4,983.7 883.6,987.2 881.9,990.3 880.1,993.3 878.3,995.9 876.6,994.8 874.8,993.6 873.0,992.5 871.2,988.2 869.5,982.3 867.7,980.9 865.9,986.8 864.1,992.7 862.4,993.5 860.6,993.4 858.8,993.8 857.1,995.7 855.3,997.6 853.5,998.3 851.7,986.3 850.0,974.4 848.2,968.2 846.4,967.0 844.7,975.1 842.9,988.8 841.1,996.3 839.3,1001.2 837.6,1000.7 835.8,995.6 834.0,992.0 832.2,992.8 830.5,993.7 828.7,985.8 826.9,978.1 825.2,990.1 823.4,993.6 821.6,988.9 819.8,983.4 818.1,977.3 816.3,979.7 814.5,985.9 812.8,992.2 811.0,995.1 809.2,994.4 807.4,993.7 805.7,990.6 803.9,982.4 802.1,983.2 800.3,983.9 798.6,985.6 796.8,988.3 795.0,991.0 793.3,985.8 791.5,979.9 789.7,974.1 787.9,986.7 786.2,994.0 784.4,995.1 782.6,996.1 780.9,994.4 779.1,992.4 777.3,991.1 775.5,991.0 773.8,990.8 772.0,993.4 770.2,996.8 768.4,998.7 766.7,996.5 764.9,994.3 763.1,992.4 761.4,993.5 759.6,994.6 757.8,992.0 756.0,986.0 754.3,980.0 752.5,978.2 750.7,979.4 749.0,980.5 747.2,989.5 745.4,1000.6 743.6,1008.8 741.9,1007.3 740.1,1005.7 738.3,1005.1 736.5,1005.0 734.8,1004.8 733.0,996.5 731.2,980.4 729.5,964.3 727.7,972.1 725.9,980.7 724.1,987.1 722.4,990.4 720.6,993.7 718.8,987.3 717.1,979.4 715.3,977.8 713.5,989.8 711.7,997.1 710.0,997.1 708.2,996.5 706.4,995.4 704.6,994.3 702.9,992.5 701.1,988.8 699.3,985.2 697.6,981.8 695.8,980.9 694.0,979.9 692.2,971.3 690.5,956.8 688.7,952.1 686.9,952.7 685.2,953.3 683.4,953.5 681.6,953.6 679.8,953.7 678.1,960.9 676.3,969.0 674.5,963.3 672.7,957.4 671.0,958.3 669.2,967.8 667.4,977.3 665.7,978.4 663.9,978.6 662.1,978.7 660.3,970.8 658.6,961.8 656.8,964.6 655.0,967.3 653.3,970.0 651.5,974.6 649.7,980.6 647.9,985.9 646.2,979.5 644.4,949.8 642.6,919.6 640.8,909.8 639.1,902.1 637.3,903.3 635.5,904.4 633.8,903.2 632.0,898.3 630.2,893.4 628.4,890.6 626.7,888.2 624.9,885.8 623.1,890.1 621.4,897.8 619.6,904.6 617.8,902.9 616.0,901.3 614.3,899.7 612.5,900.3 610.7,901.2 608.9,900.9 607.2,898.8 605.4,896.7 603.6,925.6 601.9,957.9 600.1,980.7 598.3,987.7 596.5,985.3 594.8,983.3 593.0,984.9 591.2,986.5 589.4,985.1 587.7,981.1 585.9,977.0 584.1,977.6 582.4,987.3 580.6,997.0 578.8,996.5 577.0,993.3 575.3,990.9 573.5,991.7 571.7,991.2 570.0,988.0 568.2,984.7 566.4,982.3 564.6,985.2 562.9,988.1 561.1,990.5 559.3,992.6 557.5,994.3 555.8,985.2 554.0,976.0 552.2,969.3 550.5,970.7 548.7,972.2 546.9,980.9 545.1,993.1 543.4,1002.3 541.6,1006.7 539.8,1011.1 538.1,1011.0 536.3,1006.9 534.5,1002.7 532.7,996.4 531.0,988.5 529.2,987.4 527.4,988.1 525.6,988.7 523.9,991.2 522.1,998.9 520.3,1006.7 518.6,1008.0 516.8,1008.6 515.0,1008.1 513.2,1006.8 511.5,1002.5 509.7,984.4 507.9,970.3 506.2,976.3 504.4,982.3 502.6,989.9 500.8,997.4 499.1,1003.4 497.3,994.0 495.5,984.5 493.7,981.6 492.0,981.1 490.2,985.0 488.4,996.4 486.7,1007.6 484.9,1002.9 483.1,998.3 481.3,993.6 479.6,987.3 477.8,981.1 476.0,989.0 474.3,1003.1 472.5,1002.3 470.7,1000.3 468.9,998.4 467.2,999.1 465.4,1000.0 463.6,1000.6 461.8,993.0 460.1,985.4 458.3,983.2 456.5,981.0 454.8,980.0 453.0,981.6 451.2,983.3 449.4,984.8 447.7,986.1 445.9,987.3 444.1,987.8 442.4,987.3 440.6,987.0 438.8,993.6 437.0,1000.2 435.3,1000.4 433.5,997.5 431.7,994.6 429.9,989.3 428.2,983.9 426.4,982.0 424.6,986.3 422.9,990.6 421.1,988.2 419.3,985.8 417.5,986.9 415.8,989.9 414.0,992.7 412.2,994.7 410.5,996.7 408.7,997.8 406.9,997.3 405.1,996.8 403.4,993.7 401.6,986.3 399.8,979.3 398.0,990.8 396.3,1002.4 394.5,1004.3 392.7,1001.3 391.0,1001.1 389.2,1007.2 387.4,1008.0 385.6,1008.8 383.9,998.6 382.1,984.9 380.3,988.8 378.6,991.8 376.8,990.5 375.0,989.2 373.2,988.5 371.5,989.4 369.7,990.3 367.9,990.4 366.1,988.4 364.4,986.5 362.6,980.3 360.8,973.9 359.1,977.5 357.3,999.4 355.5,995.7 353.7,986.5 352.0,985.5 350.2,994.4 348.4,993.5 346.7,988.3 344.9,984.0 343.1,983.3 341.3,983.4 339.6,982.0 337.8,978.0 336.0,977.1 334.2,979.4 332.5,981.0 330.7,978.0 328.9,981.5 327.2,985.4 325.4,989.3 323.6,988.1 321.8,979.5 320.1,971.3 318.3,971.9 316.5,972.4 314.8,972.9 313.0,973.6 311.2,974.5 309.4,975.3 307.7,977.5 305.9,980.7 304.1,980.8 302.3,968.1 300.6,960.0 298.8,958.3 297.0,956.6 295.3,961.8 293.5,974.8 291.7,987.8 289.9,989.9 288.2,981.6 286.4,975.1 284.6,978.1 282.9,981.2 281.1,982.7 279.3,983.8 277.5,983.3 275.8,980.6 274.0,978.4 272.2,982.1 270.4,985.8 268.7,989.0 266.9,988.0 265.1,987.1 263.4,985.7 261.6,982.1 259.8,978.5 258.0,982.4 256.3,988.0 254.5,993.4 252.7,998.8 251.0,996.3 249.2,990.2 247.4,984.1 245.6,982.3 243.9,982.3 242.1,980.0 240.3,973.9 238.5,967.9 236.8,974.8 235.0,981.8 233.2,988.7 231.5,992.0 229.7,991.1 227.9,990.3 226.1,988.6 224.4,986.1 222.6,984.9 220.8,990.3 219.1,995.7 217.3,999.8 215.5,999.1 213.7,998.4 212.0,997.6 210.2,996.6 208.4,995.6 206.6,994.5 204.9,994.5 203.1,994.8 201.3,995.2 199.6,996.7 197.8,1000.0 196.0,1003.3 194.2,998.7 192.5,992.1 190.7,989.3 188.9,991.1 187.2,992.9 185.4,994.0 183.6,995.1 181.8,996.0 180.1,995.8 178.3,995.6 176.5,995.5 174.7,995.7 173.0,995.9 171.2,996.3 169.4,997.8 167.7,999.2 165.9,1000.5 164.1,1001.4 162.3,1002.2 160.6,1001.9 158.8,999.0 157.0,996.1 155.3,995.5 153.5,998.6 151.7,1001.7 149.9,1002.2 148.2,999.1 146.4,996.0 144.6,993.8 142.8,992.6 141.1,991.5 139.3,990.6" fill="#000"/>
<polyline clip-path="url(#clipc)" points="139.30,1014.5 139.52,930.5 139.74,981.9 139.96,962.0 140.19,964.4 140.41,969.3 140.63,932.4 140.85,969.1 141.07,953.4 141.29,1016.3 141.52,978.8 141.74,960.3 141.96,968.4 142.18,960.3 142.40,952.1 142.62,966.2 142.84,984.8 143.07,954.3 143.29,977.5 143.51,970.0 143.73,975.4 143.95,948.9 144.17,986.9 144.40,964.1 144.62,971.2 144.84,987.1 145.06,1017.9 145.28,969.5 145.50,928.4 145.72,998.1 145.95,975.6 146.17,1009.2 146.39,996.7 146.61,990.3 146.83,979.7 147.05,1022.6 147.28,930.6 147.50,1001.7 147.72,957.5 147.94,941.8 148.16,986.1 148.38,996.1 148.60,970.4 148.83,956.4 149.05,981.8 149.27,980.4 149.49,1014.1 149.71,999.4 149.93,987.1 150.15,1008.6 150.38,1031.6 150.60,934.7 150.82,997.1 151.04,996.7 151.26,978.0 151.48,964.6 151.71,1011.8 151.93,933.2 152.15,997.3 152.37,1033.0 152.59,943.5 152.81,965.6 153.03,958.3 153.26,996.9 153.48,933.5 153.70,958.4 153.92,994.7 154.14,1004.3 154.36,930.3 154.59,966.5 154.81,984.6 155.03,963.3 155.25,1012.0 155.47,949.8 155.69,983.7 155.91,928.4 156.14,1007.0 156.36,975.5 156.58,967.8 156.80,956.6 157.02,1015.1 157.24,994.2 157.47,1022.6 157.69,1003.8 157.91,985.8 158.13,962.9 158.35,959.3 158.57,962.2 158.79,1011.4 159.02,1018.1 159.24,964.7 159.46,971.6 159.68,985.1 159.90,994.0 160.12,949.3 160.35,937.4 160.57,980.5 160.79,1011.3 161.01,927.4 161.23,927.4 161.45,973.1 161.67,988.5 161.90,974.8 162.12,1001.5 162.34,960.8 162.56,982.8 162.78,1035.1 163.00,994.2 163.23,1033.9 163.45,1033.7 163.67,1017.8 163.89,1017.7 164.11,949.8 164.33,971.5 164.55,964.7 164.78,926.7 165.00,926.6 165.22,1008.9 165.44,1006.1 165.66,947.0 165.88,955.0 166.11,959.4 166.33,926.3 166.55,995.0 166.77,1029.2 166.99,974.5 167.21,997.6 167.43,983.0 167.66,1020.6 167.88,1032.0 168.10,1010.8 168.32,954.9 168.54,975.1 168.76,961.3 168.99,1012.6 169.21,993.8 169.43,972.9 169.65,969.9 169.87,989.7 170.09,964.9 170.31,960.4 170.54,989.4 170.76,1022.4 170.98,974.7 171.20,968.7 171.42,957.0 171.64,938.9 171.86,989.7 172.09,996.0 172.31,979.7 172.53,985.9 172.75,1013.1 172.97,982.0 173.19,1020.5 173.42,970.2 173.64,981.3 173.86,988.5 174.08,969.5 174.30,962.7 174.52,972.2 174.74,995.7 174.97,970.6 175.19,975.5 175.41,994.9 175.63,991.5 175.85,1012.6 176.07,936.1 176.30,995.7 176.52,968.4 176.74,934.7 176.96,995.2 177.18,988.9 177.40,999.4 177.62,981.5 177.85,1010.9 178.07,972.8 178.29,935.9 178.51,1021.5 178.73,967.7 178.95,1021.1 179.18,999.1 179.40,1019.5 179.62,978.4 179.84,971.5 180.06,1009.0 180.28,993.5 180.50,967.7 180.73,986.7 180.95,979.0 181.17,1010.7 181.39,966.7 181.61,999.7 181.83,967.2 182.06,938.9 182.28,965.5 182.50,955.5 182.72,960.6 182.94,999.1 183.16,989.2 183.38,990.5 183.61,1020.5 183.83,982.5 184.05,952.3 184.27,969.9 184.49,939.8 184.71,992.3 184.94,926.3 185.16,989.5 185.38,925.3 185.60,1000.3 185.82,971.7 186.04,953.0 186.26,981.3 186.49,958.3 186.71,967.3 186.93,1020.3 187.15,967.6 187.37,915.9 187.59,949.1 187.82,965.5 188.04,915.5 188.26,965.9 188.48,939.1 188.70,998.2 188.92,1025.7 189.14,919.5 189.37,972.7 189.59,965.6 189.81,942.0 190.03,981.9 190.25,956.5 190.47,923.4 190.70,961.1 190.92,963.9 191.14,973.3 191.36,936.3 191.58,913.8 191.80,986.8 192.02,941.4 192.25,954.5 192.47,969.6 192.69,959.0 192.91,1014.9 193.13,1020.5 193.35,952.0 193.57,957.5 193.80,976.2 194.02,1026.8 194.24,975.5 194.46,983.4 194.68,992.9 194.90,981.6 195.13,1029.6 195.35,973.1 195.57,941.0 195.79,989.1 196.01,1030.6 196.23,959.2 196.45,1022.4 196.68,980.8 196.90,983.6 197.12,961.6 197.34,1030.9 197.56,972.0 197.78,1003.1 198.01,931.4 198.23,1007.4 198.45,995.6 198.67,979.1 198.89,961.8 199.11,991.4 199.33,974.4 199.56,993.7 199.78,1006.8 200.00,980.9 200.22,906.5 200.44,992.1 200.66,1021.1 200.89,969.2 201.11,972.1 201.33,971.0 201.55,1004.2 201.77,1026.8 201.99,983.2 202.21,1003.3 202.44,954.5 202.66,1010.4 202.88,962.3 203.10,922.7 203.32,979.1 203.54,937.1 203.77,960.5 203.99,1018.2 204.21,952.6 204.43,1018.5 204.65,972.1 204.87,997.9 205.09,975.1 205.32,923.1 205.54,960.3 205.76,978.5 205.98,946.5 206.20,923.2 206.42,983.0 206.65,959.5 206.87,935.8 207.09,959.6 207.31,995.1 207.53,965.3 207.75,1024.7 207.97,952.3 208.20,977.6 208.42,952.8 208.64,949.7 208.86,977.2 209.08,996.6 209.30,984.0 209.53,964.1 209.75,1022.3 209.97,985.4 210.19,937.4 210.41,973.6 210.63,955.2 210.85,950.4 211.08,971.8 211.30,960.4 211.52,963.8 211.74,994.2 211.96,956.4 212.18,1020.6 212.41,945.2 212.63,971.7 212.85,996.8 213.07,989.4 213.29,976.0 213.51,1002.8 213.73,1003.9 213.96,1020.5 214.18,997.6 214.40,972.7 214.62,1010.0 214.84,972.3 215.06,963.0 215.28,1011.4 215.51,965.0 215.73,987.8 215.95,1009.9 216.17,986.4 216.39,983.0 216.61,986.3 216.84,999.4 217.06,970.4 217.28,995.6 217.50,995.1 217.72,1045.6 217.94,978.0 218.16,966.9 218.39,995.6 218.61,1012.3 218.83,986.3 219.05,982.8 219.27,1022.6 219.49,967.1 219.72,976.6 219.94,955.4 220.16,960.7 220.38,1004.1 220.60,963.0 220.82,961.9 221.04,951.7 221.27,984.0 221.49,975.9 221.71,950.0 221.93,989.9 222.15,975.3 222.37,983.8 222.60,957.1 222.82,928.4 223.04,976.0 223.26,966.2 223.48,958.6 223.70,963.9 223.92,985.7 224.15,963.7 224.37,1007.9 224.59,926.7 224.81,996.9 225.03,986.3 225.25,968.4 225.48,929.8 225.70,976.3 225.92,987.0 226.14,973.7 226.36,982.5 226.58,960.1 226.80,962.2 227.03,923.2 227.25,1001.3 227.47,974.8 227.69,960.7 227.91,942.8 228.13,968.7 228.36,1003.2 228.58,1018.4 228.80,957.4 229.02,1003.0 229.24,1003.0 229.46,993.7 229.68,989.9 229.91,997.5 230.13,985.2 230.35,990.0 230.57,959.2 230.79,1004.5 231.01,979.7 231.24,1014.7 231.46,936.3 231.68,989.4 231.90,994.7 232.12,997.4 232.34,936.8 232.56,989.4 232.79,985.3 233.01,1038.3 233.23,970.0 233.45,991.0 233.67,995.1 233.89,1016.3 234.12,970.5 234.34,972.0 234.56,987.1 234.78,946.1 235.00,939.9 235.22,966.9 235.44,942.3 235.67,921.6 235.89,963.5 236.11,970.3 236.33,998.0 236.55,974.8 236.77,923.5 236.99,968.0 237.22,925.4 237.44,930.4 237.66,967.3 237.88,945.6 238.10,983.6 238.32,994.1 238.55,908.6 238.77,950.6 238.99,910.0 239.21,927.2 239.43,939.6 239.65,945.2 239.87,944.9 240.10,993.3 240.32,976.7 240.54,983.4 240.76,957.7 240.98,956.0 241.20,977.0 241.43,952.7 241.65,978.0 241.87,976.7 242.09,984.2 242.31,961.9 242.53,961.9 242.75,922.2 242.98,1008.0 243.20,970.0 243.42,965.2 243.64,921.3 243.86,967.2 244.08,965.4 244.31,1007.9 244.53,980.9 244.75,931.9 244.97,928.1 245.19,967.3 245.41,1006.0 245.63,991.2 245.86,986.7 246.08,934.6 246.30,934.0 246.52,977.0 246.74,959.0 246.96,918.0 247.19,989.1 247.41,963.8 247.63,964.0 247.85,985.1 248.07,976.8 248.29,1005.8 248.51,1010.0 248.74,985.2 248.96,993.9 249.18,999.4 249.40,988.2 249.62,935.2 249.84,992.7 250.07,986.8 250.29,999.3 250.51,981.1 250.73,989.8 250.95,987.1 251.17,1011.6 251.39,969.9 251.62,1020.3 251.84,990.3 252.06,951.4 252.28,998.4 252.50,968.5 252.72,988.8 252.95,1016.9 253.17,974.9 253.39,962.8 253.61,976.6 253.83,1021.5 254.05,955.8 254.27,1018.9 254.50,975.8 254.72,986.6 254.94,973.7 255.16,963.4 255.38,954.5 255.60,954.8 255.82,1002.1 256.05,923.2 256.27,921.1 256.49,978.2 256.71,947.2 256.93,960.7 257.15,986.4 257.38,972.7 257.60,994.4 257.82,924.9 258.04,1016.3 258.26,998.6 258.48,958.8 258.70,971.4 258.93,968.3 259.15,977.6 259.37,922.2 259.59,992.4 259.81,953.2 260.03,987.0 260.26,964.2 260.48,955.0 260.70,960.1 260.92,946.9 261.14,1001.7 261.36,955.6 261.58,953.4 261.81,926.5 262.03,992.9 262.25,977.3 262.47,964.0 262.69,959.4 262.91,942.6 263.14,963.4 263.36,1006.6 263.58,886.6 263.80,914.2 264.02,1017.1 264.24,941.6 264.46,980.4 264.69,955.8 264.91,962.1 265.13,981.5 265.35,1017.3 265.57,972.9 265.79,986.1 266.02,988.1 266.24,977.6 266.46,956.1 266.68,980.6 266.90,960.6 267.12,1015.3 267.34,1015.1 267.57,955.2 267.79,927.0 268.01,985.1 268.23,979.1 268.45,992.9 268.67,993.5 268.90,930.5 269.12,956.4 269.34,996.3 269.56,949.8 269.78,991.9 270.00,965.8 270.22,984.7 270.45,1014.2 270.67,983.9 270.89,984.3 271.11,949.2 271.33,973.4 271.55,967.6 271.78,972.7 272.00,989.8 272.22,989.4 272.44,952.2 272.66,979.9 272.88,965.8 273.10,978.4 273.33,948.8 273.55,985.0 273.77,968.5 273.99,958.5 274.21,923.2 274.43,967.5 274.66,976.0 274.88,931.8 275.10,985.8 275.32,994.2 275.54,971.1 275.76,1001.7 275.98,1003.5 276.21,988.0 276.43,1004.0 276.65,966.9 276.87,930.8 277.09,965.4 277.31,975.4 277.53,981.7 277.76,958.5 277.98,972.4 278.20,934.7 278.42,998.3 278.64,965.1 278.86,956.5 279.09,946.4 279.31,993.2 279.53,964.0 279.75,992.3 279.97,1005.8 280.19,959.8 280.41,994.6 280.64,954.6 280.86,985.6 281.08,959.7 281.30,975.7 281.52,946.8 281.74,953.4 281.97,985.8 282.19,970.6 282.41,930.5 282.63,959.2 282.85,974.1 283.07,940.9 283.29,956.4 283.52,961.7 283.74,948.7 283.96,950.4 284.18,1003.7 284.40,959.7 284.62,957.5 284.85,993.6 285.07,980.5 285.29,984.5 285.51,959.0 285.73,948.8 285.95,928.7 286.17,950.7 286.40,913.8 286.62,911.7 286.84,1002.1 287.06,992.4 287.28,979.8 287.50,944.2 287.73,1004.8 287.95,966.6 288.17,1001.7 288.39,964.4 288.61,983.8 288.83,1008.1 289.05,987.0 289.28,1009.5 289.50,976.0 289.72,968.5 289.94,998.0 290.16,1005.4 290.38,968.9 290.61,980.5 290.83,947.3 291.05,976.1 291.27,991.7 291.49,1037.2 291.71,965.0 291.93,949.7 292.16,976.7 292.38,1014.2 292.60,977.1 292.82,969.8 293.04,942.7 293.26,991.7 293.49,959.5 293.71,958.4 293.93,969.6 294.15,918.9 294.37,952.6 294.59,949.6 294.81,956.7 295.04,972.1 295.26,955.2 295.48,912.7 295.70,937.4 295.92,928.8 296.14,902.3 296.37,943.0 296.59,968.4 296.81,978.6 297.03,905.4 297.25,942.0 297.47,913.5 297.69,978.6 297.92,908.1 298.14,937.8 298.36,978.0 298.58,941.9 298.80,945.2 299.02,926.6 299.24,912.4 299.47,926.0 299.69,950.1 299.91,948.6 300.13,931.3 300.35,960.4 300.57,927.0 300.80,959.9 301.02,947.9 301.24,919.0 301.46,956.3 301.68,981.8 301.90,948.1 302.12,945.7 302.35,947.3 302.57,950.9 302.79,970.6 303.01,978.6 303.23,967.3 303.45,960.5 303.68,949.2 303.90,979.5 304.12,1026.8 304.34,967.6 304.56,930.5 304.78,947.3 305.00,965.5 305.23,936.1 305.45,955.5 305.67,935.5 305.89,943.7 306.11,1005.8 306.33,965.2 306.56,961.9 306.78,967.2 307.00,974.6 307.22,958.8 307.44,953.9 307.66,1005.8 307.88,917.3 308.11,995.1 308.33,1005.8 308.55,905.4 308.77,935.2 308.99,994.0 309.21,946.3 309.44,942.4 309.66,929.7 309.88,1002.9 310.10,951.5 310.32,1032.0 310.54,913.0 310.76,936.3 310.99,945.4 311.21,953.3 311.43,924.6 311.65,960.5 311.87,951.8 312.09,964.3 312.32,969.4 312.54,935.9 312.76,929.4 312.98,981.0 313.20,963.1 313.42,934.2 313.64,962.9 313.87,926.3 314.09,953.0 314.31,962.7 314.53,950.8 314.75,962.0 314.97,961.2 315.20,957.4 315.42,993.3 315.64,920.4 315.86,943.5 316.08,926.3 316.30,961.6 316.52,969.9 316.75,961.4 316.97,949.2 317.19,957.3 317.41,978.3 317.63,941.2 317.85,973.4 318.08,969.1 318.30,959.9 318.52,984.1 318.74,939.3 318.96,973.6 319.18,945.7 319.40,937.0 319.63,930.2 319.85,924.0 320.07,905.4 320.29,954.5 320.51,929.9 320.73,962.6 320.95,996.2 321.18,963.2 321.40,935.8 321.62,972.5 321.84,999.6 322.06,948.9 322.28,933.6 322.51,995.3 322.73,964.9 322.95,948.8 323.17,997.2 323.39,940.8 323.61,969.3 323.83,954.2 324.06,1001.7 324.28,1047.7 324.50,946.7 324.72,948.8 324.94,965.0 325.16,940.3 325.39,972.1 325.61,972.8 325.83,1014.2 326.05,962.7 326.27,981.0 326.49,997.1 326.71,998.0 326.94,971.1 327.16,985.5 327.38,956.0 327.60,976.4 327.82,950.9 328.04,981.2 328.27,944.7 328.49,949.1 328.71,966.2 328.93,976.1 329.15,938.8 329.37,954.9 329.59,966.8 329.82,968.0 330.04,947.6 330.26,964.5 330.48,957.2 330.70,922.2 330.92,972.8 331.15,937.8 331.37,922.9 331.59,965.3 331.81,986.1 332.03,967.3 332.25,1001.7 332.47,955.4 332.70,1035.1 332.92,979.1 333.14,964.9 333.36,977.3 333.58,937.8 333.80,967.2 334.03,951.7 334.25,1005.8 334.47,952.1 334.69,951.4 334.91,951.6 335.13,978.9 335.35,962.6 335.58,961.8 335.80,942.5 336.02,941.9 336.24,988.2 336.46,927.2 336.68,944.9 336.91,921.1 337.13,982.6 337.35,958.5 337.57,976.3 337.79,976.3 338.01,981.1 338.23,963.9 338.46,999.6 338.68,968.0 338.90,993.7 339.12,944.4 339.34,983.6 339.56,942.3 339.78,938.1 340.01,976.7 340.23,926.3 340.45,976.3 340.67,947.5 340.89,998.4 341.11,968.2 341.34,946.9 341.56,971.5 341.78,1007.9 342.00,954.1 342.22,978.0 342.44,1006.1 342.66,984.5 342.89,968.5 343.11,958.5 343.33,929.6 343.55,960.9 343.77,930.1 343.99,957.2 344.22,930.5 344.44,1006.2 344.66,972.1 344.88,952.1 345.10,949.0 345.32,979.2 345.54,930.5 345.77,1005.8 345.99,969.8 346.21,973.7 346.43,974.4 346.65,975.2 346.87,999.0 347.10,1007.9 347.32,941.4 347.54,1008.9 347.76,932.1 347.98,1001.8 348.20,961.1 348.42,983.9 348.65,982.1 348.87,980.5 349.09,997.1 349.31,993.0 349.53,957.1 349.75,930.5 349.98,994.4 350.20,992.4 350.42,968.4 350.64,968.5 350.86,970.3 351.08,947.9 351.30,1025.7 351.53,1005.5 351.75,960.4 351.97,970.3 352.19,950.3 352.41,995.0 352.63,1004.1 352.86,914.8 353.08,977.2 353.30,950.1 353.52,919.1 353.74,989.8 353.96,951.8 354.18,999.2 354.41,1010.0 354.63,983.1 354.85,983.0 355.07,961.7 355.29,965.7 355.51,992.3 355.74,978.8 355.96,1007.8 356.18,1026.5 356.40,978.9 356.62,972.5 356.84,970.7 357.06,938.9 357.29,1011.0 357.51,985.4 357.73,995.7 357.95,944.5 358.17,956.8 358.39,960.7 358.62,1030.9 358.84,974.5 359.06,923.3 359.28,998.9 359.50,941.2 359.72,914.8 359.94,971.4 360.17,969.9 360.39,962.4 360.61,920.1 360.83,940.7 361.05,974.1 361.27,993.3 361.49,944.4 361.72,982.7 361.94,962.8 362.16,973.8 362.38,951.3 362.60,964.8 362.82,966.3 363.05,950.8 363.27,965.3 363.49,974.6 363.71,980.1 363.93,992.0 364.15,973.7 364.37,941.0 364.60,980.3 364.82,965.1 365.04,961.8 365.26,992.1 365.48,1006.4 365.70,977.6 365.93,1005.8 366.15,960.6 366.37,986.0 366.59,987.3 366.81,976.1 367.03,983.3 367.25,967.6 367.48,949.0 367.70,974.9 367.92,966.8 368.14,991.1 368.36,951.4 368.58,1005.7 368.81,980.4 369.03,997.6 369.25,994.6 369.47,984.3 369.69,985.0 369.91,975.3 370.13,1007.9 370.36,986.7 370.58,977.0 370.80,982.6 371.02,949.4 371.24,955.7 371.46,968.0 371.69,972.0 371.91,995.9 372.13,993.8 372.35,964.0 372.57,956.2 372.79,988.2 373.01,983.5 373.24,958.3 373.46,991.4 373.68,947.3 373.90,995.3 374.12,981.5 374.34,989.5 374.57,981.2 374.79,961.9 375.01,972.7 375.23,1005.8 375.45,989.4 375.67,959.7 375.89,950.4 376.12,987.4 376.34,995.5 376.56,980.1 376.78,995.0 377.00,948.2 377.22,962.6 377.45,965.0 377.67,974.8 377.89,933.9 378.11,974.8 378.33,980.4 378.55,955.7 378.77,977.2 379.00,930.5 379.22,975.2 379.44,995.3 379.66,964.1 379.88,981.3 380.10,980.3 380.33,965.1 380.55,1018.4 380.77,1012.3 380.99,958.0 381.21,984.2 381.43,956.9 381.65,970.3 381.88,989.2 382.10,930.5 382.32,973.1 382.54,989.8 382.76,988.4 382.98,945.8 383.20,951.3 383.43,999.9 383.65,1007.9 383.87,939.0 384.09,955.0 384.31,985.0 384.53,965.1 384.76,997.6 384.98,990.7 385.20,943.1 385.42,964.9 385.64,1004.2 385.86,1030.1 386.08,987.9 386.31,1018.7 386.53,1011.6 386.75,1037.2 386.97,1014.4 387.19,967.3 387.41,1003.4 387.64,1006.6 387.86,972.2 388.08,1015.5 388.30,1010.2 388.52,1008.9 388.74,980.9 388.96,968.5 389.19,995.4 389.41,951.4 389.63,1011.6 389.85,960.0 390.07,978.1 390.29,957.7 390.52,989.0 390.74,963.4 390.96,1030.9 391.18,989.6 391.40,911.7 391.62,1011.1 391.84,1006.1 392.07,937.0 392.29,1003.0 392.51,1012.9 392.73,990.5 392.95,1020.5 393.17,1026.8 393.40,953.8 393.62,960.5 393.84,975.6 394.06,997.2 394.28,976.7 394.50,1025.3 394.72,979.9 394.95,981.3 395.17,1010.9 395.39,979.2 395.61,951.4 395.83,965.2 396.05,975.4 396.28,1015.1 396.50,993.4 396.72,994.0 396.94,973.7 397.16,1029.9 397.38,982.3 397.60,962.3 397.83,969.3 398.05,961.4 398.27,1004.5 398.49,972.2 398.71,980.8 398.93,1006.5 399.16,954.8 399.38,945.6 399.60,983.7 399.82,926.3 400.04,940.8 400.26,970.6 400.48,960.1 400.71,990.8 400.93,960.9 401.15,934.0 401.37,1001.7 401.59,952.3 401.81,972.4 402.04,960.3 402.26,973.1 402.48,970.7 402.70,959.9 402.92,977.8 403.14,961.0 403.36,936.6 403.59,946.9 403.81,1007.3 404.03,921.1 404.25,978.6 404.47,999.1 404.69,990.3 404.91,1020.6 405.14,1008.2 405.36,972.8 405.58,1028.8 405.80,1005.9 406.02,967.3 406.24,985.5 406.47,1003.9 406.69,984.2 406.91,1002.1 407.13,988.1 407.35,995.2 407.57,972.4 407.79,988.2 408.02,972.0 408.24,994.9 408.46,944.0 408.68,987.8 408.90,1007.4 409.12,993.3 409.35,935.8 409.57,992.1 409.79,962.9 410.01,962.9 410.23,972.5 410.45,961.1 410.67,1008.2 410.90,1024.7 411.12,1000.1 411.34,945.5 411.56,961.8 411.78,977.4 412.00,1002.4 412.23,964.7 412.45,932.0 412.67,986.0 412.89,976.2 413.11,953.6 413.33,954.1 413.55,961.2 413.78,977.9 414.00,989.7 414.22,943.7 414.44,928.4 414.66,973.9 414.88,966.5 415.11,988.3 415.33,977.2 415.55,1017.1 415.77,996.0 415.99,1019.4 416.21,964.4 416.43,961.9 416.66,998.6 416.88,985.3 417.10,933.7 417.32,957.2 417.54,969.0 417.76,967.4 417.99,988.9 418.21,930.4 418.43,950.9 418.65,926.3 418.87,969.5 419.09,969.3 419.31,977.7 419.54,973.9 419.76,967.0 419.98,943.7 420.20,1010.0 420.42,996.3 420.64,952.9 420.87,957.5 421.09,999.9 421.31,993.4 421.53,962.0 421.75,962.2 421.97,971.5 422.19,954.2 422.42,984.7 422.64,976.8 422.86,930.5 423.08,988.9 423.30,987.6 423.52,1009.7 423.75,982.9 423.97,991.7 424.19,961.1 424.41,1016.3 424.63,941.4 424.85,983.7 425.07,954.9 425.30,995.9 425.52,989.3 425.74,954.1 425.96,948.9 426.18,972.8 426.40,947.5 426.62,975.8 426.85,933.8 427.07,921.1 427.29,961.8 427.51,1004.5 427.73,984.2 427.95,984.0 428.18,992.0 428.40,961.0 428.62,1005.8 428.84,934.2 429.06,948.1 429.28,969.3 429.50,982.5 429.73,946.9 429.95,1017.7 430.17,988.8 430.39,995.7 430.61,955.2 430.83,975.8 431.06,1007.5 431.28,992.9 431.50,956.5 431.72,1048.7 431.94,1009.3 432.16,974.6 432.38,985.6 432.61,1025.7 432.83,976.8 433.05,975.6 433.27,1024.7 433.49,963.8 433.71,1013.1 433.94,976.6 434.16,953.3 434.38,959.6 434.60,981.1 434.82,998.4 435.04,965.3 435.26,998.0 435.49,971.9 435.71,990.8 435.93,994.8 436.15,997.0 436.37,937.8 436.59,945.0 436.82,994.1 437.04,955.2 437.26,985.5 437.48,991.9 437.70,1002.0 437.92,979.0 438.14,1029.9 438.37,1015.6 438.59,963.1 438.81,972.9 439.03,984.3 439.25,981.1 439.47,954.9 439.70,968.1 439.92,933.8 440.14,987.8 440.36,962.4 440.58,932.6 440.80,951.2 441.02,969.7 441.25,979.4 441.47,989.3 441.69,945.9 441.91,986.8 442.13,968.0 442.35,1010.0 442.58,1000.1 442.80,965.5 443.02,965.4 443.24,957.6 443.46,975.3 443.68,971.7 443.90,967.6 444.13,952.4 444.35,961.0 444.57,978.8 444.79,929.5 445.01,970.3 445.23,998.4 445.45,970.4 445.68,949.3 445.90,982.7 446.12,951.6 446.34,1013.2 446.56,990.7 446.78,964.0 447.01,957.1 447.23,995.8 447.45,974.2 447.67,974.8 447.89,984.2 448.11,967.5 448.33,929.5 448.56,976.3 448.78,929.5 449.00,956.7 449.22,951.6 449.44,948.7 449.66,978.5 449.89,969.0 450.11,929.5 450.33,972.1 450.55,947.4 450.77,955.5 450.99,949.5 451.21,953.1 451.44,974.7 451.66,1007.9 451.88,945.6 452.10,985.2 452.32,966.5 452.54,955.9 452.77,962.3 452.99,994.8 453.21,942.0 453.43,972.0 453.65,965.0 453.87,955.8 454.09,973.4 454.32,966.1 454.54,963.7 454.76,953.6 454.98,952.5 455.20,932.6 455.42,965.0 455.65,980.8 455.87,966.9 456.09,952.4 456.31,976.7 456.53,976.7 456.75,935.8 456.97,999.6 457.20,976.7 457.42,996.4 457.64,946.0 457.86,943.0 458.08,981.4 458.30,932.8 458.53,952.8 458.75,945.7 458.97,947.1 459.19,929.2 459.41,962.3 459.63,995.2 459.85,976.3 460.08,923.2 460.30,960.6 460.52,999.5 460.74,981.0 460.96,993.1 461.18,961.5 461.41,979.7 461.63,1012.1 461.85,981.6 462.07,979.3 462.29,950.2 462.51,953.0 462.73,954.0 462.96,989.5 463.18,992.5 463.40,959.5 463.62,930.5 463.84,954.6 464.06,983.7 464.29,1008.2 464.51,990.7 464.73,980.7 464.95,955.2 465.17,1030.9 465.39,975.4 465.61,1003.3 465.84,942.2 466.06,1018.2 466.28,961.0 466.50,1016.9 466.72,981.5 466.94,958.3 467.16,970.3 467.39,1014.9 467.61,960.6 467.83,997.1 468.05,941.5 468.27,1011.5 468.49,991.8 468.72,972.5 468.94,936.8 469.16,982.6 469.38,1001.4 469.60,980.7 469.82,1022.0 470.04,980.7 470.27,991.8 470.49,1024.7 470.71,986.3 470.93,984.7 471.15,987.8 471.37,1002.2 471.60,975.0 471.82,969.6 472.04,1006.8 472.26,981.0 472.48,974.3 472.70,1008.3 472.92,1001.7 473.15,948.7 473.37,981.3 473.59,1002.6 473.81,1003.7 474.03,951.4 474.25,1015.8 474.48,987.1 474.70,981.1 474.92,985.6 475.14,981.7 475.36,984.7 475.58,995.6 475.80,1026.8 476.03,998.3 476.25,962.3 476.47,968.4 476.69,937.7 476.91,970.1 477.13,984.0 477.36,931.6 477.58,962.6 477.80,965.8 478.02,971.0 478.24,963.2 478.46,1005.0 478.68,981.5 478.91,999.6 479.13,970.3 479.35,983.5 479.57,988.9 479.79,954.2 480.01,945.8 480.24,1004.1 480.46,999.5 480.68,977.1 480.90,983.2 481.12,945.9 481.34,936.8 481.56,1013.4 481.79,950.3 482.01,997.2 482.23,957.8 482.45,986.1 482.67,947.0 482.89,988.8 483.12,1018.4 483.34,1003.8 483.56,961.7 483.78,971.1 484.00,991.2 484.22,1012.9 484.44,957.6 484.67,996.4 484.89,987.6 485.11,959.0 485.33,983.5 485.55,1019.2 485.77,985.3 486.00,998.7 486.22,1006.5 486.44,972.4 486.66,941.0 486.88,1021.2 487.10,1021.7 487.32,1013.9 487.55,974.4 487.77,970.7 487.99,965.5 488.21,1036.2 488.43,963.2 488.65,998.2 488.87,1006.2 489.10,959.3 489.32,944.9 489.54,948.9 489.76,965.8 489.98,952.0 490.20,939.3 490.43,987.6 490.65,968.5 490.87,927.4 491.09,956.5 491.31,948.2 491.53,963.5 491.75,955.1 491.98,970.3 492.20,944.1 492.42,1003.7 492.64,975.3 492.86,988.7 493.08,985.3 493.31,969.6 493.53,953.5 493.75,932.4 493.97,966.0 494.19,992.3 494.41,996.9 494.63,926.4 494.86,972.6 495.08,926.3 495.30,948.2 495.52,972.3 495.74,970.7 495.96,965.4 496.19,971.7 496.41,944.0 496.63,1005.8 496.85,959.3 497.07,993.8 497.29,948.2 497.51,975.6 497.74,1020.0 497.96,980.9 498.18,998.1 498.40,972.2 498.62,993.5 498.84,1014.5 499.07,1027.0 499.29,949.4 499.51,1013.8 499.73,986.8 499.95,987.4 500.17,1013.7 500.39,994.5 500.62,1009.0 500.84,1027.8 501.06,1020.1 501.28,940.3 501.50,1000.7 501.72,1012.6 501.95,985.2 502.17,949.1 502.39,973.2 502.61,987.7 502.83,933.5 503.05,959.0 503.27,957.3 503.50,976.0 503.72,950.4 503.94,967.2 504.16,940.0 504.38,926.3 504.60,933.5 504.83,973.0 505.05,967.7 505.27,970.9 505.49,989.3 505.71,960.1 505.93,991.2 506.15,1005.8 506.38,971.1 506.60,960.1 506.82,948.0 507.04,966.1 507.26,942.1 507.48,949.8 507.71,989.2 507.93,969.2 508.15,923.2 508.37,969.7 508.59,924.6 508.81,964.8 509.03,999.6 509.26,964.0 509.48,980.5 509.70,964.9 509.92,989.1 510.14,930.5 510.36,936.0 510.58,1008.3 510.81,1009.6 511.03,970.8 511.25,981.3 511.47,997.6 511.69,1044.5 511.91,1027.4 512.14,962.5 512.36,970.0 512.58,937.0 512.80,1022.3 513.02,988.5 513.24,1025.2 513.46,1035.1 513.69,995.4 513.91,989.4 514.13,984.1 514.35,1036.8 514.57,1037.9 514.79,1020.8 515.02,1057.3 515.24,1009.6 515.46,1020.5 515.68,1002.0 515.90,937.8 516.12,1000.3 516.34,967.6 516.57,999.2 516.79,1038.5 517.01,965.8 517.23,990.9 517.45,1039.3 517.67,957.7 517.90,985.9 518.12,950.5 518.34,961.6 518.56,1016.7 518.78,969.1 519.00,978.2 519.22,1055.6 519.45,984.6 519.67,942.5 519.89,1023.7 520.11,943.1 520.33,965.0 520.55,953.3 520.78,993.4 521.00,965.1 521.22,976.7 521.44,979.8 521.66,1035.1 521.88,967.8 522.10,991.0 522.33,988.1 522.55,977.5 522.77,946.0 522.99,979.2 523.21,955.7 523.43,982.8 523.66,976.4 523.88,974.8 524.10,979.0 524.32,935.8 524.54,978.0 524.76,982.0 524.98,969.2 525.21,997.2 525.43,972.4 525.65,958.7 525.87,1012.1 526.09,982.7 526.31,986.5 526.54,943.8 526.76,959.5 526.98,984.4 527.20,991.4 527.42,948.0 527.64,964.7 527.86,987.6 528.09,951.1 528.31,963.6 528.53,961.8 528.75,947.3 528.97,972.5 529.19,977.2 529.42,965.2 529.64,973.1 529.86,992.0 530.08,974.9 530.30,988.8 530.52,930.5 530.74,997.3 530.97,957.4 531.19,1009.1 531.41,999.6 531.63,961.5 531.85,959.1 532.07,969.2 532.29,1011.1 532.52,965.8 532.74,973.6 532.96,993.8 533.18,942.0 533.40,976.3 533.62,1007.8 533.85,943.1 534.07,972.3 534.29,979.9 534.51,997.7 534.73,955.3 534.95,947.3 535.17,1012.8 535.40,1025.7 535.62,1015.3 535.84,957.7 536.06,988.9 536.28,1006.3 536.50,991.5 536.73,1034.7 536.95,983.1 537.17,966.0 537.39,964.9 537.61,1037.3 537.83,1006.6 538.05,960.7 538.28,946.7 538.50,1003.2 538.72,980.3 538.94,947.3 539.16,979.7 539.38,992.2 539.61,1041.4 539.83,971.1 540.05,952.6 540.27,967.7 540.49,1041.4 540.71,987.6 540.93,990.2 541.16,989.7 541.38,1000.5 541.60,973.5 541.82,1016.1 542.04,950.9 542.26,996.0 542.49,992.4 542.71,1010.7 542.93,999.7 543.15,991.3 543.37,985.0 543.59,969.5 543.81,968.3 544.04,953.2 544.26,1004.4 544.48,966.1 544.70,980.5 544.92,983.7 545.14,971.0 545.37,963.4 545.59,1021.0 545.81,938.1 546.03,970.3 546.25,964.3 546.47,1007.0 546.69,983.7 546.92,979.2 547.14,962.6 547.36,994.3 547.58,990.8 547.80,961.2 548.02,893.3 548.25,925.7 548.47,948.0 548.69,916.1 548.91,938.8 549.13,909.7 549.35,947.4 549.57,998.4 549.80,998.4 550.02,961.8 550.24,988.5 550.46,921.5 550.68,935.2 550.90,953.4 551.12,953.9 551.35,942.1 551.57,933.2 551.79,974.2 552.01,925.9 552.23,936.3 552.45,982.2 552.68,900.1 552.90,970.4 553.12,932.8 553.34,934.7 553.56,935.4 553.78,932.2 554.00,949.1 554.23,998.4 554.45,965.2 554.67,947.0 554.89,948.3 555.11,942.3 555.33,989.2 555.56,930.3 555.78,974.2 556.00,944.9 556.22,953.5 556.44,947.9 556.66,952.0 556.88,960.6 557.11,1012.7 557.33,962.8 557.55,948.7 557.77,989.8 557.99,989.0 558.21,990.7 558.44,944.8 558.66,1003.0 558.88,987.5 559.10,1014.3 559.32,965.4 559.54,987.7 559.76,964.4 559.99,975.3 560.21,970.1 560.43,998.6 560.65,962.9 560.87,964.7 561.09,994.9 561.32,935.7 561.54,969.7 561.76,1007.2 561.98,990.6 562.20,920.5 562.42,979.0 562.64,1013.6 562.87,977.0 563.09,951.0 563.31,942.3 563.53,971.0 563.75,1018.8 563.97,935.2 564.20,952.4 564.42,946.0 564.64,974.9 564.86,939.7 565.08,997.0 565.30,953.4 565.52,969.3 565.75,979.1 565.97,970.9 566.19,979.3 566.41,950.3 566.63,932.9 566.85,963.6 567.08,938.6 567.30,957.3 567.52,983.9 567.74,964.1 567.96,957.2 568.18,1003.0 568.40,962.7 568.63,965.0 568.85,938.6 569.07,983.2 569.29,948.0 569.51,994.5 569.73,960.2 569.96,928.3 570.18,986.8 570.40,969.8 570.62,967.6 570.84,979.2 571.06,999.6 571.28,993.4 571.51,974.2 571.73,978.0 571.95,1006.3 572.17,934.8 572.39,925.0 572.61,951.7 572.83,1002.0 573.06,965.0 573.28,969.7 573.50,948.6 573.72,972.7 573.94,1021.0 574.16,1008.2 574.39,946.0 574.61,963.5 574.83,1017.7 575.05,992.5 575.27,973.0 575.49,983.8 575.71,1033.5 575.94,1006.2 576.16,977.8 576.38,947.4 576.60,998.4 576.82,964.6 577.04,940.7 577.27,1016.5 577.49,985.8 577.71,970.8 577.93,992.7 578.15,958.4 578.37,1017.9 578.59,1000.6 578.82,1004.4 579.04,990.0 579.26,989.5 579.48,983.0 579.70,982.5 579.92,970.5 580.15,953.2 580.37,976.5 580.59,990.3 580.81,982.9 581.03,960.7 581.25,1009.7 581.47,973.9 581.70,961.3 581.92,1018.8 582.14,963.0 582.36,975.4 582.58,943.1 582.80,980.8 583.03,972.4 583.25,951.1 583.47,983.9 583.69,970.9 583.91,951.7 584.13,970.9 584.35,986.7 584.58,989.0 584.80,934.0 585.02,975.2 585.24,960.6 585.46,933.4 585.68,960.5 585.91,963.7 586.13,972.4 586.35,991.7 586.57,933.0 586.79,965.7 587.01,959.1 587.23,967.9 587.46,977.4 587.68,1002.3 587.90,987.7 588.12,967.2 588.34,970.2 588.56,983.2 588.79,979.4 589.01,934.9 589.23,971.9 589.45,955.9 589.67,958.8 589.89,972.5 590.11,986.5 590.34,929.5 590.56,987.0 590.78,1010.4 591.00,1011.1 591.22,971.5 591.44,990.9 591.67,982.4 591.89,1012.0 592.11,986.3 592.33,980.3 592.55,985.7 592.77,973.9 592.99,965.6 593.22,974.8 593.44,952.7 593.66,992.0 593.88,976.6 594.10,983.0 594.32,994.8 594.54,953.3 594.77,965.0 594.99,931.8 595.21,970.2 595.43,952.1 595.65,980.8 595.87,969.1 596.10,952.6 596.32,1004.9 596.54,1005.2 596.76,970.8 596.98,958.9 597.20,984.2 597.42,982.2 597.65,943.2 597.87,970.1 598.09,956.1 598.31,953.2 598.53,995.0 598.75,976.1 598.98,968.9 599.20,960.1 599.42,930.6 599.64,973.4 599.86,958.7 600.08,989.4 600.30,919.8 600.53,939.6 600.75,951.5 600.97,1014.3 601.19,949.5 601.41,935.3 601.63,956.4 601.86,950.4 602.08,964.7 602.30,894.5 602.52,956.6 602.74,938.6 602.96,956.9 603.18,929.4 603.41,906.9 603.63,890.1 603.85,975.8 604.07,907.7 604.29,868.7 604.51,898.8 604.74,891.6 604.96,897.7 605.18,858.3 605.40,876.7 605.62,886.7 605.84,858.7 606.06,872.3 606.29,893.3 606.51,863.3 606.73,912.5 606.95,886.3 607.17,890.4 607.39,868.8 607.62,896.7 607.84,916.7 608.06,888.9 608.28,876.0 608.50,880.4 608.72,906.7 608.94,895.5 609.17,904.0 609.39,882.4 609.61,860.6 609.83,895.8 610.05,860.1 610.27,919.2 610.50,896.2 610.72,888.4 610.94,919.0 611.16,919.3 611.38,895.1 611.60,900.7 611.82,882.7 612.05,885.0 612.27,876.0 612.49,891.2 612.71,879.5 612.93,914.1 613.15,898.4 613.38,885.7 613.60,868.2 613.82,918.3 614.04,807.4 614.26,895.6 614.48,891.8 614.70,891.7 614.93,874.1 615.15,917.0 615.37,892.8 615.59,869.3 615.81,918.2 616.03,858.3 616.25,900.3 616.48,902.0 616.70,859.4 616.92,920.4 617.14,880.4 617.36,898.3 617.58,906.3 617.81,903.6 618.03,885.2 618.25,904.1 618.47,899.9 618.69,912.4 618.91,892.9 619.13,890.1 619.36,886.5 619.58,888.6 619.80,862.8 620.02,887.9 620.24,898.9 620.46,870.5 620.69,909.0 620.91,884.8 621.13,896.7 621.35,922.7 621.57,893.7 621.79,902.1 622.01,861.6 622.24,863.2 622.46,864.5 622.68,861.7 622.90,873.0 623.12,860.8 623.34,882.3 623.57,853.3 623.79,871.0 624.01,863.2 624.23,831.2 624.45,889.6 624.67,871.6 624.89,909.0 625.12,865.6 625.34,884.8 625.56,883.4 625.78,908.0 626.00,840.1 626.22,888.1 626.45,886.0 626.67,876.9 626.89,878.3 627.11,876.3 627.33,877.9 627.55,855.8 627.77,873.8 628.00,865.1 628.22,863.9 628.44,857.4 628.66,911.0 628.88,887.7 629.10,870.7 629.33,867.4 629.55,931.8 629.77,850.1 629.99,835.7 630.21,902.8 630.43,840.3 630.65,868.3 630.88,916.1 631.10,919.4 631.32,889.5 631.54,917.1 631.76,881.2 631.98,880.9 632.21,897.5 632.43,900.6 632.65,867.5 632.87,913.5 633.09,857.5 633.31,876.5 633.53,924.3 633.76,881.2 633.98,901.5 634.20,874.6 634.42,856.0 634.64,880.2 634.86,899.5 635.08,874.7 635.31,920.2 635.53,905.8 635.75,916.7 635.97,926.1 636.19,883.3 636.41,900.2 636.64,913.0 636.86,884.3 637.08,887.2 637.30,912.4 637.52,900.3 637.74,892.2 637.96,879.6 638.19,888.7 638.41,897.7 638.63,901.2 638.85,881.2 639.07,884.5 639.29,856.0 639.52,856.0 639.74,905.6 639.96,892.4 640.18,891.7 640.40,862.7 640.62,872.5 640.84,882.1 641.07,921.6 641.29,884.0 641.51,906.6 641.73,904.4 641.95,887.4 642.17,876.2 642.40,926.1 642.62,903.8 642.84,917.3 643.06,880.9 643.28,914.9 643.50,929.2 643.72,927.2 643.95,927.2 644.17,930.0 644.39,905.5 644.61,939.7 644.83,937.5 645.05,965.4 645.28,950.8 645.50,929.5 645.72,930.6 645.94,984.1 646.16,936.1 646.38,974.8 646.60,977.6 646.83,982.1 647.05,991.9 647.27,998.4 647.49,959.0 647.71,967.3 647.93,1017.6 648.16,985.1 648.38,966.2 648.60,973.7 648.82,1002.4 649.04,970.0 649.26,960.0 649.48,967.3 649.71,1005.2 649.93,981.9 650.15,997.8 650.37,934.9 650.59,974.1 650.81,959.6 651.04,950.4 651.26,941.2 651.48,933.5 651.70,941.7 651.92,973.2 652.14,947.0 652.36,955.6 652.59,928.4 652.81,973.2 653.03,945.4 653.25,957.2 653.47,950.2 653.69,949.2 653.92,947.8 654.14,989.4 654.36,936.6 654.58,930.7 654.80,943.9 655.02,917.7 655.24,936.9 655.47,966.9 655.69,974.0 655.91,933.4 656.13,930.6 656.35,943.6 656.57,911.1 656.79,929.4 657.02,959.3 657.24,928.1 657.46,930.7 657.68,966.9 657.90,954.5 658.12,946.3 658.35,949.5 658.57,930.7 658.79,901.2 659.01,940.4 659.23,989.1 659.45,958.3 659.67,942.7 659.90,949.9 660.12,945.3 660.34,927.8 660.56,987.1 660.78,985.8 661.00,932.8 661.23,949.7 661.45,980.6 661.67,925.0 661.89,944.5 662.11,989.3 662.33,956.5 662.55,992.8 662.78,972.0 663.00,958.0 663.22,1001.8 663.44,973.1 663.66,978.6 663.88,1001.4 664.11,957.0 664.33,983.7 664.55,954.5 664.77,930.7 664.99,943.2 665.21,961.4 665.43,975.2 665.66,994.3 665.88,964.6 666.10,958.2 666.32,941.5 666.54,951.5 666.76,968.4 666.99,926.1 667.21,926.1 667.43,982.0 667.65,998.4 667.87,943.9 668.09,959.3 668.31,957.7 668.54,933.2 668.76,1000.7 668.98,936.9 669.20,961.7 669.42,959.1 669.64,914.1 669.87,942.3 670.09,924.0 670.31,954.5 670.53,952.1 670.75,956.0 670.97,964.7 671.19,932.3 671.42,969.3 671.64,922.8 671.86,879.8 672.08,952.1 672.30,939.3 672.52,978.1 672.75,907.5 672.97,932.7 673.19,946.8 673.41,975.8 673.63,931.7 673.85,945.9 674.07,951.6 674.30,934.6 674.52,932.0 674.74,972.1 674.96,916.3 675.18,945.1 675.40,961.2 675.63,986.4 675.85,960.8 676.07,936.3 676.29,921.6 676.51,953.4 676.73,952.1 676.95,953.2 677.18,950.7 677.40,966.3 677.62,944.3 677.84,989.4 678.06,942.3 678.28,931.2 678.50,922.5 678.73,916.3 678.95,975.1 679.17,946.1 679.39,931.8 679.61,912.5 679.83,971.5 680.06,955.7 680.28,936.6 680.50,930.4 680.72,959.4 680.94,927.6 681.16,971.3 681.38,966.8 681.61,959.7 681.83,921.8 682.05,952.3 682.27,909.7 682.49,935.2 682.71,919.4 682.94,948.9 683.16,907.5 683.38,948.6 683.60,944.6 683.82,935.8 684.04,924.5 684.26,954.5 684.49,926.5 684.71,952.7 684.93,862.8 685.15,954.7 685.37,946.7 685.59,914.0 685.82,938.5 686.04,972.7 686.26,917.3 686.48,975.8 686.70,974.2 686.92,921.4 687.14,939.7 687.37,951.4 687.59,948.8 687.81,943.8 688.03,951.6 688.25,907.4 688.47,949.4 688.70,942.7 688.92,933.4 689.14,936.1 689.36,923.0 689.58,954.4 689.80,905.8 690.02,972.8 690.25,939.6 690.47,932.7 690.69,942.4 690.91,968.4 691.13,945.1 691.35,971.3 691.58,985.2 691.80,950.0 692.02,960.1 692.24,974.0 692.46,981.1 692.68,973.0 692.90,952.2 693.13,935.1 693.35,963.2 693.57,957.5 693.79,952.8 694.01,940.5 694.23,969.4 694.46,977.6 694.68,945.2 694.90,998.4 695.12,984.9 695.34,944.4 695.56,925.8 695.78,983.2 696.01,976.0 696.23,955.9 696.45,946.6 696.67,935.3 696.89,972.1 697.11,959.9 697.34,972.5 697.56,941.6 697.78,917.1 698.00,926.9 698.22,935.5 698.44,924.4 698.66,968.4 698.89,983.1 699.11,934.3 699.33,1009.7 699.55,965.1 699.77,976.7 699.99,950.5 700.21,965.1 700.44,975.8 700.66,1008.8 700.88,983.9 701.10,978.9 701.32,937.3 701.54,976.0 701.77,952.5 701.99,967.4 702.21,975.9 702.43,993.1 702.65,984.6 702.87,975.3 703.09,969.8 703.32,921.6 703.54,950.4 703.76,927.9 703.98,1005.6 704.20,968.0 704.42,992.8 704.65,994.4 704.87,971.0 705.09,1024.4 705.31,934.6 705.53,943.6 705.75,981.0 705.97,1024.9 706.20,983.4 706.42,1018.5 706.64,1000.3 706.86,973.0 707.08,960.2 707.30,927.8 707.53,928.2 707.75,928.5 707.97,957.0 708.19,939.3 708.41,965.3 708.63,985.0 708.85,966.2 709.08,930.6 709.30,961.3 709.52,1019.7 709.74,963.4 709.96,942.1 710.18,1010.9 710.41,966.6 710.63,1025.6 710.85,968.8 711.07,948.9 711.29,969.5 711.51,982.7 711.73,942.3 711.96,1018.6 712.18,1012.3 712.40,1048.2 712.62,964.5 712.84,993.9 713.06,999.7 713.29,1007.8 713.51,926.4 713.73,942.5 713.95,1025.6 714.17,923.7 714.39,940.2 714.61,970.2 714.84,969.2 715.06,973.3 715.28,931.8 715.50,1001.1 715.72,917.1 715.94,947.0 716.17,981.4 716.39,951.7 716.61,986.2 716.83,948.3 717.05,993.2 717.27,993.1 717.49,998.4 717.72,954.6 717.94,971.2 718.16,946.6 718.38,986.7 718.60,979.7 718.82,953.9 719.05,972.8 719.27,988.3 719.49,970.4 719.71,961.5 719.93,1004.9 720.15,959.1 720.37,941.9 720.60,950.6 720.82,991.0 721.04,944.1 721.26,997.6 721.48,973.7 721.70,971.9 721.92,1016.5 722.15,984.6 722.37,977.1 722.59,979.1 722.81,991.8 723.03,995.6 723.25,940.4 723.48,1010.3 723.70,963.2 723.92,986.0 724.14,943.8 724.36,962.8 724.58,949.6 724.80,935.1 725.03,964.4 725.25,969.1 725.47,965.0 725.69,973.6 725.91,949.2 726.13,953.8 726.36,949.9 726.58,1007.5 726.80,961.6 727.02,937.2 727.24,987.1 727.46,967.2 727.68,981.7 727.91,945.4 728.13,961.7 728.35,922.3 728.57,946.1 728.79,944.3 729.01,959.2 729.24,915.2 729.46,909.2 729.68,951.0 729.90,936.9 730.12,970.8 730.34,948.1 730.56,923.5 730.79,953.3 731.01,987.1 731.23,1006.4 731.45,984.0 731.67,1003.7 731.89,939.0 732.12,964.4 732.34,931.6 732.56,978.1 732.78,986.7 733.00,961.9 733.22,957.5 733.44,957.2 733.67,946.8 733.89,935.1 734.11,1028.9 734.33,957.1 734.55,1022.2 734.77,981.3 735.00,951.6 735.22,997.1 735.44,1034.6 735.66,959.4 735.88,978.2 736.10,957.7 736.32,975.5 736.55,1017.5 736.77,999.1 736.99,964.4 737.21,943.1 737.43,1025.7 737.65,975.8 737.88,992.6 738.10,1022.3 738.32,969.0 738.54,1018.5 738.76,945.8 738.98,970.2 739.20,992.8 739.43,941.9 739.65,953.5 739.87,1051.6 740.09,955.3 740.31,1052.7 740.53,1007.7 740.75,994.2 740.98,968.4 741.20,1032.3 741.42,952.3 741.64,992.6 741.86,999.8 742.08,986.3 742.31,1027.7 742.53,995.1 742.75,1004.6 742.97,998.5 743.19,1029.7 743.41,972.4 743.63,1037.5 743.86,982.7 744.08,941.9 744.30,1001.2 744.52,1004.0 744.74,990.6 744.96,938.3 745.19,980.2 745.41,989.9 745.63,1038.0 745.85,1007.9 746.07,944.5 746.29,968.1 746.51,979.9 746.74,967.9 746.96,942.0 747.18,966.2 747.40,997.9 747.62,989.6 747.84,992.0 748.07,955.2 748.29,960.7 748.51,923.8 748.73,992.3 748.95,963.9 749.17,944.2 749.39,925.1 749.62,990.8 749.84,996.0 750.06,1005.2 750.28,980.1 750.50,1004.3 750.72,965.8 750.95,959.9 751.17,971.2 751.39,960.9 751.61,988.7 751.83,975.5 752.05,946.1 752.27,919.6 752.50,967.2 752.72,947.3 752.94,989.6 753.16,954.9 753.38,964.7 753.60,918.2 753.83,944.1 754.05,995.9 754.27,967.0 754.49,961.2 754.71,979.8 754.93,951.8 755.15,1003.0 755.38,956.8 755.60,949.7 755.82,941.6 756.04,982.6 756.26,991.8 756.48,970.2 756.71,971.7 756.93,948.1 757.15,984.1 757.37,1003.8 757.59,971.6 757.81,984.1 758.03,952.7 758.26,990.2 758.48,961.6 758.70,953.2 758.92,979.6 759.14,1002.6 759.36,963.5 759.59,965.7 759.81,961.5 760.03,1014.0 760.25,1013.1 760.47,986.8 760.69,1015.6 760.91,983.5 761.14,941.2 761.36,968.8 761.58,955.1 761.80,1016.4 762.02,949.2 762.24,982.6 762.46,965.6 762.69,966.6 762.91,975.7 763.13,972.0 763.35,930.6 763.57,948.0 763.79,960.7 764.02,952.1 764.24,955.1 764.46,978.0 764.68,972.1 764.90,1018.8 765.12,970.4 765.34,1019.9 765.57,959.3 765.79,953.1 766.01,1000.2 766.23,960.0 766.45,979.6 766.67,1000.0 766.90,974.6 767.12,968.6 767.34,1000.6 767.56,980.3 767.78,1027.8 768.00,948.3 768.22,968.5 768.45,927.5 768.67,956.3 768.89,927.2 769.11,985.4 769.33,996.6 769.55,961.5 769.78,966.5 770.00,950.4 770.22,943.7 770.44,1030.1 770.66,1017.7 770.88,986.9 771.10,989.3 771.33,969.2 771.55,929.2 771.77,995.8 771.99,1004.2 772.21,978.5 772.43,994.0 772.66,993.8 772.88,974.8 773.10,957.1 773.32,930.6 773.54,944.2 773.76,987.7 773.98,970.7 774.21,966.2 774.43,949.7 774.65,985.9 774.87,966.9 775.09,1016.5 775.31,957.4 775.54,948.3 775.76,1007.5 775.98,968.3 776.20,975.8 776.42,947.6 776.64,976.0 776.86,995.9 777.09,968.5 777.31,978.3 777.53,964.8 777.75,1017.6 777.97,929.5 778.19,984.4 778.42,979.4 778.64,969.0 778.86,1016.9 779.08,934.3 779.30,974.5 779.52,1017.6 779.74,952.4 779.97,985.4 780.19,986.7 780.41,984.8 780.63,972.9 780.85,966.4 781.07,970.1 781.30,973.4 781.52,1000.0 781.74,1006.5 781.96,989.2 782.18,972.9 782.40,948.7 782.62,987.5 782.85,978.3 783.07,995.5 783.29,1005.1 783.51,946.1 783.73,975.6 783.95,981.1 784.17,1016.5 784.40,996.5 784.62,963.2 784.84,981.7 785.06,978.4 785.28,1017.2 785.50,983.4 785.73,978.3 785.95,1017.4 786.17,994.7 786.39,997.5 786.61,969.7 786.83,989.2 787.05,937.4 787.28,943.6 787.50,943.7 787.72,978.8 787.94,999.0 788.16,982.4 788.38,963.4 788.61,1017.6 788.83,974.7 789.05,969.1 789.27,928.8 789.49,945.0 789.71,917.1 789.93,971.9 790.16,970.0 790.38,974.4 790.60,982.0 790.82,1001.8 791.04,958.6 791.26,998.4 791.49,984.2 791.71,974.0 791.93,935.0 792.15,927.4 792.37,979.4 792.59,1007.2 792.81,984.5 793.04,964.8 793.26,975.3 793.48,931.8 793.70,947.5 793.92,991.7 794.14,989.6 794.37,935.3 794.59,997.1 794.81,937.4 795.03,993.3 795.25,972.1 795.47,975.7 795.69,983.2 795.92,981.1 796.14,990.7 796.36,959.6 796.58,1014.3 796.80,966.6 797.02,991.6 797.25,990.2 797.47,943.8 797.69,981.6 797.91,989.5 798.13,966.7 798.35,971.6 798.57,972.4 798.80,959.2 799.02,972.8 799.24,994.0 799.46,948.7 799.68,993.3 799.90,986.5 800.13,995.8 800.35,974.2 800.57,983.2 800.79,1001.6 801.01,999.6 801.23,975.9 801.45,959.2 801.68,954.8 801.90,973.6 802.12,976.7 802.34,936.4 802.56,972.3 802.78,974.3 803.01,973.2 803.23,956.6 803.45,1006.6 803.67,983.6 803.89,923.8 804.11,959.3 804.33,983.9 804.56,953.2 804.78,971.7 805.00,943.8 805.22,966.1 805.44,1050.4 805.66,949.7 805.88,986.1 806.11,928.4 806.33,972.9 806.55,1002.4 806.77,956.8 806.99,947.7 807.21,1017.2 807.44,998.0 807.66,971.4 807.88,1021.0 808.10,969.7 808.32,967.2 808.54,969.7 808.76,958.7 808.99,937.1 809.21,963.0 809.43,935.3 809.65,946.9 809.87,975.5 810.09,953.2 810.32,931.7 810.54,967.7 810.76,986.7 810.98,965.5 811.20,964.5 811.42,987.2 811.64,1006.0 811.87,932.9 812.09,984.3 812.31,961.3 812.53,981.0 812.75,949.1 812.97,933.9 813.20,973.7 813.42,1022.2 813.64,985.5 813.86,956.0 814.08,997.3 814.30,970.4 814.52,999.1 814.75,960.2 814.97,986.4 815.19,964.5 815.41,967.9 815.63,965.6 815.85,983.7 816.08,931.1 816.30,997.9 816.52,932.7 816.74,951.5 816.96,970.7 817.18,987.3 817.40,900.1 817.63,961.6 817.85,939.4 818.07,952.5 818.29,980.5 818.51,988.0 818.73,963.4 818.96,972.3 819.18,998.4 819.40,969.7 819.62,937.1 819.84,952.5 820.06,980.8 820.28,1004.9 820.51,987.9 820.73,958.7 820.95,941.9 821.17,1007.0 821.39,958.5 821.61,979.2 821.84,963.3 822.06,965.3 822.28,951.0 822.50,1006.3 822.72,991.7 822.94,989.9 823.16,998.1 823.39,986.8 823.61,993.0 823.83,970.0 824.05,980.9 824.27,953.2 824.49,1000.6 824.72,973.7 824.94,969.7 825.16,968.5 825.38,1001.6 825.60,982.2 825.82,1014.3 826.04,953.8 826.27,974.8 826.49,931.0 826.71,957.9 826.93,922.7 827.15,913.7 827.37,963.5 827.59,958.0 827.82,1006.9 828.04,965.7 828.26,980.1 828.48,948.9 828.70,931.8 828.92,1003.0 829.15,1013.6 829.37,950.5 829.59,972.2 829.81,999.5 830.03,930.6 830.25,930.3 830.47,998.0 830.70,972.5 830.92,929.6 831.14,962.2 831.36,994.8 831.58,1021.0 831.80,1020.6 832.03,928.5 832.25,960.6 832.47,963.3 832.69,954.2 832.91,964.6 833.13,959.0 833.35,1000.4 833.58,968.8 833.80,948.4 834.02,1004.6 834.24,985.8 834.46,926.1 834.68,973.0 834.91,990.6 835.13,974.4 835.35,957.7 835.57,980.7 835.79,982.4 836.01,1019.9 836.23,997.6 836.46,950.6 836.68,989.0 836.90,970.7 837.12,956.2 837.34,994.2 837.56,988.8 837.79,978.2 838.01,1001.4 838.23,990.0 838.45,962.3 838.67,1009.3 838.89,1069.6 839.11,975.3 839.34,991.3 839.56,1001.0 839.78,993.5 840.00,972.1 840.22,1021.0 840.44,1002.1 840.67,973.6 840.89,994.7 841.11,986.4 841.33,999.2 841.55,983.2 841.77,1006.7 841.99,977.2 842.22,990.2 842.44,953.2 842.66,986.0 842.88,967.5 843.10,987.2 843.32,1004.6 843.55,962.0 843.77,955.2 843.99,1009.7 844.21,969.8 844.43,960.6 844.65,957.3 844.87,996.4 845.10,916.9 845.32,930.7 845.54,962.2 845.76,908.0 845.98,935.5 846.20,928.8 846.42,992.1 846.65,942.4 846.87,953.9 847.09,942.4 847.31,991.7 847.53,943.7 847.75,954.6 847.98,981.5 848.20,937.9 848.42,951.7 848.64,951.5 848.86,967.4 849.08,910.3 849.30,921.4 849.53,936.4 849.75,921.6 849.97,933.2 850.19,941.9 850.41,925.2 850.63,957.2 850.86,993.9 851.08,945.1 851.30,976.3 851.52,1008.1 851.74,958.1 851.96,955.6 852.18,982.0 852.41,984.5 852.63,971.2 852.85,976.3 853.07,980.4 853.29,959.3 853.51,985.6 853.74,948.7 853.96,1014.9 854.18,1039.1 854.40,968.7 854.62,985.0 854.84,972.9 855.06,975.8 855.29,1021.0 855.51,977.1 855.73,981.4 855.95,989.6 856.17,952.1 856.39,991.3 856.62,975.8 856.84,1011.7 857.06,997.2 857.28,968.6 857.50,998.5 857.72,970.8 857.94,987.1 858.17,992.9 858.39,985.0 858.61,978.2 858.83,989.7 859.05,963.3 859.27,936.3 859.50,959.3 859.72,943.6 859.94,954.0 860.16,992.4 860.38,984.5 860.60,985.6 860.82,1017.6 861.05,941.9 861.27,964.9 861.49,977.7 861.71,1008.3 861.93,997.9 862.15,1000.5 862.38,985.4 862.60,996.3 862.82,962.6 863.04,962.7 863.26,992.2 863.48,962.8 863.70,985.4 863.93,951.0 864.15,952.4 864.37,1000.7 864.59,968.6 864.81,976.9 865.03,969.5 865.26,995.4 865.48,1012.0 865.70,958.5 865.92,948.5 866.14,976.3 866.36,979.3 866.58,961.8 866.81,935.4 867.03,966.7 867.25,991.3 867.47,945.6 867.69,966.6 867.91,970.0 868.13,972.0 868.36,927.2 868.58,979.8 868.80,970.9 869.02,992.5 869.24,987.6 869.46,973.2 869.69,963.8 869.91,1000.7 870.13,972.4 870.35,956.4 870.57,950.5 870.79,932.0 871.01,940.6 871.24,1011.3 871.46,964.2 871.68,980.7 871.90,969.0 872.12,983.2 872.34,1032.3 872.57,992.3 872.79,954.4 873.01,942.4 873.23,959.0 873.45,959.5 873.67,938.2 873.89,943.3 874.12,1016.5 874.34,964.9 874.56,1004.7 874.78,1010.3 875.00,1012.8 875.22,967.6 875.45,949.5 875.67,944.3 875.89,946.6 876.11,977.4 876.33,963.8 876.55,989.1 876.77,1020.5 877.00,1016.4 877.22,966.4 877.44,1021.2 877.66,972.5 877.88,979.2 878.10,989.4 878.33,949.5 878.55,935.1 878.77,975.0 878.99,970.3 879.21,980.9 879.43,958.7 879.65,947.8 879.88,972.3 880.10,1022.2 880.32,957.3 880.54,998.1 880.76,987.1 880.98,990.0 881.21,990.1 881.43,954.7 881.65,1015.0 881.87,957.2 882.09,979.1 882.31,985.9 882.53,977.8 882.76,974.6 882.98,954.2 883.20,962.3 883.42,970.8 883.64,996.2 883.86,956.3 884.09,926.1 884.31,1011.6 884.53,970.7 884.75,957.9 884.97,949.1 885.19,1009.0 885.41,970.2 885.64,974.2 885.86,1012.0 886.08,977.4 886.30,973.1 886.52,953.5 886.74,982.1 886.97,956.7 887.19,1003.0 887.41,947.4 887.63,951.1 887.85,953.9 888.07,968.9 888.29,930.3 888.52,965.7 888.74,901.2 888.96,997.2 889.18,982.9 889.40,961.0 889.62,964.5 889.84,939.9 890.07,968.5 890.29,998.4 890.51,947.8 890.73,943.6 890.95,972.8 891.17,929.8 891.40,997.9 891.62,943.4 891.84,959.0 892.06,970.3 892.28,997.4 892.50,982.3 892.72,937.6 892.95,942.0 893.17,932.9 893.39,934.0 893.61,969.1 893.83,958.0 894.05,988.5 894.28,995.1 894.50,1011.2 894.72,1018.8 894.94,981.5 895.16,955.6 895.38,957.9 895.60,947.0 895.83,961.0 896.05,972.8 896.27,965.3 896.49,972.4 896.71,930.6 896.93,930.0 897.16,981.6 897.38,954.9 897.60,928.7 897.82,977.2 898.04,968.3 898.26,998.4 898.48,968.5 898.71,945.3 898.93,965.8 899.15,966.0 899.37,952.4 899.59,976.4 899.81,965.0 900.04,953.7 900.26,964.9 900.48,942.8 900.70,973.2 900.92,990.1 901.14,921.6 901.36,1002.2 901.59,982.7 901.81,928.6 902.03,975.5 902.25,967.3 902.47,959.1 902.69,1021.0 902.92,995.0 903.14,971.7 903.36,977.5 903.58,978.1 903.80,993.3 904.02,1005.3 904.24,954.2 904.47,989.6 904.69,986.1 904.91,994.2 905.13,1005.1 905.35,979.6 905.57,969.1 905.80,988.7 906.02,973.4 906.24,1008.3 906.46,982.2 906.68,986.6 906.90,992.5 907.12,967.0 907.35,1012.0 907.57,989.2 907.79,1001.2 908.01,984.9 908.23,1013.6 908.45,993.5 908.68,996.6 908.90,1001.1 909.12,962.6 909.34,993.0 909.56,1019.8 909.78,1004.4 910.00,969.8 910.23,953.2 910.45,987.8 910.67,1010.7 910.89,1041.4 911.11,1005.3 911.33,992.4 911.55,985.8 911.78,1021.0 912.00,1014.6 912.22,996.6 912.44,968.9 912.66,1002.0 912.88,1003.5 913.11,966.0 913.33,972.2 913.55,995.1 913.77,996.3 913.99,976.3 914.21,1010.7 914.43,999.9 914.66,991.5 914.88,990.4 915.10,996.1 915.32,1001.1 915.54,987.2 915.76,951.0 915.99,999.0 916.21,982.8 916.43,999.4 916.65,978.1 916.87,979.9 917.09,980.3 917.31,1004.9 917.54,1022.2 917.76,942.5 917.98,975.6 918.20,1006.1 918.42,960.2 918.64,925.0 918.87,962.7 919.09,958.5 919.31,964.3 919.53,974.6 919.75,950.0 919.97,934.9 920.19,1005.2 920.42,955.4 920.64,986.8 920.86,958.6 921.08,977.5 921.30,981.1 921.52,972.4 921.75,982.9 921.97,954.9 922.19,965.7 922.41,990.0 922.63,953.2 922.85,996.5 923.07,992.5 923.30,1010.7 923.52,987.0 923.74,980.5 923.96,1020.7 924.18,1021.0 924.40,1004.8 924.63,944.7 924.85,984.0 925.07,972.4 925.29,988.2 925.51,1002.7 925.73,977.3 925.95,975.3 926.18,938.1 926.40,994.0 926.62,1004.3 926.84,980.6 927.06,934.0 927.28,984.2 927.51,997.2 927.73,989.2 927.95,1016.4 928.17,969.7 928.39,950.6 928.61,985.0 928.83,1019.9 929.06,1013.7 929.28,1012.9 929.50,964.0 929.72,954.0 929.94,962.5 930.16,940.3 930.38,979.0 930.61,981.8 930.83,988.2 931.05,961.1 931.27,964.0 931.49,948.3 931.71,941.9 931.94,987.8 932.16,1008.2 932.38,958.0 932.60,969.0 932.82,991.9 933.04,964.5 933.26,1005.2 933.49,972.1 933.71,972.5 933.93,938.5 934.15,974.2 934.37,954.6 934.59,996.6 934.82,981.1 935.04,969.5 935.26,964.5 935.48,987.5 935.70,966.7 935.92,985.8 936.14,935.1 936.37,981.3 936.59,936.4 936.81,953.5 937.03,997.5 937.25,995.8 937.47,1024.6 937.70,1032.3 937.92,1003.5 938.14,981.6 938.36,1000.0 938.58,967.5 938.80,971.2 939.02,943.7 939.25,970.5 939.47,986.5 939.69,994.7 939.91,1009.2 940.13,947.0 940.35,1013.5 940.58,1013.1 940.80,948.7 941.02,993.7 941.24,1008.3 941.46,997.5 941.68,957.3 941.90,1030.1 942.13,957.1 942.35,1024.4 942.57,954.3 942.79,1034.2 943.01,1013.5 943.23,1010.6 943.46,957.8 943.68,997.1 943.90,985.4 944.12,946.4 944.34,961.7 944.56,998.0 944.78,959.8 945.01,1040.3 945.23,1004.8 945.45,994.5 945.67,1040.3 945.89,951.4 946.11,974.6 946.34,976.3 946.56,1002.0 946.78,971.2 947.00,997.2 947.22,1005.8 947.44,948.5 947.66,968.8 947.89,969.6 948.11,970.2 948.33,1022.2 948.55,978.7 948.77,961.7 948.99,967.9 949.22,965.2 949.44,952.9 949.66,964.2 949.88,967.1 950.10,931.1 950.32,990.4 950.54,953.2 950.77,929.5 950.99,993.9 951.21,1007.3 951.43,968.8 951.65,936.4 951.87,1012.6 952.09,929.8 952.32,1012.0 952.54,955.5 952.76,986.1 952.98,986.7 953.20,978.1 953.42,965.7 953.65,1012.5 953.87,956.5 954.09,976.8 954.31,1005.1 954.53,946.6 954.75,971.1 954.97,992.7 955.20,930.6 955.42,945.5 955.64,972.2 955.86,1009.5 956.08,967.2 956.30,983.0 956.53,975.3 956.75,1014.3 956.97,1004.4 957.19,992.3 957.41,996.9 957.63,971.5 957.85,976.6 958.08,979.2 958.30,983.7 958.52,1003.2 958.74,966.4 958.96,1000.6 959.18,955.9 959.41,968.5 959.63,970.0 959.85,967.9 960.07,955.4 960.29,963.9 960.51,992.9 960.73,972.0 960.96,941.9 961.18,1008.6 961.40,953.4 961.62,996.3 961.84,983.3 962.06,951.5 962.29,968.5 962.51,1018.8 962.73,952.3 962.95,991.7 963.17,1015.4 963.39,951.6 963.61,941.4 963.84,969.6 964.06,945.8 964.28,968.5 964.50,967.3 964.72,978.1 964.94,989.6 965.17,972.1 965.39,930.6 965.61,966.4 965.83,990.3 966.05,986.2 966.27,1002.1 966.49,1014.9 966.72,956.0 966.94,1012.0 967.16,984.4 967.38,995.2 967.60,957.5 967.82,1003.5 968.05,974.1 968.27,970.3 968.49,980.1 968.71,928.4 968.93,937.1 969.15,965.9 969.37,948.6 969.60,973.9 969.82,974.7 970.04,948.5 970.26,959.0 970.48,1021.0 970.70,935.7 970.93,970.3 971.15,950.4 971.37,938.9 971.59,1000.8 971.81,1049.3 972.03,970.4 972.25,968.6 972.48,1007.0 972.70,1003.3 972.92,978.2 973.14,996.6 973.36,1023.3 973.58,945.5 973.80,991.4 974.03,994.5 974.25,990.8 974.47,972.1 974.69,967.2 974.91,964.4 975.13,987.8 975.36,998.9 975.58,930.6 975.80,956.0 976.02,989.6 976.24,953.7 976.46,1025.4 976.68,968.0 976.91,990.0 977.13,1030.1 977.35,982.5 977.57,999.8 977.79,987.3 978.01,959.4 978.24,982.8 978.46,921.6 978.68,974.4 978.90,979.3 979.12,965.7 979.34,936.0 979.56,965.7 979.79,963.0 980.01,968.0 980.23,1014.3 980.45,947.9 980.67,984.1 980.89,987.3 981.12,990.6 981.34,982.6 981.56,974.5 981.78,1017.0 982.00,990.7 982.22,978.0 982.44,995.5 982.67,977.6 982.89,994.2 983.11,986.3 983.33,992.2 983.55,939.7 983.77,971.0 984.00,989.1 984.22,1000.0 984.44,957.9 984.66,964.3 984.88,951.9 985.10,1026.7 985.32,966.4 985.55,986.7 985.77,952.6 985.99,975.3 986.21,925.0 986.43,956.9 986.65,977.0 986.88,959.4 987.10,926.1 987.32,986.1 987.54,967.5 987.76,1007.5 987.98,1000.3 988.20,959.1 988.43,964.2 988.65,940.1 988.87,947.6 989.09,985.6 989.31,979.9 989.53,980.0 989.76,1021.7 989.98,957.0 990.20,939.2 990.42,1000.2 990.64,930.6 990.86,1002.4 991.08,977.2 991.31,994.6 991.53,967.2 991.75,978.8 991.97,975.8 992.19,987.5 992.41,1025.6 992.64,1017.6 992.86,937.2 993.08,978.9 993.30,981.5 993.52,976.9 993.74,939.7 993.96,964.1 994.19,959.4 994.41,965.6 994.63,955.1 994.85,995.9 995.07,976.2 995.29,1025.6 995.51,934.6 995.74,1000.3 995.96,908.0 996.18,947.1 996.40,937.4 996.62,915.5 996.84,922.9 997.07,901.5 997.29,934.0 997.51,998.4 997.73,891.4 997.95,900.6 998.17,876.4 998.39,925.0 998.62,900.0 998.84,907.2 999.06,915.8 999.28,911.1 999.50,923.8 999.72,857.2 999.95,886.8 1000.17,888.9 1000.39,883.0 1000.61,898.5 1000.83,887.1 1001.05,890.7 1001.27,921.6 1001.50,881.8 1001.72,920.0 1001.94,915.0 1002.16,884.5 1002.38,913.0 1002.60,889.9 1002.83,914.4 1003.05,905.7 1003.27,908.6 1003.49,877.8 1003.71,917.0 1003.93,888.8 1004.15,898.0 1004.38,931.8 1004.60,903.9 1004.82,899.8 1005.04,893.2 1005.26,912.3 1005.48,863.6 1005.71,856.2 1005.93,920.1 1006.15,836.8 1006.37,905.6 1006.59,837.1 1006.81,874.1 1007.03,871.9 1007.26,883.7 1007.48,871.2 1007.70,928.4 1007.92,878.3 1008.14,895.3 1008.36,857.6 1008.59,908.8 1008.81,865.5 1009.03,877.5 1009.25,838.6 1009.47,883.9 1009.69,838.8 1009.91,883.3 1010.14,839.1 1010.36,869.0 1010.58,870.6 1010.80,865.9 1011.02,901.4 1011.24,891.3 1011.47,883.8 1011.69,912.5 1011.91,897.5 1012.13,867.6 1012.35,864.2 1012.57,865.5 1012.79,896.8 1013.02,884.0 1013.24,845.9 1013.46,897.4 1013.68,890.3 1013.90,877.5 1014.12,900.3 1014.35,945.8 1014.57,904.1 1014.79,924.5 1015.01,921.6 1015.23,923.1 1015.45,937.1 1015.67,903.5 1015.90,934.9 1016.12,945.5 1016.34,951.8 1016.56,969.9 1016.78,989.5 1017.00,980.8 1017.22,975.8 1017.45,963.8 1017.67,954.0 1017.89,978.7 1018.11,992.5 1018.33,988.0 1018.55,1024.4 1018.78,987.1 1019.00,998.9 1019.22,972.4 1019.44,970.5 1019.66,974.5 1019.88,971.2 1020.10,1009.7 1020.33,933.6 1020.55,968.4 1020.77,986.6 1020.99,979.9 1021.21,986.6 1021.43,953.8 1021.66,988.3 1021.88,926.1 1022.10,945.2 1022.32,962.1 1022.54,937.7 1022.76,940.0 1022.98,949.1 1023.21,974.2 1023.43,1000.7 1023.65,958.1 1023.87,945.1 1024.09,900.1 1024.31,993.9 1024.54,961.2 1024.76,978.5 1024.98,924.6 1025.20,993.9" fill="none" stroke="#000" stroke-width="3.0" stroke-linejoin="bevel"/>
<line x1="139.3" y1="1076.5" x2="139.3" y2="1069.6" stroke="#111" stroke-width="1.3"/>
<line x1="198.4" y1="1076.5" x2="198.4" y2="1072.0" stroke="#555" stroke-width="0.7"/>
<line x1="257.4" y1="1076.5" x2="257.4" y2="1072.0" stroke="#555" stroke-width="0.7"/>
<line x1="316.5" y1="1076.5" x2="316.5" y2="1072.0" stroke="#555" stroke-width="0.7"/>
<line x1="375.5" y1="1076.5" x2="375.5" y2="1072.0" stroke="#555" stroke-width="0.7"/>
<line x1="434.6" y1="1076.5" x2="434.6" y2="1069.6" stroke="#111" stroke-width="1.3"/>
<line x1="493.7" y1="1076.5" x2="493.7" y2="1072.0" stroke="#555" stroke-width="0.7"/>
<line x1="552.7" y1="1076.5" x2="552.7" y2="1072.0" stroke="#555" stroke-width="0.7"/>
<line x1="611.8" y1="1076.5" x2="611.8" y2="1072.0" stroke="#555" stroke-width="0.7"/>
<line x1="670.8" y1="1076.5" x2="670.8" y2="1072.0" stroke="#555" stroke-width="0.7"/>
<line x1="729.9" y1="1076.5" x2="729.9" y2="1069.6" stroke="#111" stroke-width="1.3"/>
<line x1="789.0" y1="1076.5" x2="789.0" y2="1072.0" stroke="#555" stroke-width="0.7"/>
<line x1="848.0" y1="1076.5" x2="848.0" y2="1072.0" stroke="#555" stroke-width="0.7"/>
<line x1="907.1" y1="1076.5" x2="907.1" y2="1072.0" stroke="#555" stroke-width="0.7"/>
<line x1="966.1" y1="1076.5" x2="966.1" y2="1072.0" stroke="#555" stroke-width="0.7"/>
<line x1="1025.2" y1="1076.5" x2="1025.2" y2="1069.6" stroke="#111" stroke-width="1.3"/>
<line x1="139.3" y1="1061.8" x2="143.8" y2="1061.8" stroke="#555" stroke-width="0.7"/>
<line x1="139.3" y1="1042.8" x2="143.8" y2="1042.8" stroke="#555" stroke-width="0.7"/>
<line x1="139.3" y1="1024.0" x2="143.8" y2="1024.0" stroke="#555" stroke-width="0.7"/>
<line x1="139.3" y1="1005.1" x2="146.5" y2="1005.1" stroke="#111" stroke-width="1.3"/>
<line x1="139.3" y1="986.2" x2="143.8" y2="986.2" stroke="#555" stroke-width="0.7"/>
<line x1="139.3" y1="967.2" x2="143.8" y2="967.2" stroke="#555" stroke-width="0.7"/>
<line x1="139.3" y1="948.4" x2="143.8" y2="948.4" stroke="#555" stroke-width="0.7"/>
<line x1="139.3" y1="929.5" x2="146.5" y2="929.5" stroke="#111" stroke-width="1.3"/>
<line x1="139.3" y1="910.6" x2="143.8" y2="910.6" stroke="#555" stroke-width="0.7"/>
<line x1="139.3" y1="891.7" x2="143.8" y2="891.7" stroke="#555" stroke-width="0.7"/>
<line x1="139.3" y1="872.8" x2="143.8" y2="872.8" stroke="#555" stroke-width="0.7"/>
<line x1="139.3" y1="853.9" x2="146.5" y2="853.9" stroke="#111" stroke-width="1.3"/>
<line x1="139.3" y1="835.0" x2="143.8" y2="835.0" stroke="#555" stroke-width="0.7"/>
<line x1="139.3" y1="816.1" x2="143.8" y2="816.1" stroke="#555" stroke-width="0.7"/>
<line x1="139.3" y1="797.2" x2="143.8" y2="797.2" stroke="#555" stroke-width="0.7"/>
<rect x="139.3" y="782.4" width="885.9" height="294.1" fill="none" stroke="#222" stroke-width="1.25"/>
<circle cx="642.9" cy="888.9" r="7.5" fill="#04d404"/>
<circle cx="1013.5" cy="888.9" r="7.5" fill="#04d404"/>
<circle cx="600.3" cy="970.0" r="7.5" fill="#04d404"/>
<circle cx="996.6" cy="970.0" r="7.5" fill="#04d404"/>
<circle cx="602.1" cy="888.9" r="7.5" fill="#d00202"/>
<circle cx="996.6" cy="888.9" r="7.5" fill="#d00202"/>
<circle cx="645.2" cy="970.0" r="7.5" fill="#d00202"/>
<circle cx="1017.6" cy="970.0" r="7.5" fill="#d00202"/>
<text x="140.0" y="1114.3" text-anchor="middle" class="tkx">0</text>
<text x="434.6" y="1114.3" text-anchor="middle" class="tkx">200</text>
<text x="729.9" y="1114.3" text-anchor="middle" class="tkx">400</text>
<text x="1023.2" y="1114.3" text-anchor="middle" class="tkx">600</text>
<text x="133.2" y="864.1" text-anchor="end" class="tky">0.02</text>
<text x="133.2" y="939.7" text-anchor="end" class="tky">0</text>
<text x="133.2" y="1015.3" text-anchor="end" class="tky">−0.02</text>
<g transform="translate(43.5,978.5) rotate(-90)"><text x="0" y="0" class="yl"><tspan class="it">δ</tspan>(<tspan class="it">t</tspan>)<tspan font-size="50" dy="6" dx="0.5">/</tspan><tspan class="it" dy="-6" dx="0.8">K</tspan></text><text x="3" y="-9" class="yl">ˆ</text></g>
<text x="4.5" y="798.7" class="pl">(<tspan class="it">c</tspan>)</text>
</g>
<text x="194.2" y="56" class="an" style="font-size:33.4px">No control</text>
<text x="193.4" y="431" class="an"><tspan class="it">h</tspan><tspan class="it sub" dy="10.5" dx="1">c</tspan><tspan dy="-9" dx="3.4" font-size="36.5">=</tspan><tspan dy="-1.5" dx="5.7">0</tspan></text>
<text x="193.5" y="818.6" class="an"><tspan class="it">h</tspan><tspan class="it sub" dy="10.5" dx="1">c</tspan><tspan dy="-9" dx="3.4" font-size="36.5">=</tspan><tspan dy="-1.5" dx="5.7">0.15</tspan></text>
<text x="466" y="1168.7" class="ti"><tspan class="it">t</tspan><tspan dx="1.5" dy="6" font-size="45">/</tspan><tspan class="it" dx="1.5" dy="-6">t</tspan><tspan class="it sub2" dy="13" dx="1">E</tspan><tspan dy="-13" dx="8.5">(arb. orig.)</tspan></text>
</svg>
</body>
</html>
